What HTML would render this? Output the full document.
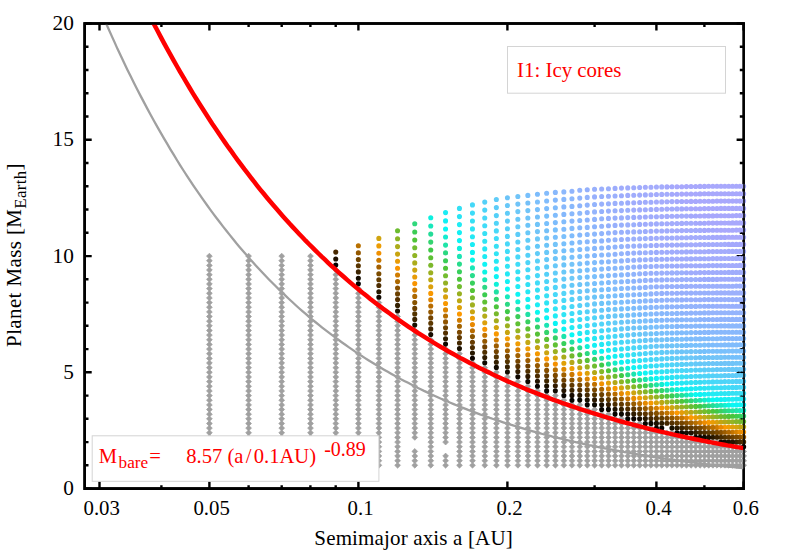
<!DOCTYPE html>
<html><head><meta charset="utf-8"><title>chart</title>
<style>
html,body{margin:0;padding:0;background:#fff;}
body{width:789px;height:552px;position:relative;overflow:hidden;font-family:"Liberation Serif",serif;}
div{font-family:"Liberation Serif",serif;}
</style></head><body>
<svg width="789" height="552" viewBox="0 0 789 552" style="position:absolute;left:0;top:0">
<defs><clipPath id="c"><rect x="84.7" y="23.5" width="662.9" height="465.1"/></clipPath></defs>
<path d="M99.5 488.6v-7.0M99.5 23.5v7.0M161.4 488.6v-3.4M161.4 23.5v3.4M209.4 488.6v-7.0M209.4 23.5v7.0M248.6 488.6v-3.4M248.6 23.5v3.4M281.7 488.6v-3.4M281.7 23.5v3.4M310.4 488.6v-3.4M310.4 23.5v3.4M335.7 488.6v-3.4M335.7 23.5v3.4M358.4 488.6v-7.0M358.4 23.5v7.0M507.4 488.6v-7.0M507.4 23.5v7.0M594.6 488.6v-3.4M594.6 23.5v3.4M656.4 488.6v-7.0M656.4 23.5v7.0M704.4 488.6v-3.4M704.4 23.5v3.4M743.6 488.6v-7.0M743.6 23.5v7.0M84.7 488.6h7.0M743.6 488.6h-7.0M84.7 465.3h3.8M743.6 465.3h-3.8M84.7 442.1h3.8M743.6 442.1h-3.8M84.7 418.8h3.8M743.6 418.8h-3.8M84.7 395.6h3.8M743.6 395.6h-3.8M84.7 372.3h7.0M743.6 372.3h-7.0M84.7 349.1h3.8M743.6 349.1h-3.8M84.7 325.8h3.8M743.6 325.8h-3.8M84.7 302.6h3.8M743.6 302.6h-3.8M84.7 279.3h3.8M743.6 279.3h-3.8M84.7 256.1h7.0M743.6 256.1h-7.0M84.7 232.8h3.8M743.6 232.8h-3.8M84.7 209.5h3.8M743.6 209.5h-3.8M84.7 186.3h3.8M743.6 186.3h-3.8M84.7 163.0h3.8M743.6 163.0h-3.8M84.7 139.8h7.0M743.6 139.8h-7.0M84.7 116.5h3.8M743.6 116.5h-3.8M84.7 93.3h3.8M743.6 93.3h-3.8M84.7 70.0h3.8M743.6 70.0h-3.8M84.7 46.8h3.8M743.6 46.8h-3.8M84.7 23.5h7.0M743.6 23.5h-7.0" fill="none" stroke="#000" stroke-width="2.4"/>
<rect x="84.7" y="23.5" width="658.9" height="465.1" fill="none" stroke="#000" stroke-width="2.6"/>
<g clip-path="url(#c)">
<path d="M206.5 465.3l2.9 -2.9 2.9 2.9 -2.9 2.9zM206.5 460.7l2.9 -2.9 2.9 2.9 -2.9 2.9zM206.5 456.0l2.9 -2.9 2.9 2.9 -2.9 2.9zM206.5 451.4l2.9 -2.9 2.9 2.9 -2.9 2.9zM206.5 446.7l2.9 -2.9 2.9 2.9 -2.9 2.9zM206.5 442.1l2.9 -2.9 2.9 2.9 -2.9 2.9zM206.5 437.4l2.9 -2.9 2.9 2.9 -2.9 2.9zM206.5 432.8l2.9 -2.9 2.9 2.9 -2.9 2.9zM206.5 428.1l2.9 -2.9 2.9 2.9 -2.9 2.9zM206.5 423.5l2.9 -2.9 2.9 2.9 -2.9 2.9zM206.5 418.8l2.9 -2.9 2.9 2.9 -2.9 2.9zM206.5 414.2l2.9 -2.9 2.9 2.9 -2.9 2.9zM206.5 409.5l2.9 -2.9 2.9 2.9 -2.9 2.9zM206.5 404.9l2.9 -2.9 2.9 2.9 -2.9 2.9zM206.5 400.2l2.9 -2.9 2.9 2.9 -2.9 2.9zM206.5 395.6l2.9 -2.9 2.9 2.9 -2.9 2.9zM206.5 390.9l2.9 -2.9 2.9 2.9 -2.9 2.9zM206.5 386.3l2.9 -2.9 2.9 2.9 -2.9 2.9zM206.5 381.6l2.9 -2.9 2.9 2.9 -2.9 2.9zM206.5 377.0l2.9 -2.9 2.9 2.9 -2.9 2.9zM206.5 372.3l2.9 -2.9 2.9 2.9 -2.9 2.9zM206.5 367.7l2.9 -2.9 2.9 2.9 -2.9 2.9zM206.5 363.0l2.9 -2.9 2.9 2.9 -2.9 2.9zM206.5 358.4l2.9 -2.9 2.9 2.9 -2.9 2.9zM206.5 353.7l2.9 -2.9 2.9 2.9 -2.9 2.9zM206.5 349.1l2.9 -2.9 2.9 2.9 -2.9 2.9zM206.5 344.4l2.9 -2.9 2.9 2.9 -2.9 2.9zM206.5 339.8l2.9 -2.9 2.9 2.9 -2.9 2.9zM206.5 335.1l2.9 -2.9 2.9 2.9 -2.9 2.9zM206.5 330.5l2.9 -2.9 2.9 2.9 -2.9 2.9zM206.5 325.8l2.9 -2.9 2.9 2.9 -2.9 2.9zM206.5 321.2l2.9 -2.9 2.9 2.9 -2.9 2.9zM206.5 316.5l2.9 -2.9 2.9 2.9 -2.9 2.9zM206.5 311.9l2.9 -2.9 2.9 2.9 -2.9 2.9zM206.5 307.2l2.9 -2.9 2.9 2.9 -2.9 2.9zM206.5 302.6l2.9 -2.9 2.9 2.9 -2.9 2.9zM206.5 297.9l2.9 -2.9 2.9 2.9 -2.9 2.9zM206.5 293.3l2.9 -2.9 2.9 2.9 -2.9 2.9zM206.5 288.6l2.9 -2.9 2.9 2.9 -2.9 2.9zM206.5 284.0l2.9 -2.9 2.9 2.9 -2.9 2.9zM206.5 279.3l2.9 -2.9 2.9 2.9 -2.9 2.9zM206.5 274.7l2.9 -2.9 2.9 2.9 -2.9 2.9zM206.5 270.0l2.9 -2.9 2.9 2.9 -2.9 2.9zM206.5 265.4l2.9 -2.9 2.9 2.9 -2.9 2.9zM206.5 260.7l2.9 -2.9 2.9 2.9 -2.9 2.9zM206.5 256.1l2.9 -2.9 2.9 2.9 -2.9 2.9zM245.7 465.3l2.9 -2.9 2.9 2.9 -2.9 2.9zM245.7 460.7l2.9 -2.9 2.9 2.9 -2.9 2.9zM245.7 456.0l2.9 -2.9 2.9 2.9 -2.9 2.9zM245.7 451.4l2.9 -2.9 2.9 2.9 -2.9 2.9zM245.7 446.7l2.9 -2.9 2.9 2.9 -2.9 2.9zM245.7 442.1l2.9 -2.9 2.9 2.9 -2.9 2.9zM245.7 437.4l2.9 -2.9 2.9 2.9 -2.9 2.9zM245.7 432.8l2.9 -2.9 2.9 2.9 -2.9 2.9zM245.7 428.1l2.9 -2.9 2.9 2.9 -2.9 2.9zM245.7 423.5l2.9 -2.9 2.9 2.9 -2.9 2.9zM245.7 418.8l2.9 -2.9 2.9 2.9 -2.9 2.9zM245.7 414.2l2.9 -2.9 2.9 2.9 -2.9 2.9zM245.7 409.5l2.9 -2.9 2.9 2.9 -2.9 2.9zM245.7 404.9l2.9 -2.9 2.9 2.9 -2.9 2.9zM245.7 400.2l2.9 -2.9 2.9 2.9 -2.9 2.9zM245.7 395.6l2.9 -2.9 2.9 2.9 -2.9 2.9zM245.7 390.9l2.9 -2.9 2.9 2.9 -2.9 2.9zM245.7 386.3l2.9 -2.9 2.9 2.9 -2.9 2.9zM245.7 381.6l2.9 -2.9 2.9 2.9 -2.9 2.9zM245.7 377.0l2.9 -2.9 2.9 2.9 -2.9 2.9zM245.7 372.3l2.9 -2.9 2.9 2.9 -2.9 2.9zM245.7 367.7l2.9 -2.9 2.9 2.9 -2.9 2.9zM245.7 363.0l2.9 -2.9 2.9 2.9 -2.9 2.9zM245.7 358.4l2.9 -2.9 2.9 2.9 -2.9 2.9zM245.7 353.7l2.9 -2.9 2.9 2.9 -2.9 2.9zM245.7 349.1l2.9 -2.9 2.9 2.9 -2.9 2.9zM245.7 344.4l2.9 -2.9 2.9 2.9 -2.9 2.9zM245.7 339.8l2.9 -2.9 2.9 2.9 -2.9 2.9zM245.7 335.1l2.9 -2.9 2.9 2.9 -2.9 2.9zM245.7 330.5l2.9 -2.9 2.9 2.9 -2.9 2.9zM245.7 325.8l2.9 -2.9 2.9 2.9 -2.9 2.9zM245.7 321.2l2.9 -2.9 2.9 2.9 -2.9 2.9zM245.7 316.5l2.9 -2.9 2.9 2.9 -2.9 2.9zM245.7 311.9l2.9 -2.9 2.9 2.9 -2.9 2.9zM245.7 307.2l2.9 -2.9 2.9 2.9 -2.9 2.9zM245.7 302.6l2.9 -2.9 2.9 2.9 -2.9 2.9zM245.7 297.9l2.9 -2.9 2.9 2.9 -2.9 2.9zM245.7 293.3l2.9 -2.9 2.9 2.9 -2.9 2.9zM245.7 288.6l2.9 -2.9 2.9 2.9 -2.9 2.9zM245.7 284.0l2.9 -2.9 2.9 2.9 -2.9 2.9zM245.7 279.3l2.9 -2.9 2.9 2.9 -2.9 2.9zM245.7 274.7l2.9 -2.9 2.9 2.9 -2.9 2.9zM245.7 270.0l2.9 -2.9 2.9 2.9 -2.9 2.9zM245.7 265.4l2.9 -2.9 2.9 2.9 -2.9 2.9zM245.7 260.7l2.9 -2.9 2.9 2.9 -2.9 2.9zM245.7 256.1l2.9 -2.9 2.9 2.9 -2.9 2.9zM278.8 465.3l2.9 -2.9 2.9 2.9 -2.9 2.9zM278.8 460.7l2.9 -2.9 2.9 2.9 -2.9 2.9zM278.8 456.0l2.9 -2.9 2.9 2.9 -2.9 2.9zM278.8 451.4l2.9 -2.9 2.9 2.9 -2.9 2.9zM278.8 446.7l2.9 -2.9 2.9 2.9 -2.9 2.9zM278.8 442.1l2.9 -2.9 2.9 2.9 -2.9 2.9zM278.8 437.4l2.9 -2.9 2.9 2.9 -2.9 2.9zM278.8 432.8l2.9 -2.9 2.9 2.9 -2.9 2.9zM278.8 428.1l2.9 -2.9 2.9 2.9 -2.9 2.9zM278.8 423.5l2.9 -2.9 2.9 2.9 -2.9 2.9zM278.8 418.8l2.9 -2.9 2.9 2.9 -2.9 2.9zM278.8 414.2l2.9 -2.9 2.9 2.9 -2.9 2.9zM278.8 409.5l2.9 -2.9 2.9 2.9 -2.9 2.9zM278.8 404.9l2.9 -2.9 2.9 2.9 -2.9 2.9zM278.8 400.2l2.9 -2.9 2.9 2.9 -2.9 2.9zM278.8 395.6l2.9 -2.9 2.9 2.9 -2.9 2.9zM278.8 390.9l2.9 -2.9 2.9 2.9 -2.9 2.9zM278.8 386.3l2.9 -2.9 2.9 2.9 -2.9 2.9zM278.8 381.6l2.9 -2.9 2.9 2.9 -2.9 2.9zM278.8 377.0l2.9 -2.9 2.9 2.9 -2.9 2.9zM278.8 372.3l2.9 -2.9 2.9 2.9 -2.9 2.9zM278.8 367.7l2.9 -2.9 2.9 2.9 -2.9 2.9zM278.8 363.0l2.9 -2.9 2.9 2.9 -2.9 2.9zM278.8 358.4l2.9 -2.9 2.9 2.9 -2.9 2.9zM278.8 353.7l2.9 -2.9 2.9 2.9 -2.9 2.9zM278.8 349.1l2.9 -2.9 2.9 2.9 -2.9 2.9zM278.8 344.4l2.9 -2.9 2.9 2.9 -2.9 2.9zM278.8 339.8l2.9 -2.9 2.9 2.9 -2.9 2.9zM278.8 335.1l2.9 -2.9 2.9 2.9 -2.9 2.9zM278.8 330.5l2.9 -2.9 2.9 2.9 -2.9 2.9zM278.8 325.8l2.9 -2.9 2.9 2.9 -2.9 2.9zM278.8 321.2l2.9 -2.9 2.9 2.9 -2.9 2.9zM278.8 316.5l2.9 -2.9 2.9 2.9 -2.9 2.9zM278.8 311.9l2.9 -2.9 2.9 2.9 -2.9 2.9zM278.8 307.2l2.9 -2.9 2.9 2.9 -2.9 2.9zM278.8 302.6l2.9 -2.9 2.9 2.9 -2.9 2.9zM278.8 297.9l2.9 -2.9 2.9 2.9 -2.9 2.9zM278.8 293.3l2.9 -2.9 2.9 2.9 -2.9 2.9zM278.8 288.6l2.9 -2.9 2.9 2.9 -2.9 2.9zM278.8 284.0l2.9 -2.9 2.9 2.9 -2.9 2.9zM278.8 279.3l2.9 -2.9 2.9 2.9 -2.9 2.9zM278.8 274.7l2.9 -2.9 2.9 2.9 -2.9 2.9zM278.8 270.0l2.9 -2.9 2.9 2.9 -2.9 2.9zM278.8 265.4l2.9 -2.9 2.9 2.9 -2.9 2.9zM278.8 260.7l2.9 -2.9 2.9 2.9 -2.9 2.9zM278.8 256.1l2.9 -2.9 2.9 2.9 -2.9 2.9zM307.6 465.3l2.9 -2.9 2.9 2.9 -2.9 2.9zM307.6 460.7l2.9 -2.9 2.9 2.9 -2.9 2.9zM307.6 456.0l2.9 -2.9 2.9 2.9 -2.9 2.9zM307.6 451.4l2.9 -2.9 2.9 2.9 -2.9 2.9zM307.6 446.7l2.9 -2.9 2.9 2.9 -2.9 2.9zM307.6 442.1l2.9 -2.9 2.9 2.9 -2.9 2.9zM307.6 437.4l2.9 -2.9 2.9 2.9 -2.9 2.9zM307.6 432.8l2.9 -2.9 2.9 2.9 -2.9 2.9zM307.6 428.1l2.9 -2.9 2.9 2.9 -2.9 2.9zM307.6 423.5l2.9 -2.9 2.9 2.9 -2.9 2.9zM307.6 418.8l2.9 -2.9 2.9 2.9 -2.9 2.9zM307.6 414.2l2.9 -2.9 2.9 2.9 -2.9 2.9zM307.6 409.5l2.9 -2.9 2.9 2.9 -2.9 2.9zM307.6 404.9l2.9 -2.9 2.9 2.9 -2.9 2.9zM307.6 400.2l2.9 -2.9 2.9 2.9 -2.9 2.9zM307.6 395.6l2.9 -2.9 2.9 2.9 -2.9 2.9zM307.6 390.9l2.9 -2.9 2.9 2.9 -2.9 2.9zM307.6 386.3l2.9 -2.9 2.9 2.9 -2.9 2.9zM307.6 381.6l2.9 -2.9 2.9 2.9 -2.9 2.9zM307.6 377.0l2.9 -2.9 2.9 2.9 -2.9 2.9zM307.6 372.3l2.9 -2.9 2.9 2.9 -2.9 2.9zM307.6 367.7l2.9 -2.9 2.9 2.9 -2.9 2.9zM307.6 363.0l2.9 -2.9 2.9 2.9 -2.9 2.9zM307.6 358.4l2.9 -2.9 2.9 2.9 -2.9 2.9zM307.6 353.7l2.9 -2.9 2.9 2.9 -2.9 2.9zM307.6 349.1l2.9 -2.9 2.9 2.9 -2.9 2.9zM307.6 344.4l2.9 -2.9 2.9 2.9 -2.9 2.9zM307.6 339.8l2.9 -2.9 2.9 2.9 -2.9 2.9zM307.6 335.1l2.9 -2.9 2.9 2.9 -2.9 2.9zM307.6 330.5l2.9 -2.9 2.9 2.9 -2.9 2.9zM307.6 325.8l2.9 -2.9 2.9 2.9 -2.9 2.9zM307.6 321.2l2.9 -2.9 2.9 2.9 -2.9 2.9zM307.6 316.5l2.9 -2.9 2.9 2.9 -2.9 2.9zM307.6 311.9l2.9 -2.9 2.9 2.9 -2.9 2.9zM307.6 307.2l2.9 -2.9 2.9 2.9 -2.9 2.9zM307.6 302.6l2.9 -2.9 2.9 2.9 -2.9 2.9zM307.6 297.9l2.9 -2.9 2.9 2.9 -2.9 2.9zM307.6 293.3l2.9 -2.9 2.9 2.9 -2.9 2.9zM307.6 288.6l2.9 -2.9 2.9 2.9 -2.9 2.9zM307.6 284.0l2.9 -2.9 2.9 2.9 -2.9 2.9zM307.6 279.3l2.9 -2.9 2.9 2.9 -2.9 2.9zM307.6 274.7l2.9 -2.9 2.9 2.9 -2.9 2.9zM307.6 270.0l2.9 -2.9 2.9 2.9 -2.9 2.9zM307.6 265.4l2.9 -2.9 2.9 2.9 -2.9 2.9zM307.6 260.7l2.9 -2.9 2.9 2.9 -2.9 2.9zM307.6 256.1l2.9 -2.9 2.9 2.9 -2.9 2.9zM332.9 465.3l2.9 -2.9 2.9 2.9 -2.9 2.9zM332.9 460.7l2.9 -2.9 2.9 2.9 -2.9 2.9zM332.9 456.0l2.9 -2.9 2.9 2.9 -2.9 2.9zM332.9 451.4l2.9 -2.9 2.9 2.9 -2.9 2.9zM332.9 446.7l2.9 -2.9 2.9 2.9 -2.9 2.9zM332.9 442.1l2.9 -2.9 2.9 2.9 -2.9 2.9zM332.9 437.4l2.9 -2.9 2.9 2.9 -2.9 2.9zM332.9 432.8l2.9 -2.9 2.9 2.9 -2.9 2.9zM332.9 428.1l2.9 -2.9 2.9 2.9 -2.9 2.9zM332.9 423.5l2.9 -2.9 2.9 2.9 -2.9 2.9zM332.9 418.8l2.9 -2.9 2.9 2.9 -2.9 2.9zM332.9 414.2l2.9 -2.9 2.9 2.9 -2.9 2.9zM332.9 409.5l2.9 -2.9 2.9 2.9 -2.9 2.9zM332.9 404.9l2.9 -2.9 2.9 2.9 -2.9 2.9zM332.9 400.2l2.9 -2.9 2.9 2.9 -2.9 2.9zM332.9 395.6l2.9 -2.9 2.9 2.9 -2.9 2.9zM332.9 390.9l2.9 -2.9 2.9 2.9 -2.9 2.9zM332.9 386.3l2.9 -2.9 2.9 2.9 -2.9 2.9zM332.9 381.6l2.9 -2.9 2.9 2.9 -2.9 2.9zM332.9 377.0l2.9 -2.9 2.9 2.9 -2.9 2.9zM332.9 372.3l2.9 -2.9 2.9 2.9 -2.9 2.9zM332.9 367.7l2.9 -2.9 2.9 2.9 -2.9 2.9zM332.9 363.0l2.9 -2.9 2.9 2.9 -2.9 2.9zM332.9 358.4l2.9 -2.9 2.9 2.9 -2.9 2.9zM332.9 353.7l2.9 -2.9 2.9 2.9 -2.9 2.9zM332.9 349.1l2.9 -2.9 2.9 2.9 -2.9 2.9zM332.9 344.4l2.9 -2.9 2.9 2.9 -2.9 2.9zM332.9 339.8l2.9 -2.9 2.9 2.9 -2.9 2.9zM332.9 335.1l2.9 -2.9 2.9 2.9 -2.9 2.9zM332.9 330.5l2.9 -2.9 2.9 2.9 -2.9 2.9zM332.9 325.8l2.9 -2.9 2.9 2.9 -2.9 2.9zM332.9 321.2l2.9 -2.9 2.9 2.9 -2.9 2.9zM332.9 316.5l2.9 -2.9 2.9 2.9 -2.9 2.9zM332.9 311.9l2.9 -2.9 2.9 2.9 -2.9 2.9zM332.9 307.2l2.9 -2.9 2.9 2.9 -2.9 2.9zM332.9 302.6l2.9 -2.9 2.9 2.9 -2.9 2.9zM332.9 297.9l2.9 -2.9 2.9 2.9 -2.9 2.9zM332.9 293.3l2.9 -2.9 2.9 2.9 -2.9 2.9zM332.9 288.6l2.9 -2.9 2.9 2.9 -2.9 2.9zM332.9 284.0l2.9 -2.9 2.9 2.9 -2.9 2.9zM332.9 279.3l2.9 -2.9 2.9 2.9 -2.9 2.9zM332.9 274.7l2.9 -2.9 2.9 2.9 -2.9 2.9zM332.9 270.0l2.9 -2.9 2.9 2.9 -2.9 2.9zM355.5 465.3l2.9 -2.9 2.9 2.9 -2.9 2.9zM355.5 460.7l2.9 -2.9 2.9 2.9 -2.9 2.9zM355.5 456.0l2.9 -2.9 2.9 2.9 -2.9 2.9zM355.5 451.4l2.9 -2.9 2.9 2.9 -2.9 2.9zM355.5 446.7l2.9 -2.9 2.9 2.9 -2.9 2.9zM355.5 442.1l2.9 -2.9 2.9 2.9 -2.9 2.9zM355.5 437.4l2.9 -2.9 2.9 2.9 -2.9 2.9zM355.5 432.8l2.9 -2.9 2.9 2.9 -2.9 2.9zM355.5 428.1l2.9 -2.9 2.9 2.9 -2.9 2.9zM355.5 423.5l2.9 -2.9 2.9 2.9 -2.9 2.9zM355.5 418.8l2.9 -2.9 2.9 2.9 -2.9 2.9zM355.5 414.2l2.9 -2.9 2.9 2.9 -2.9 2.9zM355.5 409.5l2.9 -2.9 2.9 2.9 -2.9 2.9zM355.5 404.9l2.9 -2.9 2.9 2.9 -2.9 2.9zM355.5 400.2l2.9 -2.9 2.9 2.9 -2.9 2.9zM355.5 395.6l2.9 -2.9 2.9 2.9 -2.9 2.9zM355.5 390.9l2.9 -2.9 2.9 2.9 -2.9 2.9zM355.5 386.3l2.9 -2.9 2.9 2.9 -2.9 2.9zM355.5 381.6l2.9 -2.9 2.9 2.9 -2.9 2.9zM355.5 377.0l2.9 -2.9 2.9 2.9 -2.9 2.9zM355.5 372.3l2.9 -2.9 2.9 2.9 -2.9 2.9zM355.5 367.7l2.9 -2.9 2.9 2.9 -2.9 2.9zM355.5 363.0l2.9 -2.9 2.9 2.9 -2.9 2.9zM355.5 358.4l2.9 -2.9 2.9 2.9 -2.9 2.9zM355.5 353.7l2.9 -2.9 2.9 2.9 -2.9 2.9zM355.5 349.1l2.9 -2.9 2.9 2.9 -2.9 2.9zM355.5 344.4l2.9 -2.9 2.9 2.9 -2.9 2.9zM355.5 339.8l2.9 -2.9 2.9 2.9 -2.9 2.9zM355.5 335.1l2.9 -2.9 2.9 2.9 -2.9 2.9zM355.5 330.5l2.9 -2.9 2.9 2.9 -2.9 2.9zM355.5 325.8l2.9 -2.9 2.9 2.9 -2.9 2.9zM355.5 321.2l2.9 -2.9 2.9 2.9 -2.9 2.9zM355.5 316.5l2.9 -2.9 2.9 2.9 -2.9 2.9zM355.5 311.9l2.9 -2.9 2.9 2.9 -2.9 2.9zM355.5 307.2l2.9 -2.9 2.9 2.9 -2.9 2.9zM355.5 302.6l2.9 -2.9 2.9 2.9 -2.9 2.9zM355.5 297.9l2.9 -2.9 2.9 2.9 -2.9 2.9zM355.5 293.3l2.9 -2.9 2.9 2.9 -2.9 2.9zM355.5 288.6l2.9 -2.9 2.9 2.9 -2.9 2.9zM376.0 465.3l2.9 -2.9 2.9 2.9 -2.9 2.9zM376.0 460.7l2.9 -2.9 2.9 2.9 -2.9 2.9zM376.0 456.0l2.9 -2.9 2.9 2.9 -2.9 2.9zM376.0 451.4l2.9 -2.9 2.9 2.9 -2.9 2.9zM376.0 446.7l2.9 -2.9 2.9 2.9 -2.9 2.9zM376.0 442.1l2.9 -2.9 2.9 2.9 -2.9 2.9zM376.0 437.4l2.9 -2.9 2.9 2.9 -2.9 2.9zM376.0 432.8l2.9 -2.9 2.9 2.9 -2.9 2.9zM376.0 428.1l2.9 -2.9 2.9 2.9 -2.9 2.9zM376.0 423.5l2.9 -2.9 2.9 2.9 -2.9 2.9zM376.0 418.8l2.9 -2.9 2.9 2.9 -2.9 2.9zM376.0 414.2l2.9 -2.9 2.9 2.9 -2.9 2.9zM376.0 409.5l2.9 -2.9 2.9 2.9 -2.9 2.9zM376.0 404.9l2.9 -2.9 2.9 2.9 -2.9 2.9zM376.0 400.2l2.9 -2.9 2.9 2.9 -2.9 2.9zM376.0 395.6l2.9 -2.9 2.9 2.9 -2.9 2.9zM376.0 390.9l2.9 -2.9 2.9 2.9 -2.9 2.9zM376.0 386.3l2.9 -2.9 2.9 2.9 -2.9 2.9zM376.0 381.6l2.9 -2.9 2.9 2.9 -2.9 2.9zM376.0 377.0l2.9 -2.9 2.9 2.9 -2.9 2.9zM376.0 372.3l2.9 -2.9 2.9 2.9 -2.9 2.9zM376.0 367.7l2.9 -2.9 2.9 2.9 -2.9 2.9zM376.0 363.0l2.9 -2.9 2.9 2.9 -2.9 2.9zM376.0 358.4l2.9 -2.9 2.9 2.9 -2.9 2.9zM376.0 353.7l2.9 -2.9 2.9 2.9 -2.9 2.9zM376.0 349.1l2.9 -2.9 2.9 2.9 -2.9 2.9zM376.0 344.4l2.9 -2.9 2.9 2.9 -2.9 2.9zM376.0 339.8l2.9 -2.9 2.9 2.9 -2.9 2.9zM376.0 335.1l2.9 -2.9 2.9 2.9 -2.9 2.9zM376.0 330.5l2.9 -2.9 2.9 2.9 -2.9 2.9zM376.0 325.8l2.9 -2.9 2.9 2.9 -2.9 2.9zM376.0 321.2l2.9 -2.9 2.9 2.9 -2.9 2.9zM376.0 316.5l2.9 -2.9 2.9 2.9 -2.9 2.9zM376.0 311.9l2.9 -2.9 2.9 2.9 -2.9 2.9zM376.0 307.2l2.9 -2.9 2.9 2.9 -2.9 2.9zM376.0 302.6l2.9 -2.9 2.9 2.9 -2.9 2.9zM394.7 465.3l2.9 -2.9 2.9 2.9 -2.9 2.9zM394.7 460.7l2.9 -2.9 2.9 2.9 -2.9 2.9zM394.7 456.0l2.9 -2.9 2.9 2.9 -2.9 2.9zM394.7 451.4l2.9 -2.9 2.9 2.9 -2.9 2.9zM394.7 446.7l2.9 -2.9 2.9 2.9 -2.9 2.9zM394.7 442.1l2.9 -2.9 2.9 2.9 -2.9 2.9zM394.7 437.4l2.9 -2.9 2.9 2.9 -2.9 2.9zM394.7 432.8l2.9 -2.9 2.9 2.9 -2.9 2.9zM394.7 428.1l2.9 -2.9 2.9 2.9 -2.9 2.9zM394.7 423.5l2.9 -2.9 2.9 2.9 -2.9 2.9zM394.7 418.8l2.9 -2.9 2.9 2.9 -2.9 2.9zM394.7 414.2l2.9 -2.9 2.9 2.9 -2.9 2.9zM394.7 409.5l2.9 -2.9 2.9 2.9 -2.9 2.9zM394.7 404.9l2.9 -2.9 2.9 2.9 -2.9 2.9zM394.7 400.2l2.9 -2.9 2.9 2.9 -2.9 2.9zM394.7 395.6l2.9 -2.9 2.9 2.9 -2.9 2.9zM394.7 390.9l2.9 -2.9 2.9 2.9 -2.9 2.9zM394.7 386.3l2.9 -2.9 2.9 2.9 -2.9 2.9zM394.7 381.6l2.9 -2.9 2.9 2.9 -2.9 2.9zM394.7 377.0l2.9 -2.9 2.9 2.9 -2.9 2.9zM394.7 372.3l2.9 -2.9 2.9 2.9 -2.9 2.9zM394.7 367.7l2.9 -2.9 2.9 2.9 -2.9 2.9zM394.7 363.0l2.9 -2.9 2.9 2.9 -2.9 2.9zM394.7 358.4l2.9 -2.9 2.9 2.9 -2.9 2.9zM394.7 353.7l2.9 -2.9 2.9 2.9 -2.9 2.9zM394.7 349.1l2.9 -2.9 2.9 2.9 -2.9 2.9zM394.7 344.4l2.9 -2.9 2.9 2.9 -2.9 2.9zM394.7 339.8l2.9 -2.9 2.9 2.9 -2.9 2.9zM394.7 335.1l2.9 -2.9 2.9 2.9 -2.9 2.9zM394.7 330.5l2.9 -2.9 2.9 2.9 -2.9 2.9zM394.7 325.8l2.9 -2.9 2.9 2.9 -2.9 2.9zM394.7 321.2l2.9 -2.9 2.9 2.9 -2.9 2.9zM394.7 316.5l2.9 -2.9 2.9 2.9 -2.9 2.9zM411.9 465.3l2.9 -2.9 2.9 2.9 -2.9 2.9zM411.9 460.7l2.9 -2.9 2.9 2.9 -2.9 2.9zM411.9 456.0l2.9 -2.9 2.9 2.9 -2.9 2.9zM411.9 451.4l2.9 -2.9 2.9 2.9 -2.9 2.9zM411.9 437.4l2.9 -2.9 2.9 2.9 -2.9 2.9zM411.9 432.8l2.9 -2.9 2.9 2.9 -2.9 2.9zM411.9 428.1l2.9 -2.9 2.9 2.9 -2.9 2.9zM411.9 423.5l2.9 -2.9 2.9 2.9 -2.9 2.9zM411.9 418.8l2.9 -2.9 2.9 2.9 -2.9 2.9zM411.9 414.2l2.9 -2.9 2.9 2.9 -2.9 2.9zM411.9 409.5l2.9 -2.9 2.9 2.9 -2.9 2.9zM411.9 404.9l2.9 -2.9 2.9 2.9 -2.9 2.9zM411.9 400.2l2.9 -2.9 2.9 2.9 -2.9 2.9zM411.9 395.6l2.9 -2.9 2.9 2.9 -2.9 2.9zM411.9 390.9l2.9 -2.9 2.9 2.9 -2.9 2.9zM411.9 386.3l2.9 -2.9 2.9 2.9 -2.9 2.9zM411.9 381.6l2.9 -2.9 2.9 2.9 -2.9 2.9zM411.9 377.0l2.9 -2.9 2.9 2.9 -2.9 2.9zM411.9 372.3l2.9 -2.9 2.9 2.9 -2.9 2.9zM411.9 367.7l2.9 -2.9 2.9 2.9 -2.9 2.9zM411.9 363.0l2.9 -2.9 2.9 2.9 -2.9 2.9zM411.9 358.4l2.9 -2.9 2.9 2.9 -2.9 2.9zM411.9 353.7l2.9 -2.9 2.9 2.9 -2.9 2.9zM411.9 349.1l2.9 -2.9 2.9 2.9 -2.9 2.9zM411.9 344.4l2.9 -2.9 2.9 2.9 -2.9 2.9zM411.9 339.8l2.9 -2.9 2.9 2.9 -2.9 2.9zM411.9 335.1l2.9 -2.9 2.9 2.9 -2.9 2.9zM411.9 330.5l2.9 -2.9 2.9 2.9 -2.9 2.9zM427.9 465.3l2.9 -2.9 2.9 2.9 -2.9 2.9zM427.9 460.7l2.9 -2.9 2.9 2.9 -2.9 2.9zM427.9 456.0l2.9 -2.9 2.9 2.9 -2.9 2.9zM427.9 451.4l2.9 -2.9 2.9 2.9 -2.9 2.9zM427.9 446.7l2.9 -2.9 2.9 2.9 -2.9 2.9zM427.9 442.1l2.9 -2.9 2.9 2.9 -2.9 2.9zM427.9 437.4l2.9 -2.9 2.9 2.9 -2.9 2.9zM427.9 432.8l2.9 -2.9 2.9 2.9 -2.9 2.9zM427.9 428.1l2.9 -2.9 2.9 2.9 -2.9 2.9zM427.9 423.5l2.9 -2.9 2.9 2.9 -2.9 2.9zM427.9 418.8l2.9 -2.9 2.9 2.9 -2.9 2.9zM427.9 414.2l2.9 -2.9 2.9 2.9 -2.9 2.9zM427.9 409.5l2.9 -2.9 2.9 2.9 -2.9 2.9zM427.9 404.9l2.9 -2.9 2.9 2.9 -2.9 2.9zM427.9 400.2l2.9 -2.9 2.9 2.9 -2.9 2.9zM427.9 395.6l2.9 -2.9 2.9 2.9 -2.9 2.9zM427.9 390.9l2.9 -2.9 2.9 2.9 -2.9 2.9zM427.9 386.3l2.9 -2.9 2.9 2.9 -2.9 2.9zM427.9 381.6l2.9 -2.9 2.9 2.9 -2.9 2.9zM427.9 377.0l2.9 -2.9 2.9 2.9 -2.9 2.9zM427.9 372.3l2.9 -2.9 2.9 2.9 -2.9 2.9zM427.9 367.7l2.9 -2.9 2.9 2.9 -2.9 2.9zM427.9 363.0l2.9 -2.9 2.9 2.9 -2.9 2.9zM427.9 358.4l2.9 -2.9 2.9 2.9 -2.9 2.9zM427.9 353.7l2.9 -2.9 2.9 2.9 -2.9 2.9zM427.9 349.1l2.9 -2.9 2.9 2.9 -2.9 2.9zM427.9 344.4l2.9 -2.9 2.9 2.9 -2.9 2.9zM427.9 339.8l2.9 -2.9 2.9 2.9 -2.9 2.9zM442.7 465.3l2.9 -2.9 2.9 2.9 -2.9 2.9zM442.7 460.7l2.9 -2.9 2.9 2.9 -2.9 2.9zM442.7 456.0l2.9 -2.9 2.9 2.9 -2.9 2.9zM442.7 442.1l2.9 -2.9 2.9 2.9 -2.9 2.9zM442.7 437.4l2.9 -2.9 2.9 2.9 -2.9 2.9zM442.7 432.8l2.9 -2.9 2.9 2.9 -2.9 2.9zM442.7 428.1l2.9 -2.9 2.9 2.9 -2.9 2.9zM442.7 423.5l2.9 -2.9 2.9 2.9 -2.9 2.9zM442.7 418.8l2.9 -2.9 2.9 2.9 -2.9 2.9zM442.7 414.2l2.9 -2.9 2.9 2.9 -2.9 2.9zM442.7 409.5l2.9 -2.9 2.9 2.9 -2.9 2.9zM442.7 404.9l2.9 -2.9 2.9 2.9 -2.9 2.9zM442.7 400.2l2.9 -2.9 2.9 2.9 -2.9 2.9zM442.7 395.6l2.9 -2.9 2.9 2.9 -2.9 2.9zM442.7 390.9l2.9 -2.9 2.9 2.9 -2.9 2.9zM442.7 386.3l2.9 -2.9 2.9 2.9 -2.9 2.9zM442.7 381.6l2.9 -2.9 2.9 2.9 -2.9 2.9zM442.7 377.0l2.9 -2.9 2.9 2.9 -2.9 2.9zM442.7 372.3l2.9 -2.9 2.9 2.9 -2.9 2.9zM442.7 367.7l2.9 -2.9 2.9 2.9 -2.9 2.9zM442.7 363.0l2.9 -2.9 2.9 2.9 -2.9 2.9zM442.7 358.4l2.9 -2.9 2.9 2.9 -2.9 2.9zM442.7 353.7l2.9 -2.9 2.9 2.9 -2.9 2.9zM442.7 349.1l2.9 -2.9 2.9 2.9 -2.9 2.9zM456.6 465.3l2.9 -2.9 2.9 2.9 -2.9 2.9zM456.6 460.7l2.9 -2.9 2.9 2.9 -2.9 2.9zM456.6 456.0l2.9 -2.9 2.9 2.9 -2.9 2.9zM456.6 451.4l2.9 -2.9 2.9 2.9 -2.9 2.9zM456.6 446.7l2.9 -2.9 2.9 2.9 -2.9 2.9zM456.6 442.1l2.9 -2.9 2.9 2.9 -2.9 2.9zM456.6 437.4l2.9 -2.9 2.9 2.9 -2.9 2.9zM456.6 432.8l2.9 -2.9 2.9 2.9 -2.9 2.9zM456.6 428.1l2.9 -2.9 2.9 2.9 -2.9 2.9zM456.6 423.5l2.9 -2.9 2.9 2.9 -2.9 2.9zM456.6 418.8l2.9 -2.9 2.9 2.9 -2.9 2.9zM456.6 414.2l2.9 -2.9 2.9 2.9 -2.9 2.9zM456.6 409.5l2.9 -2.9 2.9 2.9 -2.9 2.9zM456.6 404.9l2.9 -2.9 2.9 2.9 -2.9 2.9zM456.6 400.2l2.9 -2.9 2.9 2.9 -2.9 2.9zM456.6 395.6l2.9 -2.9 2.9 2.9 -2.9 2.9zM456.6 390.9l2.9 -2.9 2.9 2.9 -2.9 2.9zM456.6 386.3l2.9 -2.9 2.9 2.9 -2.9 2.9zM456.6 381.6l2.9 -2.9 2.9 2.9 -2.9 2.9zM456.6 377.0l2.9 -2.9 2.9 2.9 -2.9 2.9zM456.6 372.3l2.9 -2.9 2.9 2.9 -2.9 2.9zM456.6 367.7l2.9 -2.9 2.9 2.9 -2.9 2.9zM456.6 363.0l2.9 -2.9 2.9 2.9 -2.9 2.9zM456.6 358.4l2.9 -2.9 2.9 2.9 -2.9 2.9zM456.6 353.7l2.9 -2.9 2.9 2.9 -2.9 2.9zM469.6 465.3l2.9 -2.9 2.9 2.9 -2.9 2.9zM469.6 460.7l2.9 -2.9 2.9 2.9 -2.9 2.9zM469.6 456.0l2.9 -2.9 2.9 2.9 -2.9 2.9zM469.6 451.4l2.9 -2.9 2.9 2.9 -2.9 2.9zM469.6 446.7l2.9 -2.9 2.9 2.9 -2.9 2.9zM469.6 442.1l2.9 -2.9 2.9 2.9 -2.9 2.9zM469.6 437.4l2.9 -2.9 2.9 2.9 -2.9 2.9zM469.6 432.8l2.9 -2.9 2.9 2.9 -2.9 2.9zM469.6 428.1l2.9 -2.9 2.9 2.9 -2.9 2.9zM469.6 423.5l2.9 -2.9 2.9 2.9 -2.9 2.9zM469.6 418.8l2.9 -2.9 2.9 2.9 -2.9 2.9zM469.6 414.2l2.9 -2.9 2.9 2.9 -2.9 2.9zM469.6 409.5l2.9 -2.9 2.9 2.9 -2.9 2.9zM469.6 404.9l2.9 -2.9 2.9 2.9 -2.9 2.9zM469.6 400.2l2.9 -2.9 2.9 2.9 -2.9 2.9zM469.6 395.6l2.9 -2.9 2.9 2.9 -2.9 2.9zM469.6 390.9l2.9 -2.9 2.9 2.9 -2.9 2.9zM469.6 386.3l2.9 -2.9 2.9 2.9 -2.9 2.9zM469.6 381.6l2.9 -2.9 2.9 2.9 -2.9 2.9zM469.6 377.0l2.9 -2.9 2.9 2.9 -2.9 2.9zM469.6 372.3l2.9 -2.9 2.9 2.9 -2.9 2.9zM469.6 367.7l2.9 -2.9 2.9 2.9 -2.9 2.9zM469.6 363.0l2.9 -2.9 2.9 2.9 -2.9 2.9zM481.9 465.3l2.9 -2.9 2.9 2.9 -2.9 2.9zM481.9 460.7l2.9 -2.9 2.9 2.9 -2.9 2.9zM481.9 456.0l2.9 -2.9 2.9 2.9 -2.9 2.9zM481.9 451.4l2.9 -2.9 2.9 2.9 -2.9 2.9zM481.9 446.7l2.9 -2.9 2.9 2.9 -2.9 2.9zM481.9 442.1l2.9 -2.9 2.9 2.9 -2.9 2.9zM481.9 437.4l2.9 -2.9 2.9 2.9 -2.9 2.9zM481.9 432.8l2.9 -2.9 2.9 2.9 -2.9 2.9zM481.9 428.1l2.9 -2.9 2.9 2.9 -2.9 2.9zM481.9 423.5l2.9 -2.9 2.9 2.9 -2.9 2.9zM481.9 418.8l2.9 -2.9 2.9 2.9 -2.9 2.9zM481.9 414.2l2.9 -2.9 2.9 2.9 -2.9 2.9zM481.9 409.5l2.9 -2.9 2.9 2.9 -2.9 2.9zM481.9 404.9l2.9 -2.9 2.9 2.9 -2.9 2.9zM481.9 400.2l2.9 -2.9 2.9 2.9 -2.9 2.9zM481.9 395.6l2.9 -2.9 2.9 2.9 -2.9 2.9zM481.9 390.9l2.9 -2.9 2.9 2.9 -2.9 2.9zM481.9 386.3l2.9 -2.9 2.9 2.9 -2.9 2.9zM481.9 381.6l2.9 -2.9 2.9 2.9 -2.9 2.9zM481.9 377.0l2.9 -2.9 2.9 2.9 -2.9 2.9zM481.9 372.3l2.9 -2.9 2.9 2.9 -2.9 2.9zM481.9 367.7l2.9 -2.9 2.9 2.9 -2.9 2.9zM493.5 465.3l2.9 -2.9 2.9 2.9 -2.9 2.9zM493.5 460.7l2.9 -2.9 2.9 2.9 -2.9 2.9zM493.5 456.0l2.9 -2.9 2.9 2.9 -2.9 2.9zM493.5 451.4l2.9 -2.9 2.9 2.9 -2.9 2.9zM493.5 446.7l2.9 -2.9 2.9 2.9 -2.9 2.9zM493.5 442.1l2.9 -2.9 2.9 2.9 -2.9 2.9zM493.5 437.4l2.9 -2.9 2.9 2.9 -2.9 2.9zM493.5 432.8l2.9 -2.9 2.9 2.9 -2.9 2.9zM493.5 428.1l2.9 -2.9 2.9 2.9 -2.9 2.9zM493.5 423.5l2.9 -2.9 2.9 2.9 -2.9 2.9zM493.5 418.8l2.9 -2.9 2.9 2.9 -2.9 2.9zM493.5 414.2l2.9 -2.9 2.9 2.9 -2.9 2.9zM493.5 409.5l2.9 -2.9 2.9 2.9 -2.9 2.9zM493.5 404.9l2.9 -2.9 2.9 2.9 -2.9 2.9zM493.5 400.2l2.9 -2.9 2.9 2.9 -2.9 2.9zM493.5 395.6l2.9 -2.9 2.9 2.9 -2.9 2.9zM493.5 390.9l2.9 -2.9 2.9 2.9 -2.9 2.9zM493.5 386.3l2.9 -2.9 2.9 2.9 -2.9 2.9zM493.5 381.6l2.9 -2.9 2.9 2.9 -2.9 2.9zM493.5 377.0l2.9 -2.9 2.9 2.9 -2.9 2.9zM493.5 372.3l2.9 -2.9 2.9 2.9 -2.9 2.9zM504.6 465.3l2.9 -2.9 2.9 2.9 -2.9 2.9zM504.6 460.7l2.9 -2.9 2.9 2.9 -2.9 2.9zM504.6 456.0l2.9 -2.9 2.9 2.9 -2.9 2.9zM504.6 451.4l2.9 -2.9 2.9 2.9 -2.9 2.9zM504.6 446.7l2.9 -2.9 2.9 2.9 -2.9 2.9zM504.6 442.1l2.9 -2.9 2.9 2.9 -2.9 2.9zM504.6 437.4l2.9 -2.9 2.9 2.9 -2.9 2.9zM504.6 432.8l2.9 -2.9 2.9 2.9 -2.9 2.9zM504.6 428.1l2.9 -2.9 2.9 2.9 -2.9 2.9zM504.6 423.5l2.9 -2.9 2.9 2.9 -2.9 2.9zM504.6 418.8l2.9 -2.9 2.9 2.9 -2.9 2.9zM504.6 414.2l2.9 -2.9 2.9 2.9 -2.9 2.9zM504.6 409.5l2.9 -2.9 2.9 2.9 -2.9 2.9zM504.6 404.9l2.9 -2.9 2.9 2.9 -2.9 2.9zM504.6 400.2l2.9 -2.9 2.9 2.9 -2.9 2.9zM504.6 395.6l2.9 -2.9 2.9 2.9 -2.9 2.9zM504.6 390.9l2.9 -2.9 2.9 2.9 -2.9 2.9zM504.6 386.3l2.9 -2.9 2.9 2.9 -2.9 2.9zM504.6 381.6l2.9 -2.9 2.9 2.9 -2.9 2.9zM504.6 377.0l2.9 -2.9 2.9 2.9 -2.9 2.9zM515.0 465.3l2.9 -2.9 2.9 2.9 -2.9 2.9zM515.0 460.7l2.9 -2.9 2.9 2.9 -2.9 2.9zM515.0 456.0l2.9 -2.9 2.9 2.9 -2.9 2.9zM515.0 451.4l2.9 -2.9 2.9 2.9 -2.9 2.9zM515.0 446.7l2.9 -2.9 2.9 2.9 -2.9 2.9zM515.0 442.1l2.9 -2.9 2.9 2.9 -2.9 2.9zM515.0 437.4l2.9 -2.9 2.9 2.9 -2.9 2.9zM515.0 432.8l2.9 -2.9 2.9 2.9 -2.9 2.9zM515.0 428.1l2.9 -2.9 2.9 2.9 -2.9 2.9zM515.0 423.5l2.9 -2.9 2.9 2.9 -2.9 2.9zM515.0 418.8l2.9 -2.9 2.9 2.9 -2.9 2.9zM515.0 414.2l2.9 -2.9 2.9 2.9 -2.9 2.9zM515.0 409.5l2.9 -2.9 2.9 2.9 -2.9 2.9zM515.0 404.9l2.9 -2.9 2.9 2.9 -2.9 2.9zM515.0 400.2l2.9 -2.9 2.9 2.9 -2.9 2.9zM515.0 395.6l2.9 -2.9 2.9 2.9 -2.9 2.9zM515.0 390.9l2.9 -2.9 2.9 2.9 -2.9 2.9zM515.0 386.3l2.9 -2.9 2.9 2.9 -2.9 2.9zM515.0 381.6l2.9 -2.9 2.9 2.9 -2.9 2.9zM525.0 465.3l2.9 -2.9 2.9 2.9 -2.9 2.9zM525.0 460.7l2.9 -2.9 2.9 2.9 -2.9 2.9zM525.0 456.0l2.9 -2.9 2.9 2.9 -2.9 2.9zM525.0 451.4l2.9 -2.9 2.9 2.9 -2.9 2.9zM525.0 446.7l2.9 -2.9 2.9 2.9 -2.9 2.9zM525.0 442.1l2.9 -2.9 2.9 2.9 -2.9 2.9zM525.0 437.4l2.9 -2.9 2.9 2.9 -2.9 2.9zM525.0 432.8l2.9 -2.9 2.9 2.9 -2.9 2.9zM525.0 428.1l2.9 -2.9 2.9 2.9 -2.9 2.9zM525.0 423.5l2.9 -2.9 2.9 2.9 -2.9 2.9zM525.0 418.8l2.9 -2.9 2.9 2.9 -2.9 2.9zM525.0 414.2l2.9 -2.9 2.9 2.9 -2.9 2.9zM525.0 409.5l2.9 -2.9 2.9 2.9 -2.9 2.9zM525.0 404.9l2.9 -2.9 2.9 2.9 -2.9 2.9zM525.0 400.2l2.9 -2.9 2.9 2.9 -2.9 2.9zM525.0 395.6l2.9 -2.9 2.9 2.9 -2.9 2.9zM525.0 390.9l2.9 -2.9 2.9 2.9 -2.9 2.9zM525.0 386.3l2.9 -2.9 2.9 2.9 -2.9 2.9zM534.6 465.3l2.9 -2.9 2.9 2.9 -2.9 2.9zM534.6 460.7l2.9 -2.9 2.9 2.9 -2.9 2.9zM534.6 456.0l2.9 -2.9 2.9 2.9 -2.9 2.9zM534.6 451.4l2.9 -2.9 2.9 2.9 -2.9 2.9zM534.6 446.7l2.9 -2.9 2.9 2.9 -2.9 2.9zM534.6 442.1l2.9 -2.9 2.9 2.9 -2.9 2.9zM534.6 437.4l2.9 -2.9 2.9 2.9 -2.9 2.9zM534.6 432.8l2.9 -2.9 2.9 2.9 -2.9 2.9zM534.6 428.1l2.9 -2.9 2.9 2.9 -2.9 2.9zM534.6 423.5l2.9 -2.9 2.9 2.9 -2.9 2.9zM534.6 418.8l2.9 -2.9 2.9 2.9 -2.9 2.9zM534.6 414.2l2.9 -2.9 2.9 2.9 -2.9 2.9zM534.6 409.5l2.9 -2.9 2.9 2.9 -2.9 2.9zM534.6 404.9l2.9 -2.9 2.9 2.9 -2.9 2.9zM534.6 400.2l2.9 -2.9 2.9 2.9 -2.9 2.9zM534.6 395.6l2.9 -2.9 2.9 2.9 -2.9 2.9zM534.6 390.9l2.9 -2.9 2.9 2.9 -2.9 2.9zM543.8 465.3l2.9 -2.9 2.9 2.9 -2.9 2.9zM543.8 460.7l2.9 -2.9 2.9 2.9 -2.9 2.9zM543.8 456.0l2.9 -2.9 2.9 2.9 -2.9 2.9zM543.8 451.4l2.9 -2.9 2.9 2.9 -2.9 2.9zM543.8 446.7l2.9 -2.9 2.9 2.9 -2.9 2.9zM543.8 442.1l2.9 -2.9 2.9 2.9 -2.9 2.9zM543.8 437.4l2.9 -2.9 2.9 2.9 -2.9 2.9zM543.8 432.8l2.9 -2.9 2.9 2.9 -2.9 2.9zM543.8 428.1l2.9 -2.9 2.9 2.9 -2.9 2.9zM543.8 423.5l2.9 -2.9 2.9 2.9 -2.9 2.9zM543.8 418.8l2.9 -2.9 2.9 2.9 -2.9 2.9zM543.8 414.2l2.9 -2.9 2.9 2.9 -2.9 2.9zM543.8 409.5l2.9 -2.9 2.9 2.9 -2.9 2.9zM543.8 404.9l2.9 -2.9 2.9 2.9 -2.9 2.9zM543.8 400.2l2.9 -2.9 2.9 2.9 -2.9 2.9zM543.8 395.6l2.9 -2.9 2.9 2.9 -2.9 2.9zM552.5 465.3l2.9 -2.9 2.9 2.9 -2.9 2.9zM552.5 460.7l2.9 -2.9 2.9 2.9 -2.9 2.9zM552.5 456.0l2.9 -2.9 2.9 2.9 -2.9 2.9zM552.5 451.4l2.9 -2.9 2.9 2.9 -2.9 2.9zM552.5 446.7l2.9 -2.9 2.9 2.9 -2.9 2.9zM552.5 442.1l2.9 -2.9 2.9 2.9 -2.9 2.9zM552.5 437.4l2.9 -2.9 2.9 2.9 -2.9 2.9zM552.5 432.8l2.9 -2.9 2.9 2.9 -2.9 2.9zM552.5 428.1l2.9 -2.9 2.9 2.9 -2.9 2.9zM552.5 423.5l2.9 -2.9 2.9 2.9 -2.9 2.9zM552.5 418.8l2.9 -2.9 2.9 2.9 -2.9 2.9zM552.5 414.2l2.9 -2.9 2.9 2.9 -2.9 2.9zM552.5 409.5l2.9 -2.9 2.9 2.9 -2.9 2.9zM552.5 404.9l2.9 -2.9 2.9 2.9 -2.9 2.9zM552.5 400.2l2.9 -2.9 2.9 2.9 -2.9 2.9zM552.5 395.6l2.9 -2.9 2.9 2.9 -2.9 2.9zM561.0 465.3l2.9 -2.9 2.9 2.9 -2.9 2.9zM561.0 460.7l2.9 -2.9 2.9 2.9 -2.9 2.9zM561.0 456.0l2.9 -2.9 2.9 2.9 -2.9 2.9zM561.0 451.4l2.9 -2.9 2.9 2.9 -2.9 2.9zM561.0 446.7l2.9 -2.9 2.9 2.9 -2.9 2.9zM561.0 442.1l2.9 -2.9 2.9 2.9 -2.9 2.9zM561.0 437.4l2.9 -2.9 2.9 2.9 -2.9 2.9zM561.0 432.8l2.9 -2.9 2.9 2.9 -2.9 2.9zM561.0 428.1l2.9 -2.9 2.9 2.9 -2.9 2.9zM561.0 423.5l2.9 -2.9 2.9 2.9 -2.9 2.9zM561.0 418.8l2.9 -2.9 2.9 2.9 -2.9 2.9zM561.0 414.2l2.9 -2.9 2.9 2.9 -2.9 2.9zM561.0 409.5l2.9 -2.9 2.9 2.9 -2.9 2.9zM561.0 404.9l2.9 -2.9 2.9 2.9 -2.9 2.9zM561.0 400.2l2.9 -2.9 2.9 2.9 -2.9 2.9zM569.1 465.3l2.9 -2.9 2.9 2.9 -2.9 2.9zM569.1 460.7l2.9 -2.9 2.9 2.9 -2.9 2.9zM569.1 456.0l2.9 -2.9 2.9 2.9 -2.9 2.9zM569.1 451.4l2.9 -2.9 2.9 2.9 -2.9 2.9zM569.1 446.7l2.9 -2.9 2.9 2.9 -2.9 2.9zM569.1 442.1l2.9 -2.9 2.9 2.9 -2.9 2.9zM569.1 437.4l2.9 -2.9 2.9 2.9 -2.9 2.9zM569.1 432.8l2.9 -2.9 2.9 2.9 -2.9 2.9zM569.1 428.1l2.9 -2.9 2.9 2.9 -2.9 2.9zM569.1 423.5l2.9 -2.9 2.9 2.9 -2.9 2.9zM569.1 418.8l2.9 -2.9 2.9 2.9 -2.9 2.9zM569.1 414.2l2.9 -2.9 2.9 2.9 -2.9 2.9zM569.1 409.5l2.9 -2.9 2.9 2.9 -2.9 2.9zM569.1 404.9l2.9 -2.9 2.9 2.9 -2.9 2.9zM576.9 465.3l2.9 -2.9 2.9 2.9 -2.9 2.9zM576.9 460.7l2.9 -2.9 2.9 2.9 -2.9 2.9zM576.9 456.0l2.9 -2.9 2.9 2.9 -2.9 2.9zM576.9 451.4l2.9 -2.9 2.9 2.9 -2.9 2.9zM576.9 446.7l2.9 -2.9 2.9 2.9 -2.9 2.9zM576.9 442.1l2.9 -2.9 2.9 2.9 -2.9 2.9zM576.9 437.4l2.9 -2.9 2.9 2.9 -2.9 2.9zM576.9 432.8l2.9 -2.9 2.9 2.9 -2.9 2.9zM576.9 428.1l2.9 -2.9 2.9 2.9 -2.9 2.9zM576.9 423.5l2.9 -2.9 2.9 2.9 -2.9 2.9zM576.9 418.8l2.9 -2.9 2.9 2.9 -2.9 2.9zM576.9 414.2l2.9 -2.9 2.9 2.9 -2.9 2.9zM576.9 409.5l2.9 -2.9 2.9 2.9 -2.9 2.9zM576.9 404.9l2.9 -2.9 2.9 2.9 -2.9 2.9zM584.4 465.3l2.9 -2.9 2.9 2.9 -2.9 2.9zM584.4 460.7l2.9 -2.9 2.9 2.9 -2.9 2.9zM584.4 456.0l2.9 -2.9 2.9 2.9 -2.9 2.9zM584.4 451.4l2.9 -2.9 2.9 2.9 -2.9 2.9zM584.4 446.7l2.9 -2.9 2.9 2.9 -2.9 2.9zM584.4 442.1l2.9 -2.9 2.9 2.9 -2.9 2.9zM584.4 437.4l2.9 -2.9 2.9 2.9 -2.9 2.9zM584.4 432.8l2.9 -2.9 2.9 2.9 -2.9 2.9zM584.4 428.1l2.9 -2.9 2.9 2.9 -2.9 2.9zM584.4 423.5l2.9 -2.9 2.9 2.9 -2.9 2.9zM584.4 418.8l2.9 -2.9 2.9 2.9 -2.9 2.9zM584.4 414.2l2.9 -2.9 2.9 2.9 -2.9 2.9zM584.4 409.5l2.9 -2.9 2.9 2.9 -2.9 2.9zM591.7 465.3l2.9 -2.9 2.9 2.9 -2.9 2.9zM591.7 460.7l2.9 -2.9 2.9 2.9 -2.9 2.9zM591.7 456.0l2.9 -2.9 2.9 2.9 -2.9 2.9zM591.7 451.4l2.9 -2.9 2.9 2.9 -2.9 2.9zM591.7 446.7l2.9 -2.9 2.9 2.9 -2.9 2.9zM591.7 442.1l2.9 -2.9 2.9 2.9 -2.9 2.9zM591.7 437.4l2.9 -2.9 2.9 2.9 -2.9 2.9zM591.7 432.8l2.9 -2.9 2.9 2.9 -2.9 2.9zM591.7 428.1l2.9 -2.9 2.9 2.9 -2.9 2.9zM591.7 423.5l2.9 -2.9 2.9 2.9 -2.9 2.9zM591.7 418.8l2.9 -2.9 2.9 2.9 -2.9 2.9zM591.7 414.2l2.9 -2.9 2.9 2.9 -2.9 2.9zM591.7 409.5l2.9 -2.9 2.9 2.9 -2.9 2.9zM598.8 465.3l2.9 -2.9 2.9 2.9 -2.9 2.9zM598.8 460.7l2.9 -2.9 2.9 2.9 -2.9 2.9zM598.8 456.0l2.9 -2.9 2.9 2.9 -2.9 2.9zM598.8 451.4l2.9 -2.9 2.9 2.9 -2.9 2.9zM598.8 446.7l2.9 -2.9 2.9 2.9 -2.9 2.9zM598.8 442.1l2.9 -2.9 2.9 2.9 -2.9 2.9zM598.8 437.4l2.9 -2.9 2.9 2.9 -2.9 2.9zM598.8 432.8l2.9 -2.9 2.9 2.9 -2.9 2.9zM598.8 428.1l2.9 -2.9 2.9 2.9 -2.9 2.9zM598.8 423.5l2.9 -2.9 2.9 2.9 -2.9 2.9zM598.8 418.8l2.9 -2.9 2.9 2.9 -2.9 2.9zM598.8 414.2l2.9 -2.9 2.9 2.9 -2.9 2.9zM605.6 465.3l2.9 -2.9 2.9 2.9 -2.9 2.9zM605.6 460.7l2.9 -2.9 2.9 2.9 -2.9 2.9zM605.6 456.0l2.9 -2.9 2.9 2.9 -2.9 2.9zM605.6 451.4l2.9 -2.9 2.9 2.9 -2.9 2.9zM605.6 446.7l2.9 -2.9 2.9 2.9 -2.9 2.9zM605.6 442.1l2.9 -2.9 2.9 2.9 -2.9 2.9zM605.6 437.4l2.9 -2.9 2.9 2.9 -2.9 2.9zM605.6 432.8l2.9 -2.9 2.9 2.9 -2.9 2.9zM605.6 428.1l2.9 -2.9 2.9 2.9 -2.9 2.9zM605.6 423.5l2.9 -2.9 2.9 2.9 -2.9 2.9zM605.6 418.8l2.9 -2.9 2.9 2.9 -2.9 2.9zM605.6 414.2l2.9 -2.9 2.9 2.9 -2.9 2.9zM612.2 465.3l2.9 -2.9 2.9 2.9 -2.9 2.9zM612.2 460.7l2.9 -2.9 2.9 2.9 -2.9 2.9zM612.2 456.0l2.9 -2.9 2.9 2.9 -2.9 2.9zM612.2 451.4l2.9 -2.9 2.9 2.9 -2.9 2.9zM612.2 446.7l2.9 -2.9 2.9 2.9 -2.9 2.9zM612.2 442.1l2.9 -2.9 2.9 2.9 -2.9 2.9zM612.2 437.4l2.9 -2.9 2.9 2.9 -2.9 2.9zM612.2 432.8l2.9 -2.9 2.9 2.9 -2.9 2.9zM612.2 428.1l2.9 -2.9 2.9 2.9 -2.9 2.9zM612.2 423.5l2.9 -2.9 2.9 2.9 -2.9 2.9zM612.2 418.8l2.9 -2.9 2.9 2.9 -2.9 2.9zM618.6 465.3l2.9 -2.9 2.9 2.9 -2.9 2.9zM618.6 460.7l2.9 -2.9 2.9 2.9 -2.9 2.9zM618.6 456.0l2.9 -2.9 2.9 2.9 -2.9 2.9zM618.6 451.4l2.9 -2.9 2.9 2.9 -2.9 2.9zM618.6 446.7l2.9 -2.9 2.9 2.9 -2.9 2.9zM618.6 442.1l2.9 -2.9 2.9 2.9 -2.9 2.9zM618.6 437.4l2.9 -2.9 2.9 2.9 -2.9 2.9zM618.6 432.8l2.9 -2.9 2.9 2.9 -2.9 2.9zM618.6 428.1l2.9 -2.9 2.9 2.9 -2.9 2.9zM618.6 423.5l2.9 -2.9 2.9 2.9 -2.9 2.9zM618.6 418.8l2.9 -2.9 2.9 2.9 -2.9 2.9zM624.9 465.3l2.9 -2.9 2.9 2.9 -2.9 2.9zM624.9 460.7l2.9 -2.9 2.9 2.9 -2.9 2.9zM624.9 456.0l2.9 -2.9 2.9 2.9 -2.9 2.9zM624.9 451.4l2.9 -2.9 2.9 2.9 -2.9 2.9zM624.9 446.7l2.9 -2.9 2.9 2.9 -2.9 2.9zM624.9 442.1l2.9 -2.9 2.9 2.9 -2.9 2.9zM624.9 437.4l2.9 -2.9 2.9 2.9 -2.9 2.9zM624.9 432.8l2.9 -2.9 2.9 2.9 -2.9 2.9zM624.9 428.1l2.9 -2.9 2.9 2.9 -2.9 2.9zM624.9 423.5l2.9 -2.9 2.9 2.9 -2.9 2.9zM630.9 465.3l2.9 -2.9 2.9 2.9 -2.9 2.9zM630.9 460.7l2.9 -2.9 2.9 2.9 -2.9 2.9zM630.9 456.0l2.9 -2.9 2.9 2.9 -2.9 2.9zM630.9 451.4l2.9 -2.9 2.9 2.9 -2.9 2.9zM630.9 446.7l2.9 -2.9 2.9 2.9 -2.9 2.9zM630.9 442.1l2.9 -2.9 2.9 2.9 -2.9 2.9zM630.9 437.4l2.9 -2.9 2.9 2.9 -2.9 2.9zM630.9 432.8l2.9 -2.9 2.9 2.9 -2.9 2.9zM630.9 428.1l2.9 -2.9 2.9 2.9 -2.9 2.9zM630.9 423.5l2.9 -2.9 2.9 2.9 -2.9 2.9zM636.8 465.3l2.9 -2.9 2.9 2.9 -2.9 2.9zM636.8 460.7l2.9 -2.9 2.9 2.9 -2.9 2.9zM636.8 456.0l2.9 -2.9 2.9 2.9 -2.9 2.9zM636.8 451.4l2.9 -2.9 2.9 2.9 -2.9 2.9zM636.8 446.7l2.9 -2.9 2.9 2.9 -2.9 2.9zM636.8 442.1l2.9 -2.9 2.9 2.9 -2.9 2.9zM636.8 437.4l2.9 -2.9 2.9 2.9 -2.9 2.9zM636.8 432.8l2.9 -2.9 2.9 2.9 -2.9 2.9zM636.8 428.1l2.9 -2.9 2.9 2.9 -2.9 2.9zM636.8 423.5l2.9 -2.9 2.9 2.9 -2.9 2.9zM642.5 465.3l2.9 -2.9 2.9 2.9 -2.9 2.9zM642.5 460.7l2.9 -2.9 2.9 2.9 -2.9 2.9zM642.5 456.0l2.9 -2.9 2.9 2.9 -2.9 2.9zM642.5 451.4l2.9 -2.9 2.9 2.9 -2.9 2.9zM642.5 446.7l2.9 -2.9 2.9 2.9 -2.9 2.9zM642.5 442.1l2.9 -2.9 2.9 2.9 -2.9 2.9zM642.5 437.4l2.9 -2.9 2.9 2.9 -2.9 2.9zM642.5 432.8l2.9 -2.9 2.9 2.9 -2.9 2.9zM642.5 428.1l2.9 -2.9 2.9 2.9 -2.9 2.9zM648.1 465.3l2.9 -2.9 2.9 2.9 -2.9 2.9zM648.1 460.7l2.9 -2.9 2.9 2.9 -2.9 2.9zM648.1 456.0l2.9 -2.9 2.9 2.9 -2.9 2.9zM648.1 451.4l2.9 -2.9 2.9 2.9 -2.9 2.9zM648.1 446.7l2.9 -2.9 2.9 2.9 -2.9 2.9zM648.1 442.1l2.9 -2.9 2.9 2.9 -2.9 2.9zM648.1 437.4l2.9 -2.9 2.9 2.9 -2.9 2.9zM648.1 432.8l2.9 -2.9 2.9 2.9 -2.9 2.9zM648.1 428.1l2.9 -2.9 2.9 2.9 -2.9 2.9zM653.6 465.3l2.9 -2.9 2.9 2.9 -2.9 2.9zM653.6 460.7l2.9 -2.9 2.9 2.9 -2.9 2.9zM653.6 456.0l2.9 -2.9 2.9 2.9 -2.9 2.9zM653.6 451.4l2.9 -2.9 2.9 2.9 -2.9 2.9zM653.6 446.7l2.9 -2.9 2.9 2.9 -2.9 2.9zM653.6 442.1l2.9 -2.9 2.9 2.9 -2.9 2.9zM653.6 437.4l2.9 -2.9 2.9 2.9 -2.9 2.9zM653.6 432.8l2.9 -2.9 2.9 2.9 -2.9 2.9zM658.9 465.3l2.9 -2.9 2.9 2.9 -2.9 2.9zM658.9 460.7l2.9 -2.9 2.9 2.9 -2.9 2.9zM658.9 456.0l2.9 -2.9 2.9 2.9 -2.9 2.9zM658.9 451.4l2.9 -2.9 2.9 2.9 -2.9 2.9zM658.9 446.7l2.9 -2.9 2.9 2.9 -2.9 2.9zM658.9 442.1l2.9 -2.9 2.9 2.9 -2.9 2.9zM658.9 437.4l2.9 -2.9 2.9 2.9 -2.9 2.9zM658.9 432.8l2.9 -2.9 2.9 2.9 -2.9 2.9zM664.1 465.3l2.9 -2.9 2.9 2.9 -2.9 2.9zM664.1 460.7l2.9 -2.9 2.9 2.9 -2.9 2.9zM664.1 456.0l2.9 -2.9 2.9 2.9 -2.9 2.9zM664.1 451.4l2.9 -2.9 2.9 2.9 -2.9 2.9zM664.1 446.7l2.9 -2.9 2.9 2.9 -2.9 2.9zM664.1 442.1l2.9 -2.9 2.9 2.9 -2.9 2.9zM664.1 437.4l2.9 -2.9 2.9 2.9 -2.9 2.9zM664.1 432.8l2.9 -2.9 2.9 2.9 -2.9 2.9zM669.1 465.3l2.9 -2.9 2.9 2.9 -2.9 2.9zM669.1 460.7l2.9 -2.9 2.9 2.9 -2.9 2.9zM669.1 456.0l2.9 -2.9 2.9 2.9 -2.9 2.9zM669.1 451.4l2.9 -2.9 2.9 2.9 -2.9 2.9zM669.1 446.7l2.9 -2.9 2.9 2.9 -2.9 2.9zM669.1 442.1l2.9 -2.9 2.9 2.9 -2.9 2.9zM669.1 437.4l2.9 -2.9 2.9 2.9 -2.9 2.9zM669.1 432.8l2.9 -2.9 2.9 2.9 -2.9 2.9zM674.1 465.3l2.9 -2.9 2.9 2.9 -2.9 2.9zM674.1 460.7l2.9 -2.9 2.9 2.9 -2.9 2.9zM674.1 456.0l2.9 -2.9 2.9 2.9 -2.9 2.9zM674.1 451.4l2.9 -2.9 2.9 2.9 -2.9 2.9zM674.1 446.7l2.9 -2.9 2.9 2.9 -2.9 2.9zM674.1 442.1l2.9 -2.9 2.9 2.9 -2.9 2.9zM674.1 437.4l2.9 -2.9 2.9 2.9 -2.9 2.9zM678.9 465.3l2.9 -2.9 2.9 2.9 -2.9 2.9zM678.9 460.7l2.9 -2.9 2.9 2.9 -2.9 2.9zM678.9 456.0l2.9 -2.9 2.9 2.9 -2.9 2.9zM678.9 451.4l2.9 -2.9 2.9 2.9 -2.9 2.9zM678.9 446.7l2.9 -2.9 2.9 2.9 -2.9 2.9zM678.9 442.1l2.9 -2.9 2.9 2.9 -2.9 2.9zM678.9 437.4l2.9 -2.9 2.9 2.9 -2.9 2.9zM683.6 465.3l2.9 -2.9 2.9 2.9 -2.9 2.9zM683.6 460.7l2.9 -2.9 2.9 2.9 -2.9 2.9zM683.6 456.0l2.9 -2.9 2.9 2.9 -2.9 2.9zM683.6 451.4l2.9 -2.9 2.9 2.9 -2.9 2.9zM683.6 446.7l2.9 -2.9 2.9 2.9 -2.9 2.9zM683.6 442.1l2.9 -2.9 2.9 2.9 -2.9 2.9zM683.6 437.4l2.9 -2.9 2.9 2.9 -2.9 2.9zM688.2 465.3l2.9 -2.9 2.9 2.9 -2.9 2.9zM688.2 460.7l2.9 -2.9 2.9 2.9 -2.9 2.9zM688.2 456.0l2.9 -2.9 2.9 2.9 -2.9 2.9zM688.2 451.4l2.9 -2.9 2.9 2.9 -2.9 2.9zM688.2 446.7l2.9 -2.9 2.9 2.9 -2.9 2.9zM688.2 442.1l2.9 -2.9 2.9 2.9 -2.9 2.9zM688.2 437.4l2.9 -2.9 2.9 2.9 -2.9 2.9zM692.8 465.3l2.9 -2.9 2.9 2.9 -2.9 2.9zM692.8 460.7l2.9 -2.9 2.9 2.9 -2.9 2.9zM692.8 456.0l2.9 -2.9 2.9 2.9 -2.9 2.9zM692.8 451.4l2.9 -2.9 2.9 2.9 -2.9 2.9zM692.8 446.7l2.9 -2.9 2.9 2.9 -2.9 2.9zM692.8 442.1l2.9 -2.9 2.9 2.9 -2.9 2.9zM697.2 465.3l2.9 -2.9 2.9 2.9 -2.9 2.9zM697.2 460.7l2.9 -2.9 2.9 2.9 -2.9 2.9zM697.2 456.0l2.9 -2.9 2.9 2.9 -2.9 2.9zM697.2 451.4l2.9 -2.9 2.9 2.9 -2.9 2.9zM697.2 446.7l2.9 -2.9 2.9 2.9 -2.9 2.9zM697.2 442.1l2.9 -2.9 2.9 2.9 -2.9 2.9zM701.6 465.3l2.9 -2.9 2.9 2.9 -2.9 2.9zM701.6 460.7l2.9 -2.9 2.9 2.9 -2.9 2.9zM701.6 456.0l2.9 -2.9 2.9 2.9 -2.9 2.9zM701.6 451.4l2.9 -2.9 2.9 2.9 -2.9 2.9zM701.6 446.7l2.9 -2.9 2.9 2.9 -2.9 2.9zM701.6 442.1l2.9 -2.9 2.9 2.9 -2.9 2.9zM705.8 465.3l2.9 -2.9 2.9 2.9 -2.9 2.9zM705.8 460.7l2.9 -2.9 2.9 2.9 -2.9 2.9zM705.8 456.0l2.9 -2.9 2.9 2.9 -2.9 2.9zM705.8 451.4l2.9 -2.9 2.9 2.9 -2.9 2.9zM705.8 446.7l2.9 -2.9 2.9 2.9 -2.9 2.9zM705.8 442.1l2.9 -2.9 2.9 2.9 -2.9 2.9zM710.0 465.3l2.9 -2.9 2.9 2.9 -2.9 2.9zM710.0 460.7l2.9 -2.9 2.9 2.9 -2.9 2.9zM710.0 456.0l2.9 -2.9 2.9 2.9 -2.9 2.9zM710.0 451.4l2.9 -2.9 2.9 2.9 -2.9 2.9zM710.0 446.7l2.9 -2.9 2.9 2.9 -2.9 2.9zM710.0 442.1l2.9 -2.9 2.9 2.9 -2.9 2.9zM714.1 465.3l2.9 -2.9 2.9 2.9 -2.9 2.9zM714.1 460.7l2.9 -2.9 2.9 2.9 -2.9 2.9zM714.1 456.0l2.9 -2.9 2.9 2.9 -2.9 2.9zM714.1 451.4l2.9 -2.9 2.9 2.9 -2.9 2.9zM714.1 446.7l2.9 -2.9 2.9 2.9 -2.9 2.9zM714.1 442.1l2.9 -2.9 2.9 2.9 -2.9 2.9zM718.1 465.3l2.9 -2.9 2.9 2.9 -2.9 2.9zM718.1 460.7l2.9 -2.9 2.9 2.9 -2.9 2.9zM718.1 456.0l2.9 -2.9 2.9 2.9 -2.9 2.9zM718.1 451.4l2.9 -2.9 2.9 2.9 -2.9 2.9zM718.1 446.7l2.9 -2.9 2.9 2.9 -2.9 2.9zM722.0 465.3l2.9 -2.9 2.9 2.9 -2.9 2.9zM722.0 460.7l2.9 -2.9 2.9 2.9 -2.9 2.9zM722.0 456.0l2.9 -2.9 2.9 2.9 -2.9 2.9zM722.0 451.4l2.9 -2.9 2.9 2.9 -2.9 2.9zM722.0 446.7l2.9 -2.9 2.9 2.9 -2.9 2.9zM725.9 465.3l2.9 -2.9 2.9 2.9 -2.9 2.9zM725.9 460.7l2.9 -2.9 2.9 2.9 -2.9 2.9zM725.9 456.0l2.9 -2.9 2.9 2.9 -2.9 2.9zM725.9 451.4l2.9 -2.9 2.9 2.9 -2.9 2.9zM725.9 446.7l2.9 -2.9 2.9 2.9 -2.9 2.9zM729.7 465.3l2.9 -2.9 2.9 2.9 -2.9 2.9zM729.7 460.7l2.9 -2.9 2.9 2.9 -2.9 2.9zM729.7 456.0l2.9 -2.9 2.9 2.9 -2.9 2.9zM729.7 451.4l2.9 -2.9 2.9 2.9 -2.9 2.9zM729.7 446.7l2.9 -2.9 2.9 2.9 -2.9 2.9zM733.5 465.3l2.9 -2.9 2.9 2.9 -2.9 2.9zM733.5 460.7l2.9 -2.9 2.9 2.9 -2.9 2.9zM733.5 456.0l2.9 -2.9 2.9 2.9 -2.9 2.9zM733.5 451.4l2.9 -2.9 2.9 2.9 -2.9 2.9zM733.5 446.7l2.9 -2.9 2.9 2.9 -2.9 2.9zM737.1 465.3l2.9 -2.9 2.9 2.9 -2.9 2.9zM737.1 460.7l2.9 -2.9 2.9 2.9 -2.9 2.9zM737.1 456.0l2.9 -2.9 2.9 2.9 -2.9 2.9zM737.1 451.4l2.9 -2.9 2.9 2.9 -2.9 2.9zM737.1 446.7l2.9 -2.9 2.9 2.9 -2.9 2.9zM740.8 465.3l2.9 -2.9 2.9 2.9 -2.9 2.9zM740.8 460.7l2.9 -2.9 2.9 2.9 -2.9 2.9zM740.8 456.0l2.9 -2.9 2.9 2.9 -2.9 2.9zM740.8 451.4l2.9 -2.9 2.9 2.9 -2.9 2.9z" fill="#a0a0a0" stroke="#a0a0a0" stroke-width="0.7" stroke-linejoin="round"/>
<path d="M333.2 265.1a2.5 2.5 0 1 0 5.1 0a2.5 2.5 0 1 0 -5.1 0zM355.8 283.7a2.5 2.5 0 1 0 5.1 0a2.5 2.5 0 1 0 -5.1 0zM653.9 428.1a2.5 2.5 0 1 0 5.1 0a2.5 2.5 0 1 0 -5.1 0zM674.4 432.8a2.5 2.5 0 1 0 5.1 0a2.5 2.5 0 1 0 -5.1 0zM693.1 437.4a2.5 2.5 0 1 0 5.1 0a2.5 2.5 0 1 0 -5.1 0z" fill="#040000"/>
<path d="M333.2 259.0a2.5 2.5 0 1 0 5.1 0a2.5 2.5 0 1 0 -5.1 0zM688.5 432.7a2.5 2.5 0 1 0 5.1 0a2.5 2.5 0 1 0 -5.1 0z" fill="#201000"/>
<path d="M333.2 252.1a2.5 2.5 0 1 0 5.1 0a2.5 2.5 0 1 0 -5.1 0z" fill="#482800"/>
<path d="M355.8 278.3a2.5 2.5 0 1 0 5.1 0a2.5 2.5 0 1 0 -5.1 0zM493.8 367.4a2.5 2.5 0 1 0 5.1 0a2.5 2.5 0 1 0 -5.1 0zM504.9 372.0a2.5 2.5 0 1 0 5.1 0a2.5 2.5 0 1 0 -5.1 0zM683.9 432.7a2.5 2.5 0 1 0 5.1 0a2.5 2.5 0 1 0 -5.1 0z" fill="#140c00"/>
<path d="M355.8 271.9a2.5 2.5 0 1 0 5.1 0a2.5 2.5 0 1 0 -5.1 0zM412.2 319.4a2.5 2.5 0 1 0 5.1 0a2.5 2.5 0 1 0 -5.1 0zM569.4 390.3a2.5 2.5 0 1 0 5.1 0a2.5 2.5 0 1 0 -5.1 0zM679.2 427.9a2.5 2.5 0 1 0 5.1 0a2.5 2.5 0 1 0 -5.1 0z" fill="#3c2400"/>
<path d="M355.8 265.7a2.5 2.5 0 1 0 5.1 0a2.5 2.5 0 1 0 -5.1 0zM552.8 380.6a2.5 2.5 0 1 0 5.1 0a2.5 2.5 0 1 0 -5.1 0z" fill="#583400"/>
<path d="M355.8 259.6a2.5 2.5 0 1 0 5.1 0a2.5 2.5 0 1 0 -5.1 0z" fill="#704400"/>
<path d="M355.8 252.9a2.5 2.5 0 1 0 5.1 0a2.5 2.5 0 1 0 -5.1 0zM428.2 312.1a2.5 2.5 0 1 0 5.1 0a2.5 2.5 0 1 0 -5.1 0zM482.2 341.2a2.5 2.5 0 1 0 5.1 0a2.5 2.5 0 1 0 -5.1 0zM534.9 365.5a2.5 2.5 0 1 0 5.1 0a2.5 2.5 0 1 0 -5.1 0zM642.8 408.6a2.5 2.5 0 1 0 5.1 0a2.5 2.5 0 1 0 -5.1 0z" fill="#945800"/>
<path d="M355.8 245.8a2.5 2.5 0 1 0 5.1 0a2.5 2.5 0 1 0 -5.1 0zM693.1 422.7a2.5 2.5 0 1 0 5.1 0a2.5 2.5 0 1 0 -5.1 0z" fill="#b87000"/>
<path d="M376.3 297.3a2.5 2.5 0 1 0 5.1 0a2.5 2.5 0 1 0 -5.1 0zM443.0 344.1a2.5 2.5 0 1 0 5.1 0a2.5 2.5 0 1 0 -5.1 0zM482.2 362.7a2.5 2.5 0 1 0 5.1 0a2.5 2.5 0 1 0 -5.1 0zM515.3 376.7a2.5 2.5 0 1 0 5.1 0a2.5 2.5 0 1 0 -5.1 0zM552.8 390.7a2.5 2.5 0 1 0 5.1 0a2.5 2.5 0 1 0 -5.1 0zM701.9 437.4a2.5 2.5 0 1 0 5.1 0a2.5 2.5 0 1 0 -5.1 0zM722.3 442.1a2.5 2.5 0 1 0 5.1 0a2.5 2.5 0 1 0 -5.1 0z" fill="#100800"/>
<path d="M376.3 291.7a2.5 2.5 0 1 0 5.1 0a2.5 2.5 0 1 0 -5.1 0zM469.9 353.0a2.5 2.5 0 1 0 5.1 0a2.5 2.5 0 1 0 -5.1 0zM577.2 395.2a2.5 2.5 0 1 0 5.1 0a2.5 2.5 0 1 0 -5.1 0zM642.8 418.6a2.5 2.5 0 1 0 5.1 0a2.5 2.5 0 1 0 -5.1 0zM674.4 428.0a2.5 2.5 0 1 0 5.1 0a2.5 2.5 0 1 0 -5.1 0zM710.3 437.3a2.5 2.5 0 1 0 5.1 0a2.5 2.5 0 1 0 -5.1 0z" fill="#281800"/>
<path d="M376.3 285.5a2.5 2.5 0 1 0 5.1 0a2.5 2.5 0 1 0 -5.1 0zM469.9 347.5a2.5 2.5 0 1 0 5.1 0a2.5 2.5 0 1 0 -5.1 0zM534.9 376.0a2.5 2.5 0 1 0 5.1 0a2.5 2.5 0 1 0 -5.1 0zM561.3 385.4a2.5 2.5 0 1 0 5.1 0a2.5 2.5 0 1 0 -5.1 0zM612.5 404.3a2.5 2.5 0 1 0 5.1 0a2.5 2.5 0 1 0 -5.1 0zM625.2 409.0a2.5 2.5 0 1 0 5.1 0a2.5 2.5 0 1 0 -5.1 0z" fill="#4c2c00"/>
<path d="M376.3 279.7a2.5 2.5 0 1 0 5.1 0a2.5 2.5 0 1 0 -5.1 0zM584.7 389.9a2.5 2.5 0 1 0 5.1 0a2.5 2.5 0 1 0 -5.1 0zM674.4 423.1a2.5 2.5 0 1 0 5.1 0a2.5 2.5 0 1 0 -5.1 0z" fill="#643c00"/>
<path d="M376.3 273.7a2.5 2.5 0 1 0 5.1 0a2.5 2.5 0 1 0 -5.1 0z" fill="#7c4c00"/>
<path d="M376.3 267.0a2.5 2.5 0 1 0 5.1 0a2.5 2.5 0 1 0 -5.1 0zM659.2 413.3a2.5 2.5 0 1 0 5.1 0a2.5 2.5 0 1 0 -5.1 0z" fill="#a46000"/>
<path d="M376.3 260.2a2.5 2.5 0 1 0 5.1 0a2.5 2.5 0 1 0 -5.1 0z" fill="#c87800"/>
<path d="M376.3 253.2a2.5 2.5 0 1 0 5.1 0a2.5 2.5 0 1 0 -5.1 0zM599.1 383.7a2.5 2.5 0 1 0 5.1 0a2.5 2.5 0 1 0 -5.1 0z" fill="#f09000"/>
<path d="M376.3 245.9a2.5 2.5 0 1 0 5.1 0a2.5 2.5 0 1 0 -5.1 0zM469.9 318.3a2.5 2.5 0 1 0 5.1 0a2.5 2.5 0 1 0 -5.1 0zM693.1 417.5a2.5 2.5 0 1 0 5.1 0a2.5 2.5 0 1 0 -5.1 0z" fill="#ec9c04"/>
<path d="M376.3 238.4a2.5 2.5 0 1 0 5.1 0a2.5 2.5 0 1 0 -5.1 0zM642.8 397.7a2.5 2.5 0 1 0 5.1 0a2.5 2.5 0 1 0 -5.1 0zM669.4 407.5a2.5 2.5 0 1 0 5.1 0a2.5 2.5 0 1 0 -5.1 0zM683.9 412.4a2.5 2.5 0 1 0 5.1 0a2.5 2.5 0 1 0 -5.1 0z" fill="#d0a410"/>
<path d="M395.0 311.0a2.5 2.5 0 1 0 5.1 0a2.5 2.5 0 1 0 -5.1 0zM456.9 348.5a2.5 2.5 0 1 0 5.1 0a2.5 2.5 0 1 0 -5.1 0zM544.1 386.0a2.5 2.5 0 1 0 5.1 0a2.5 2.5 0 1 0 -5.1 0zM599.1 404.7a2.5 2.5 0 1 0 5.1 0a2.5 2.5 0 1 0 -5.1 0zM612.5 409.3a2.5 2.5 0 1 0 5.1 0a2.5 2.5 0 1 0 -5.1 0zM625.2 414.0a2.5 2.5 0 1 0 5.1 0a2.5 2.5 0 1 0 -5.1 0zM653.9 423.4a2.5 2.5 0 1 0 5.1 0a2.5 2.5 0 1 0 -5.1 0zM706.1 437.4a2.5 2.5 0 1 0 5.1 0a2.5 2.5 0 1 0 -5.1 0z" fill="#1c1000"/>
<path d="M395.0 305.4a2.5 2.5 0 1 0 5.1 0a2.5 2.5 0 1 0 -5.1 0zM493.8 362.2a2.5 2.5 0 1 0 5.1 0a2.5 2.5 0 1 0 -5.1 0zM504.9 366.9a2.5 2.5 0 1 0 5.1 0a2.5 2.5 0 1 0 -5.1 0zM618.9 409.2a2.5 2.5 0 1 0 5.1 0a2.5 2.5 0 1 0 -5.1 0zM733.8 442.0a2.5 2.5 0 1 0 5.1 0a2.5 2.5 0 1 0 -5.1 0z" fill="#342000"/>
<path d="M395.0 299.6a2.5 2.5 0 1 0 5.1 0a2.5 2.5 0 1 0 -5.1 0zM443.0 333.1a2.5 2.5 0 1 0 5.1 0a2.5 2.5 0 1 0 -5.1 0zM515.3 366.4a2.5 2.5 0 1 0 5.1 0a2.5 2.5 0 1 0 -5.1 0zM577.2 390.1a2.5 2.5 0 1 0 5.1 0a2.5 2.5 0 1 0 -5.1 0zM669.4 423.1a2.5 2.5 0 1 0 5.1 0a2.5 2.5 0 1 0 -5.1 0z" fill="#543000"/>
<path d="M395.0 293.9a2.5 2.5 0 1 0 5.1 0a2.5 2.5 0 1 0 -5.1 0zM412.2 308.4a2.5 2.5 0 1 0 5.1 0a2.5 2.5 0 1 0 -5.1 0zM443.0 327.7a2.5 2.5 0 1 0 5.1 0a2.5 2.5 0 1 0 -5.1 0zM599.1 394.6a2.5 2.5 0 1 0 5.1 0a2.5 2.5 0 1 0 -5.1 0zM648.4 413.6a2.5 2.5 0 1 0 5.1 0a2.5 2.5 0 1 0 -5.1 0zM693.1 427.7a2.5 2.5 0 1 0 5.1 0a2.5 2.5 0 1 0 -5.1 0zM730.0 437.2a2.5 2.5 0 1 0 5.1 0a2.5 2.5 0 1 0 -5.1 0z" fill="#6c4000"/>
<path d="M395.0 288.0a2.5 2.5 0 1 0 5.1 0a2.5 2.5 0 1 0 -5.1 0zM544.1 370.4a2.5 2.5 0 1 0 5.1 0a2.5 2.5 0 1 0 -5.1 0zM683.9 422.9a2.5 2.5 0 1 0 5.1 0a2.5 2.5 0 1 0 -5.1 0zM718.4 432.4a2.5 2.5 0 1 0 5.1 0a2.5 2.5 0 1 0 -5.1 0zM737.4 437.1a2.5 2.5 0 1 0 5.1 0a2.5 2.5 0 1 0 -5.1 0z" fill="#885000"/>
<path d="M395.0 281.6a2.5 2.5 0 1 0 5.1 0a2.5 2.5 0 1 0 -5.1 0zM412.2 296.4a2.5 2.5 0 1 0 5.1 0a2.5 2.5 0 1 0 -5.1 0z" fill="#ac6800"/>
<path d="M395.0 275.0a2.5 2.5 0 1 0 5.1 0a2.5 2.5 0 1 0 -5.1 0zM412.2 290.1a2.5 2.5 0 1 0 5.1 0a2.5 2.5 0 1 0 -5.1 0zM456.9 320.2a2.5 2.5 0 1 0 5.1 0a2.5 2.5 0 1 0 -5.1 0zM493.8 340.0a2.5 2.5 0 1 0 5.1 0a2.5 2.5 0 1 0 -5.1 0zM697.5 422.6a2.5 2.5 0 1 0 5.1 0a2.5 2.5 0 1 0 -5.1 0zM714.4 427.4a2.5 2.5 0 1 0 5.1 0a2.5 2.5 0 1 0 -5.1 0z" fill="#d07c00"/>
<path d="M395.0 268.3a2.5 2.5 0 1 0 5.1 0a2.5 2.5 0 1 0 -5.1 0zM412.2 283.6a2.5 2.5 0 1 0 5.1 0a2.5 2.5 0 1 0 -5.1 0zM482.2 329.2a2.5 2.5 0 1 0 5.1 0a2.5 2.5 0 1 0 -5.1 0zM577.2 373.8a2.5 2.5 0 1 0 5.1 0a2.5 2.5 0 1 0 -5.1 0zM659.2 407.9a2.5 2.5 0 1 0 5.1 0a2.5 2.5 0 1 0 -5.1 0zM741.1 432.0a2.5 2.5 0 1 0 5.1 0a2.5 2.5 0 1 0 -5.1 0z" fill="#f89400"/>
<path d="M395.0 261.3a2.5 2.5 0 1 0 5.1 0a2.5 2.5 0 1 0 -5.1 0zM412.2 277.0a2.5 2.5 0 1 0 5.1 0a2.5 2.5 0 1 0 -5.1 0z" fill="#e89c08"/>
<path d="M395.0 254.1a2.5 2.5 0 1 0 5.1 0a2.5 2.5 0 1 0 -5.1 0zM469.9 311.7a2.5 2.5 0 1 0 5.1 0a2.5 2.5 0 1 0 -5.1 0zM504.9 332.4a2.5 2.5 0 1 0 5.1 0a2.5 2.5 0 1 0 -5.1 0zM577.2 367.8a2.5 2.5 0 1 0 5.1 0a2.5 2.5 0 1 0 -5.1 0zM599.1 377.8a2.5 2.5 0 1 0 5.1 0a2.5 2.5 0 1 0 -5.1 0z" fill="#c8a410"/>
<path d="M395.0 246.6a2.5 2.5 0 1 0 5.1 0a2.5 2.5 0 1 0 -5.1 0zM412.2 262.9a2.5 2.5 0 1 0 5.1 0a2.5 2.5 0 1 0 -5.1 0zM625.2 387.3a2.5 2.5 0 1 0 5.1 0a2.5 2.5 0 1 0 -5.1 0z" fill="#acac1c"/>
<path d="M395.0 238.7a2.5 2.5 0 1 0 5.1 0a2.5 2.5 0 1 0 -5.1 0zM618.9 381.8a2.5 2.5 0 1 0 5.1 0a2.5 2.5 0 1 0 -5.1 0z" fill="#8cb424"/>
<path d="M395.0 230.7a2.5 2.5 0 1 0 5.1 0a2.5 2.5 0 1 0 -5.1 0zM504.9 318.7a2.5 2.5 0 1 0 5.1 0a2.5 2.5 0 1 0 -5.1 0zM612.5 376.3a2.5 2.5 0 1 0 5.1 0a2.5 2.5 0 1 0 -5.1 0zM659.2 396.6a2.5 2.5 0 1 0 5.1 0a2.5 2.5 0 1 0 -5.1 0z" fill="#6cbc30"/>
<path d="M412.2 325.1a2.5 2.5 0 1 0 5.1 0a2.5 2.5 0 1 0 -5.1 0zM584.7 400.0a2.5 2.5 0 1 0 5.1 0a2.5 2.5 0 1 0 -5.1 0zM669.4 428.0a2.5 2.5 0 1 0 5.1 0a2.5 2.5 0 1 0 -5.1 0zM726.2 442.0a2.5 2.5 0 1 0 5.1 0a2.5 2.5 0 1 0 -5.1 0z" fill="#181000"/>
<path d="M412.2 313.9a2.5 2.5 0 1 0 5.1 0a2.5 2.5 0 1 0 -5.1 0zM493.8 356.9a2.5 2.5 0 1 0 5.1 0a2.5 2.5 0 1 0 -5.1 0zM504.9 361.6a2.5 2.5 0 1 0 5.1 0a2.5 2.5 0 1 0 -5.1 0zM592.0 394.8a2.5 2.5 0 1 0 5.1 0a2.5 2.5 0 1 0 -5.1 0zM722.3 437.2a2.5 2.5 0 1 0 5.1 0a2.5 2.5 0 1 0 -5.1 0z" fill="#543400"/>
<path d="M412.2 302.6a2.5 2.5 0 1 0 5.1 0a2.5 2.5 0 1 0 -5.1 0zM469.9 336.6a2.5 2.5 0 1 0 5.1 0a2.5 2.5 0 1 0 -5.1 0z" fill="#885400"/>
<path d="M412.2 270.1a2.5 2.5 0 1 0 5.1 0a2.5 2.5 0 1 0 -5.1 0zM544.1 352.7a2.5 2.5 0 1 0 5.1 0a2.5 2.5 0 1 0 -5.1 0zM631.2 392.7a2.5 2.5 0 1 0 5.1 0a2.5 2.5 0 1 0 -5.1 0z" fill="#cca410"/>
<path d="M412.2 255.5a2.5 2.5 0 1 0 5.1 0a2.5 2.5 0 1 0 -5.1 0zM525.3 335.8a2.5 2.5 0 1 0 5.1 0a2.5 2.5 0 1 0 -5.1 0zM534.9 341.0a2.5 2.5 0 1 0 5.1 0a2.5 2.5 0 1 0 -5.1 0zM653.9 397.0a2.5 2.5 0 1 0 5.1 0a2.5 2.5 0 1 0 -5.1 0z" fill="#90b424"/>
<path d="M412.2 247.8a2.5 2.5 0 1 0 5.1 0a2.5 2.5 0 1 0 -5.1 0zM456.9 286.6a2.5 2.5 0 1 0 5.1 0a2.5 2.5 0 1 0 -5.1 0zM592.0 366.0a2.5 2.5 0 1 0 5.1 0a2.5 2.5 0 1 0 -5.1 0z" fill="#70bc30"/>
<path d="M412.2 240.0a2.5 2.5 0 1 0 5.1 0a2.5 2.5 0 1 0 -5.1 0zM443.0 268.3a2.5 2.5 0 1 0 5.1 0a2.5 2.5 0 1 0 -5.1 0zM605.9 370.7a2.5 2.5 0 1 0 5.1 0a2.5 2.5 0 1 0 -5.1 0zM693.1 406.4a2.5 2.5 0 1 0 5.1 0a2.5 2.5 0 1 0 -5.1 0z" fill="#50c438"/>
<path d="M412.2 232.0a2.5 2.5 0 1 0 5.1 0a2.5 2.5 0 1 0 -5.1 0zM669.4 395.9a2.5 2.5 0 1 0 5.1 0a2.5 2.5 0 1 0 -5.1 0zM683.9 401.0a2.5 2.5 0 1 0 5.1 0a2.5 2.5 0 1 0 -5.1 0z" fill="#3ccc54"/>
<path d="M412.2 223.8a2.5 2.5 0 1 0 5.1 0a2.5 2.5 0 1 0 -5.1 0z" fill="#30d87c"/>
<path d="M428.2 334.5a2.5 2.5 0 1 0 5.1 0a2.5 2.5 0 1 0 -5.1 0zM569.4 395.4a2.5 2.5 0 1 0 5.1 0a2.5 2.5 0 1 0 -5.1 0zM637.1 418.7a2.5 2.5 0 1 0 5.1 0a2.5 2.5 0 1 0 -5.1 0z" fill="#180c00"/>
<path d="M428.2 328.9a2.5 2.5 0 1 0 5.1 0a2.5 2.5 0 1 0 -5.1 0zM648.4 418.5a2.5 2.5 0 1 0 5.1 0a2.5 2.5 0 1 0 -5.1 0z" fill="#402400"/>
<path d="M428.2 323.3a2.5 2.5 0 1 0 5.1 0a2.5 2.5 0 1 0 -5.1 0zM605.9 399.5a2.5 2.5 0 1 0 5.1 0a2.5 2.5 0 1 0 -5.1 0zM688.5 427.8a2.5 2.5 0 1 0 5.1 0a2.5 2.5 0 1 0 -5.1 0zM706.1 432.5a2.5 2.5 0 1 0 5.1 0a2.5 2.5 0 1 0 -5.1 0z" fill="#5c3800"/>
<path d="M428.2 317.9a2.5 2.5 0 1 0 5.1 0a2.5 2.5 0 1 0 -5.1 0zM493.8 351.6a2.5 2.5 0 1 0 5.1 0a2.5 2.5 0 1 0 -5.1 0zM504.9 356.4a2.5 2.5 0 1 0 5.1 0a2.5 2.5 0 1 0 -5.1 0zM515.3 361.2a2.5 2.5 0 1 0 5.1 0a2.5 2.5 0 1 0 -5.1 0zM612.5 399.3a2.5 2.5 0 1 0 5.1 0a2.5 2.5 0 1 0 -5.1 0zM637.1 408.8a2.5 2.5 0 1 0 5.1 0a2.5 2.5 0 1 0 -5.1 0zM664.4 418.3a2.5 2.5 0 1 0 5.1 0a2.5 2.5 0 1 0 -5.1 0zM679.2 423.0a2.5 2.5 0 1 0 5.1 0a2.5 2.5 0 1 0 -5.1 0z" fill="#744400"/>
<path d="M428.2 306.0a2.5 2.5 0 1 0 5.1 0a2.5 2.5 0 1 0 -5.1 0zM469.9 330.7a2.5 2.5 0 1 0 5.1 0a2.5 2.5 0 1 0 -5.1 0zM612.5 394.0a2.5 2.5 0 1 0 5.1 0a2.5 2.5 0 1 0 -5.1 0z" fill="#b86c00"/>
<path d="M428.2 299.8a2.5 2.5 0 1 0 5.1 0a2.5 2.5 0 1 0 -5.1 0zM443.0 309.9a2.5 2.5 0 1 0 5.1 0a2.5 2.5 0 1 0 -5.1 0zM584.7 379.0a2.5 2.5 0 1 0 5.1 0a2.5 2.5 0 1 0 -5.1 0z" fill="#dc8400"/>
<path d="M428.2 293.4a2.5 2.5 0 1 0 5.1 0a2.5 2.5 0 1 0 -5.1 0zM443.0 303.5a2.5 2.5 0 1 0 5.1 0a2.5 2.5 0 1 0 -5.1 0zM493.8 333.9a2.5 2.5 0 1 0 5.1 0a2.5 2.5 0 1 0 -5.1 0zM612.5 388.4a2.5 2.5 0 1 0 5.1 0a2.5 2.5 0 1 0 -5.1 0zM706.1 422.4a2.5 2.5 0 1 0 5.1 0a2.5 2.5 0 1 0 -5.1 0z" fill="#f89800"/>
<path d="M428.2 286.7a2.5 2.5 0 1 0 5.1 0a2.5 2.5 0 1 0 -5.1 0zM482.2 322.8a2.5 2.5 0 1 0 5.1 0a2.5 2.5 0 1 0 -5.1 0z" fill="#dca00c"/>
<path d="M428.2 279.8a2.5 2.5 0 1 0 5.1 0a2.5 2.5 0 1 0 -5.1 0zM456.9 300.8a2.5 2.5 0 1 0 5.1 0a2.5 2.5 0 1 0 -5.1 0zM659.2 402.4a2.5 2.5 0 1 0 5.1 0a2.5 2.5 0 1 0 -5.1 0z" fill="#bca814"/>
<path d="M428.2 272.7a2.5 2.5 0 1 0 5.1 0a2.5 2.5 0 1 0 -5.1 0zM504.9 325.7a2.5 2.5 0 1 0 5.1 0a2.5 2.5 0 1 0 -5.1 0zM552.8 351.6a2.5 2.5 0 1 0 5.1 0a2.5 2.5 0 1 0 -5.1 0zM584.7 366.9a2.5 2.5 0 1 0 5.1 0a2.5 2.5 0 1 0 -5.1 0zM605.9 377.0a2.5 2.5 0 1 0 5.1 0a2.5 2.5 0 1 0 -5.1 0zM710.3 416.9a2.5 2.5 0 1 0 5.1 0a2.5 2.5 0 1 0 -5.1 0z" fill="#9cb020"/>
<path d="M428.2 265.3a2.5 2.5 0 1 0 5.1 0a2.5 2.5 0 1 0 -5.1 0z" fill="#7cb82c"/>
<path d="M428.2 257.7a2.5 2.5 0 1 0 5.1 0a2.5 2.5 0 1 0 -5.1 0zM525.3 328.9a2.5 2.5 0 1 0 5.1 0a2.5 2.5 0 1 0 -5.1 0zM637.1 386.2a2.5 2.5 0 1 0 5.1 0a2.5 2.5 0 1 0 -5.1 0z" fill="#5cc034"/>
<path d="M428.2 250.0a2.5 2.5 0 1 0 5.1 0a2.5 2.5 0 1 0 -5.1 0zM504.9 311.6a2.5 2.5 0 1 0 5.1 0a2.5 2.5 0 1 0 -5.1 0zM599.1 365.0a2.5 2.5 0 1 0 5.1 0a2.5 2.5 0 1 0 -5.1 0zM697.5 406.2a2.5 2.5 0 1 0 5.1 0a2.5 2.5 0 1 0 -5.1 0zM714.4 411.2a2.5 2.5 0 1 0 5.1 0a2.5 2.5 0 1 0 -5.1 0z" fill="#40c848"/>
<path d="M428.2 242.1a2.5 2.5 0 1 0 5.1 0a2.5 2.5 0 1 0 -5.1 0zM741.1 416.0a2.5 2.5 0 1 0 5.1 0a2.5 2.5 0 1 0 -5.1 0z" fill="#34d470"/>
<path d="M428.2 234.1a2.5 2.5 0 1 0 5.1 0a2.5 2.5 0 1 0 -5.1 0zM515.3 309.2a2.5 2.5 0 1 0 5.1 0a2.5 2.5 0 1 0 -5.1 0zM710.3 405.6a2.5 2.5 0 1 0 5.1 0a2.5 2.5 0 1 0 -5.1 0z" fill="#24dc98"/>
<path d="M428.2 226.0a2.5 2.5 0 1 0 5.1 0a2.5 2.5 0 1 0 -5.1 0zM504.9 296.7a2.5 2.5 0 1 0 5.1 0a2.5 2.5 0 1 0 -5.1 0zM737.4 410.5a2.5 2.5 0 1 0 5.1 0a2.5 2.5 0 1 0 -5.1 0z" fill="#18e8bc"/>
<path d="M428.2 217.7a2.5 2.5 0 1 0 5.1 0a2.5 2.5 0 1 0 -5.1 0zM706.1 399.9a2.5 2.5 0 1 0 5.1 0a2.5 2.5 0 1 0 -5.1 0z" fill="#0cf0e0"/>
<path d="M443.0 338.7a2.5 2.5 0 1 0 5.1 0a2.5 2.5 0 1 0 -5.1 0zM482.2 357.5a2.5 2.5 0 1 0 5.1 0a2.5 2.5 0 1 0 -5.1 0zM515.3 371.6a2.5 2.5 0 1 0 5.1 0a2.5 2.5 0 1 0 -5.1 0zM631.2 413.9a2.5 2.5 0 1 0 5.1 0a2.5 2.5 0 1 0 -5.1 0zM693.1 432.6a2.5 2.5 0 1 0 5.1 0a2.5 2.5 0 1 0 -5.1 0z" fill="#301c00"/>
<path d="M443.0 321.9a2.5 2.5 0 1 0 5.1 0a2.5 2.5 0 1 0 -5.1 0zM701.9 427.6a2.5 2.5 0 1 0 5.1 0a2.5 2.5 0 1 0 -5.1 0z" fill="#905400"/>
<path d="M443.0 316.0a2.5 2.5 0 1 0 5.1 0a2.5 2.5 0 1 0 -5.1 0zM552.8 369.9a2.5 2.5 0 1 0 5.1 0a2.5 2.5 0 1 0 -5.1 0zM577.2 379.5a2.5 2.5 0 1 0 5.1 0a2.5 2.5 0 1 0 -5.1 0zM648.4 408.4a2.5 2.5 0 1 0 5.1 0a2.5 2.5 0 1 0 -5.1 0z" fill="#b46c00"/>
<path d="M443.0 296.9a2.5 2.5 0 1 0 5.1 0a2.5 2.5 0 1 0 -5.1 0zM653.9 402.7a2.5 2.5 0 1 0 5.1 0a2.5 2.5 0 1 0 -5.1 0zM697.5 417.3a2.5 2.5 0 1 0 5.1 0a2.5 2.5 0 1 0 -5.1 0zM714.4 422.2a2.5 2.5 0 1 0 5.1 0a2.5 2.5 0 1 0 -5.1 0z" fill="#d8a00c"/>
<path d="M443.0 290.1a2.5 2.5 0 1 0 5.1 0a2.5 2.5 0 1 0 -5.1 0zM688.5 412.2a2.5 2.5 0 1 0 5.1 0a2.5 2.5 0 1 0 -5.1 0zM741.1 426.8a2.5 2.5 0 1 0 5.1 0a2.5 2.5 0 1 0 -5.1 0z" fill="#b8a818"/>
<path d="M443.0 283.0a2.5 2.5 0 1 0 5.1 0a2.5 2.5 0 1 0 -5.1 0z" fill="#94b024"/>
<path d="M443.0 275.7a2.5 2.5 0 1 0 5.1 0a2.5 2.5 0 1 0 -5.1 0z" fill="#74bc30"/>
<path d="M443.0 260.7a2.5 2.5 0 1 0 5.1 0a2.5 2.5 0 1 0 -5.1 0zM515.3 316.6a2.5 2.5 0 1 0 5.1 0a2.5 2.5 0 1 0 -5.1 0z" fill="#3ccc58"/>
<path d="M443.0 252.9a2.5 2.5 0 1 0 5.1 0a2.5 2.5 0 1 0 -5.1 0zM584.7 353.5a2.5 2.5 0 1 0 5.1 0a2.5 2.5 0 1 0 -5.1 0zM637.1 380.0a2.5 2.5 0 1 0 5.1 0a2.5 2.5 0 1 0 -5.1 0zM706.1 405.8a2.5 2.5 0 1 0 5.1 0a2.5 2.5 0 1 0 -5.1 0z" fill="#2cd880"/>
<path d="M443.0 245.1a2.5 2.5 0 1 0 5.1 0a2.5 2.5 0 1 0 -5.1 0zM599.1 358.2a2.5 2.5 0 1 0 5.1 0a2.5 2.5 0 1 0 -5.1 0z" fill="#20e4a8"/>
<path d="M443.0 237.0a2.5 2.5 0 1 0 5.1 0a2.5 2.5 0 1 0 -5.1 0zM659.2 384.4a2.5 2.5 0 1 0 5.1 0a2.5 2.5 0 1 0 -5.1 0z" fill="#14ecd0"/>
<path d="M443.0 229.0a2.5 2.5 0 1 0 5.1 0a2.5 2.5 0 1 0 -5.1 0zM504.9 289.1a2.5 2.5 0 1 0 5.1 0a2.5 2.5 0 1 0 -5.1 0zM569.4 334.8a2.5 2.5 0 1 0 5.1 0a2.5 2.5 0 1 0 -5.1 0zM664.4 384.0a2.5 2.5 0 1 0 5.1 0a2.5 2.5 0 1 0 -5.1 0zM730.0 405.0a2.5 2.5 0 1 0 5.1 0a2.5 2.5 0 1 0 -5.1 0z" fill="#08f8f4"/>
<path d="M443.0 220.9a2.5 2.5 0 1 0 5.1 0a2.5 2.5 0 1 0 -5.1 0zM669.4 383.6a2.5 2.5 0 1 0 5.1 0a2.5 2.5 0 1 0 -5.1 0zM683.9 389.0a2.5 2.5 0 1 0 5.1 0a2.5 2.5 0 1 0 -5.1 0zM718.4 399.5a2.5 2.5 0 1 0 5.1 0a2.5 2.5 0 1 0 -5.1 0zM741.1 404.7a2.5 2.5 0 1 0 5.1 0a2.5 2.5 0 1 0 -5.1 0z" fill="#10f0f4"/>
<path d="M443.0 212.6a2.5 2.5 0 1 0 5.1 0a2.5 2.5 0 1 0 -5.1 0zM482.2 256.5a2.5 2.5 0 1 0 5.1 0a2.5 2.5 0 1 0 -5.1 0zM493.8 268.9a2.5 2.5 0 1 0 5.1 0a2.5 2.5 0 1 0 -5.1 0zM534.9 304.7a2.5 2.5 0 1 0 5.1 0a2.5 2.5 0 1 0 -5.1 0zM544.1 310.3a2.5 2.5 0 1 0 5.1 0a2.5 2.5 0 1 0 -5.1 0zM577.2 333.4a2.5 2.5 0 1 0 5.1 0a2.5 2.5 0 1 0 -5.1 0zM605.9 350.3a2.5 2.5 0 1 0 5.1 0a2.5 2.5 0 1 0 -5.1 0zM637.1 367.0a2.5 2.5 0 1 0 5.1 0a2.5 2.5 0 1 0 -5.1 0zM648.4 372.5a2.5 2.5 0 1 0 5.1 0a2.5 2.5 0 1 0 -5.1 0zM674.4 383.3a2.5 2.5 0 1 0 5.1 0a2.5 2.5 0 1 0 -5.1 0zM706.1 394.0a2.5 2.5 0 1 0 5.1 0a2.5 2.5 0 1 0 -5.1 0zM726.2 399.3a2.5 2.5 0 1 0 5.1 0a2.5 2.5 0 1 0 -5.1 0z" fill="#1cecf4"/>
<path d="M456.9 343.0a2.5 2.5 0 1 0 5.1 0a2.5 2.5 0 1 0 -5.1 0zM584.7 395.0a2.5 2.5 0 1 0 5.1 0a2.5 2.5 0 1 0 -5.1 0zM664.4 423.2a2.5 2.5 0 1 0 5.1 0a2.5 2.5 0 1 0 -5.1 0zM697.5 432.6a2.5 2.5 0 1 0 5.1 0a2.5 2.5 0 1 0 -5.1 0zM737.4 441.9a2.5 2.5 0 1 0 5.1 0a2.5 2.5 0 1 0 -5.1 0z" fill="#442800"/>
<path d="M456.9 337.6a2.5 2.5 0 1 0 5.1 0a2.5 2.5 0 1 0 -5.1 0zM544.1 375.7a2.5 2.5 0 1 0 5.1 0a2.5 2.5 0 1 0 -5.1 0zM569.4 385.2a2.5 2.5 0 1 0 5.1 0a2.5 2.5 0 1 0 -5.1 0zM618.9 404.2a2.5 2.5 0 1 0 5.1 0a2.5 2.5 0 1 0 -5.1 0zM631.2 408.9a2.5 2.5 0 1 0 5.1 0a2.5 2.5 0 1 0 -5.1 0zM726.2 437.2a2.5 2.5 0 1 0 5.1 0a2.5 2.5 0 1 0 -5.1 0z" fill="#603800"/>
<path d="M456.9 332.2a2.5 2.5 0 1 0 5.1 0a2.5 2.5 0 1 0 -5.1 0zM552.8 375.4a2.5 2.5 0 1 0 5.1 0a2.5 2.5 0 1 0 -5.1 0zM592.0 389.7a2.5 2.5 0 1 0 5.1 0a2.5 2.5 0 1 0 -5.1 0z" fill="#7c4800"/>
<path d="M456.9 326.3a2.5 2.5 0 1 0 5.1 0a2.5 2.5 0 1 0 -5.1 0zM706.1 427.5a2.5 2.5 0 1 0 5.1 0a2.5 2.5 0 1 0 -5.1 0z" fill="#a46400"/>
<path d="M456.9 314.0a2.5 2.5 0 1 0 5.1 0a2.5 2.5 0 1 0 -5.1 0zM544.1 358.9a2.5 2.5 0 1 0 5.1 0a2.5 2.5 0 1 0 -5.1 0zM674.4 412.7a2.5 2.5 0 1 0 5.1 0a2.5 2.5 0 1 0 -5.1 0zM688.5 417.6a2.5 2.5 0 1 0 5.1 0a2.5 2.5 0 1 0 -5.1 0zM722.3 427.2a2.5 2.5 0 1 0 5.1 0a2.5 2.5 0 1 0 -5.1 0z" fill="#fc9800"/>
<path d="M456.9 307.5a2.5 2.5 0 1 0 5.1 0a2.5 2.5 0 1 0 -5.1 0zM584.7 373.2a2.5 2.5 0 1 0 5.1 0a2.5 2.5 0 1 0 -5.1 0z" fill="#dca008"/>
<path d="M456.9 293.8a2.5 2.5 0 1 0 5.1 0a2.5 2.5 0 1 0 -5.1 0zM679.2 407.0a2.5 2.5 0 1 0 5.1 0a2.5 2.5 0 1 0 -5.1 0z" fill="#98b020"/>
<path d="M456.9 279.3a2.5 2.5 0 1 0 5.1 0a2.5 2.5 0 1 0 -5.1 0zM493.8 306.7a2.5 2.5 0 1 0 5.1 0a2.5 2.5 0 1 0 -5.1 0zM679.2 401.3a2.5 2.5 0 1 0 5.1 0a2.5 2.5 0 1 0 -5.1 0zM710.3 411.3a2.5 2.5 0 1 0 5.1 0a2.5 2.5 0 1 0 -5.1 0z" fill="#4cc43c"/>
<path d="M456.9 271.8a2.5 2.5 0 1 0 5.1 0a2.5 2.5 0 1 0 -5.1 0zM469.9 283.1a2.5 2.5 0 1 0 5.1 0a2.5 2.5 0 1 0 -5.1 0zM561.3 343.5a2.5 2.5 0 1 0 5.1 0a2.5 2.5 0 1 0 -5.1 0z" fill="#38d05c"/>
<path d="M456.9 264.1a2.5 2.5 0 1 0 5.1 0a2.5 2.5 0 1 0 -5.1 0zM469.9 275.6a2.5 2.5 0 1 0 5.1 0a2.5 2.5 0 1 0 -5.1 0zM605.9 364.0a2.5 2.5 0 1 0 5.1 0a2.5 2.5 0 1 0 -5.1 0z" fill="#28dc8c"/>
<path d="M456.9 256.4a2.5 2.5 0 1 0 5.1 0a2.5 2.5 0 1 0 -5.1 0zM544.1 325.2a2.5 2.5 0 1 0 5.1 0a2.5 2.5 0 1 0 -5.1 0zM552.8 330.7a2.5 2.5 0 1 0 5.1 0a2.5 2.5 0 1 0 -5.1 0z" fill="#1ce4b4"/>
<path d="M456.9 248.4a2.5 2.5 0 1 0 5.1 0a2.5 2.5 0 1 0 -5.1 0zM625.2 368.2a2.5 2.5 0 1 0 5.1 0a2.5 2.5 0 1 0 -5.1 0zM648.4 378.9a2.5 2.5 0 1 0 5.1 0a2.5 2.5 0 1 0 -5.1 0z" fill="#0cf0dc"/>
<path d="M456.9 240.6a2.5 2.5 0 1 0 5.1 0a2.5 2.5 0 1 0 -5.1 0zM469.9 252.4a2.5 2.5 0 1 0 5.1 0a2.5 2.5 0 1 0 -5.1 0zM493.8 276.6a2.5 2.5 0 1 0 5.1 0a2.5 2.5 0 1 0 -5.1 0zM515.3 294.2a2.5 2.5 0 1 0 5.1 0a2.5 2.5 0 1 0 -5.1 0zM599.1 351.2a2.5 2.5 0 1 0 5.1 0a2.5 2.5 0 1 0 -5.1 0zM618.9 362.3a2.5 2.5 0 1 0 5.1 0a2.5 2.5 0 1 0 -5.1 0zM653.9 378.4a2.5 2.5 0 1 0 5.1 0a2.5 2.5 0 1 0 -5.1 0zM697.5 394.4a2.5 2.5 0 1 0 5.1 0a2.5 2.5 0 1 0 -5.1 0zM714.4 399.6a2.5 2.5 0 1 0 5.1 0a2.5 2.5 0 1 0 -5.1 0zM733.8 404.9a2.5 2.5 0 1 0 5.1 0a2.5 2.5 0 1 0 -5.1 0z" fill="#0cf4f4"/>
<path d="M456.9 232.6a2.5 2.5 0 1 0 5.1 0a2.5 2.5 0 1 0 -5.1 0zM504.9 281.5a2.5 2.5 0 1 0 5.1 0a2.5 2.5 0 1 0 -5.1 0zM525.3 299.4a2.5 2.5 0 1 0 5.1 0a2.5 2.5 0 1 0 -5.1 0zM592.0 345.3a2.5 2.5 0 1 0 5.1 0a2.5 2.5 0 1 0 -5.1 0zM612.5 356.3a2.5 2.5 0 1 0 5.1 0a2.5 2.5 0 1 0 -5.1 0zM701.9 394.2a2.5 2.5 0 1 0 5.1 0a2.5 2.5 0 1 0 -5.1 0z" fill="#14f0f4"/>
<path d="M456.9 224.6a2.5 2.5 0 1 0 5.1 0a2.5 2.5 0 1 0 -5.1 0zM515.3 286.5a2.5 2.5 0 1 0 5.1 0a2.5 2.5 0 1 0 -5.1 0zM552.8 315.9a2.5 2.5 0 1 0 5.1 0a2.5 2.5 0 1 0 -5.1 0zM561.3 321.7a2.5 2.5 0 1 0 5.1 0a2.5 2.5 0 1 0 -5.1 0zM569.4 327.5a2.5 2.5 0 1 0 5.1 0a2.5 2.5 0 1 0 -5.1 0zM693.1 388.5a2.5 2.5 0 1 0 5.1 0a2.5 2.5 0 1 0 -5.1 0zM710.3 393.9a2.5 2.5 0 1 0 5.1 0a2.5 2.5 0 1 0 -5.1 0zM730.0 399.2a2.5 2.5 0 1 0 5.1 0a2.5 2.5 0 1 0 -5.1 0z" fill="#20ecf4"/>
<path d="M456.9 216.6a2.5 2.5 0 1 0 5.1 0a2.5 2.5 0 1 0 -5.1 0zM534.9 297.3a2.5 2.5 0 1 0 5.1 0a2.5 2.5 0 1 0 -5.1 0zM612.5 349.6a2.5 2.5 0 1 0 5.1 0a2.5 2.5 0 1 0 -5.1 0zM669.4 377.4a2.5 2.5 0 1 0 5.1 0a2.5 2.5 0 1 0 -5.1 0zM683.9 382.8a2.5 2.5 0 1 0 5.1 0a2.5 2.5 0 1 0 -5.1 0z" fill="#28e4f4"/>
<path d="M456.9 208.4a2.5 2.5 0 1 0 5.1 0a2.5 2.5 0 1 0 -5.1 0zM469.9 221.0a2.5 2.5 0 1 0 5.1 0a2.5 2.5 0 1 0 -5.1 0zM515.3 271.7a2.5 2.5 0 1 0 5.1 0a2.5 2.5 0 1 0 -5.1 0zM534.9 290.1a2.5 2.5 0 1 0 5.1 0a2.5 2.5 0 1 0 -5.1 0zM599.1 337.6a2.5 2.5 0 1 0 5.1 0a2.5 2.5 0 1 0 -5.1 0zM618.9 349.0a2.5 2.5 0 1 0 5.1 0a2.5 2.5 0 1 0 -5.1 0zM693.1 382.4a2.5 2.5 0 1 0 5.1 0a2.5 2.5 0 1 0 -5.1 0zM710.3 387.9a2.5 2.5 0 1 0 5.1 0a2.5 2.5 0 1 0 -5.1 0zM730.0 393.3a2.5 2.5 0 1 0 5.1 0a2.5 2.5 0 1 0 -5.1 0zM733.8 393.3a2.5 2.5 0 1 0 5.1 0a2.5 2.5 0 1 0 -5.1 0z" fill="#34e0f4"/>
<path d="M469.9 358.2a2.5 2.5 0 1 0 5.1 0a2.5 2.5 0 1 0 -5.1 0zM631.2 418.8a2.5 2.5 0 1 0 5.1 0a2.5 2.5 0 1 0 -5.1 0z" fill="#0c0400"/>
<path d="M469.9 342.2a2.5 2.5 0 1 0 5.1 0a2.5 2.5 0 1 0 -5.1 0z" fill="#683c00"/>
<path d="M469.9 324.6a2.5 2.5 0 1 0 5.1 0a2.5 2.5 0 1 0 -5.1 0zM718.4 427.3a2.5 2.5 0 1 0 5.1 0a2.5 2.5 0 1 0 -5.1 0z" fill="#e88800"/>
<path d="M469.9 304.9a2.5 2.5 0 1 0 5.1 0a2.5 2.5 0 1 0 -5.1 0zM664.4 402.1a2.5 2.5 0 1 0 5.1 0a2.5 2.5 0 1 0 -5.1 0zM693.1 412.0a2.5 2.5 0 1 0 5.1 0a2.5 2.5 0 1 0 -5.1 0z" fill="#a0b020"/>
<path d="M469.9 297.8a2.5 2.5 0 1 0 5.1 0a2.5 2.5 0 1 0 -5.1 0zM493.8 313.8a2.5 2.5 0 1 0 5.1 0a2.5 2.5 0 1 0 -5.1 0z" fill="#78b82c"/>
<path d="M469.9 290.5a2.5 2.5 0 1 0 5.1 0a2.5 2.5 0 1 0 -5.1 0z" fill="#54c438"/>
<path d="M469.9 267.9a2.5 2.5 0 1 0 5.1 0a2.5 2.5 0 1 0 -5.1 0zM683.9 395.0a2.5 2.5 0 1 0 5.1 0a2.5 2.5 0 1 0 -5.1 0z" fill="#18e8b8"/>
<path d="M469.9 260.1a2.5 2.5 0 1 0 5.1 0a2.5 2.5 0 1 0 -5.1 0zM482.2 272.0a2.5 2.5 0 1 0 5.1 0a2.5 2.5 0 1 0 -5.1 0zM525.3 306.9a2.5 2.5 0 1 0 5.1 0a2.5 2.5 0 1 0 -5.1 0zM637.1 373.5a2.5 2.5 0 1 0 5.1 0a2.5 2.5 0 1 0 -5.1 0zM726.2 405.1a2.5 2.5 0 1 0 5.1 0a2.5 2.5 0 1 0 -5.1 0z" fill="#0cf4e4"/>
<path d="M469.9 244.5a2.5 2.5 0 1 0 5.1 0a2.5 2.5 0 1 0 -5.1 0zM584.7 339.3a2.5 2.5 0 1 0 5.1 0a2.5 2.5 0 1 0 -5.1 0zM625.2 361.6a2.5 2.5 0 1 0 5.1 0a2.5 2.5 0 1 0 -5.1 0zM688.5 388.7a2.5 2.5 0 1 0 5.1 0a2.5 2.5 0 1 0 -5.1 0z" fill="#18ecf4"/>
<path d="M469.9 236.7a2.5 2.5 0 1 0 5.1 0a2.5 2.5 0 1 0 -5.1 0zM482.2 248.9a2.5 2.5 0 1 0 5.1 0a2.5 2.5 0 1 0 -5.1 0zM493.8 261.3a2.5 2.5 0 1 0 5.1 0a2.5 2.5 0 1 0 -5.1 0zM504.9 273.9a2.5 2.5 0 1 0 5.1 0a2.5 2.5 0 1 0 -5.1 0zM525.3 291.8a2.5 2.5 0 1 0 5.1 0a2.5 2.5 0 1 0 -5.1 0zM599.1 344.4a2.5 2.5 0 1 0 5.1 0a2.5 2.5 0 1 0 -5.1 0zM618.9 355.6a2.5 2.5 0 1 0 5.1 0a2.5 2.5 0 1 0 -5.1 0zM631.2 361.0a2.5 2.5 0 1 0 5.1 0a2.5 2.5 0 1 0 -5.1 0zM653.9 372.1a2.5 2.5 0 1 0 5.1 0a2.5 2.5 0 1 0 -5.1 0zM679.2 383.1a2.5 2.5 0 1 0 5.1 0a2.5 2.5 0 1 0 -5.1 0zM697.5 388.3a2.5 2.5 0 1 0 5.1 0a2.5 2.5 0 1 0 -5.1 0zM714.4 393.7a2.5 2.5 0 1 0 5.1 0a2.5 2.5 0 1 0 -5.1 0zM737.4 399.0a2.5 2.5 0 1 0 5.1 0a2.5 2.5 0 1 0 -5.1 0z" fill="#24e8f4"/>
<path d="M469.9 228.9a2.5 2.5 0 1 0 5.1 0a2.5 2.5 0 1 0 -5.1 0zM515.3 279.1a2.5 2.5 0 1 0 5.1 0a2.5 2.5 0 1 0 -5.1 0zM544.1 302.9a2.5 2.5 0 1 0 5.1 0a2.5 2.5 0 1 0 -5.1 0zM577.2 326.5a2.5 2.5 0 1 0 5.1 0a2.5 2.5 0 1 0 -5.1 0zM584.7 332.4a2.5 2.5 0 1 0 5.1 0a2.5 2.5 0 1 0 -5.1 0zM701.9 388.2a2.5 2.5 0 1 0 5.1 0a2.5 2.5 0 1 0 -5.1 0zM722.3 393.5a2.5 2.5 0 1 0 5.1 0a2.5 2.5 0 1 0 -5.1 0z" fill="#2ce4f4"/>
<path d="M469.9 213.1a2.5 2.5 0 1 0 5.1 0a2.5 2.5 0 1 0 -5.1 0zM525.3 277.2a2.5 2.5 0 1 0 5.1 0a2.5 2.5 0 1 0 -5.1 0zM552.8 301.6a2.5 2.5 0 1 0 5.1 0a2.5 2.5 0 1 0 -5.1 0zM561.3 307.5a2.5 2.5 0 1 0 5.1 0a2.5 2.5 0 1 0 -5.1 0zM569.4 313.5a2.5 2.5 0 1 0 5.1 0a2.5 2.5 0 1 0 -5.1 0zM577.2 319.5a2.5 2.5 0 1 0 5.1 0a2.5 2.5 0 1 0 -5.1 0zM584.7 325.5a2.5 2.5 0 1 0 5.1 0a2.5 2.5 0 1 0 -5.1 0zM612.5 342.9a2.5 2.5 0 1 0 5.1 0a2.5 2.5 0 1 0 -5.1 0zM642.8 360.0a2.5 2.5 0 1 0 5.1 0a2.5 2.5 0 1 0 -5.1 0zM653.9 365.7a2.5 2.5 0 1 0 5.1 0a2.5 2.5 0 1 0 -5.1 0zM669.4 371.1a2.5 2.5 0 1 0 5.1 0a2.5 2.5 0 1 0 -5.1 0zM683.9 376.7a2.5 2.5 0 1 0 5.1 0a2.5 2.5 0 1 0 -5.1 0zM718.4 387.7a2.5 2.5 0 1 0 5.1 0a2.5 2.5 0 1 0 -5.1 0z" fill="#3cdcf8"/>
<path d="M469.9 204.9a2.5 2.5 0 1 0 5.1 0a2.5 2.5 0 1 0 -5.1 0zM525.3 269.8a2.5 2.5 0 1 0 5.1 0a2.5 2.5 0 1 0 -5.1 0zM544.1 288.6a2.5 2.5 0 1 0 5.1 0a2.5 2.5 0 1 0 -5.1 0zM599.1 330.8a2.5 2.5 0 1 0 5.1 0a2.5 2.5 0 1 0 -5.1 0zM618.9 342.3a2.5 2.5 0 1 0 5.1 0a2.5 2.5 0 1 0 -5.1 0zM637.1 354.0a2.5 2.5 0 1 0 5.1 0a2.5 2.5 0 1 0 -5.1 0zM648.4 359.6a2.5 2.5 0 1 0 5.1 0a2.5 2.5 0 1 0 -5.1 0zM659.2 365.3a2.5 2.5 0 1 0 5.1 0a2.5 2.5 0 1 0 -5.1 0zM674.4 370.8a2.5 2.5 0 1 0 5.1 0a2.5 2.5 0 1 0 -5.1 0zM688.5 376.5a2.5 2.5 0 1 0 5.1 0a2.5 2.5 0 1 0 -5.1 0zM706.1 382.0a2.5 2.5 0 1 0 5.1 0a2.5 2.5 0 1 0 -5.1 0zM710.3 381.9a2.5 2.5 0 1 0 5.1 0a2.5 2.5 0 1 0 -5.1 0zM730.0 387.4a2.5 2.5 0 1 0 5.1 0a2.5 2.5 0 1 0 -5.1 0zM733.8 387.4a2.5 2.5 0 1 0 5.1 0a2.5 2.5 0 1 0 -5.1 0z" fill="#44d8f8"/>
<path d="M482.2 352.2a2.5 2.5 0 1 0 5.1 0a2.5 2.5 0 1 0 -5.1 0zM525.3 371.2a2.5 2.5 0 1 0 5.1 0a2.5 2.5 0 1 0 -5.1 0zM653.9 418.4a2.5 2.5 0 1 0 5.1 0a2.5 2.5 0 1 0 -5.1 0zM683.9 427.8a2.5 2.5 0 1 0 5.1 0a2.5 2.5 0 1 0 -5.1 0zM701.9 432.5a2.5 2.5 0 1 0 5.1 0a2.5 2.5 0 1 0 -5.1 0zM741.1 441.9a2.5 2.5 0 1 0 5.1 0a2.5 2.5 0 1 0 -5.1 0z" fill="#503000"/>
<path d="M482.2 346.9a2.5 2.5 0 1 0 5.1 0a2.5 2.5 0 1 0 -5.1 0zM525.3 366.0a2.5 2.5 0 1 0 5.1 0a2.5 2.5 0 1 0 -5.1 0zM561.3 380.3a2.5 2.5 0 1 0 5.1 0a2.5 2.5 0 1 0 -5.1 0z" fill="#704000"/>
<path d="M482.2 335.3a2.5 2.5 0 1 0 5.1 0a2.5 2.5 0 1 0 -5.1 0zM679.2 417.9a2.5 2.5 0 1 0 5.1 0a2.5 2.5 0 1 0 -5.1 0zM730.0 432.2a2.5 2.5 0 1 0 5.1 0a2.5 2.5 0 1 0 -5.1 0z" fill="#c47400"/>
<path d="M482.2 316.1a2.5 2.5 0 1 0 5.1 0a2.5 2.5 0 1 0 -5.1 0z" fill="#b4ac18"/>
<path d="M482.2 309.2a2.5 2.5 0 1 0 5.1 0a2.5 2.5 0 1 0 -5.1 0zM577.2 361.4a2.5 2.5 0 1 0 5.1 0a2.5 2.5 0 1 0 -5.1 0zM697.5 411.8a2.5 2.5 0 1 0 5.1 0a2.5 2.5 0 1 0 -5.1 0zM714.4 416.8a2.5 2.5 0 1 0 5.1 0a2.5 2.5 0 1 0 -5.1 0z" fill="#88b428"/>
<path d="M482.2 302.0a2.5 2.5 0 1 0 5.1 0a2.5 2.5 0 1 0 -5.1 0zM515.3 323.7a2.5 2.5 0 1 0 5.1 0a2.5 2.5 0 1 0 -5.1 0zM552.8 344.9a2.5 2.5 0 1 0 5.1 0a2.5 2.5 0 1 0 -5.1 0zM625.2 381.2a2.5 2.5 0 1 0 5.1 0a2.5 2.5 0 1 0 -5.1 0zM648.4 391.4a2.5 2.5 0 1 0 5.1 0a2.5 2.5 0 1 0 -5.1 0zM706.1 411.5a2.5 2.5 0 1 0 5.1 0a2.5 2.5 0 1 0 -5.1 0z" fill="#60c034"/>
<path d="M482.2 294.7a2.5 2.5 0 1 0 5.1 0a2.5 2.5 0 1 0 -5.1 0zM569.4 349.1a2.5 2.5 0 1 0 5.1 0a2.5 2.5 0 1 0 -5.1 0z" fill="#3ccc50"/>
<path d="M482.2 287.2a2.5 2.5 0 1 0 5.1 0a2.5 2.5 0 1 0 -5.1 0zM504.9 304.2a2.5 2.5 0 1 0 5.1 0a2.5 2.5 0 1 0 -5.1 0z" fill="#2cd884"/>
<path d="M482.2 279.7a2.5 2.5 0 1 0 5.1 0a2.5 2.5 0 1 0 -5.1 0z" fill="#1ce8b4"/>
<path d="M482.2 264.3a2.5 2.5 0 1 0 5.1 0a2.5 2.5 0 1 0 -5.1 0zM631.2 367.5a2.5 2.5 0 1 0 5.1 0a2.5 2.5 0 1 0 -5.1 0zM642.8 373.0a2.5 2.5 0 1 0 5.1 0a2.5 2.5 0 1 0 -5.1 0zM737.4 404.8a2.5 2.5 0 1 0 5.1 0a2.5 2.5 0 1 0 -5.1 0z" fill="#10f4f4"/>
<path d="M482.2 241.2a2.5 2.5 0 1 0 5.1 0a2.5 2.5 0 1 0 -5.1 0zM493.8 253.7a2.5 2.5 0 1 0 5.1 0a2.5 2.5 0 1 0 -5.1 0zM504.9 266.3a2.5 2.5 0 1 0 5.1 0a2.5 2.5 0 1 0 -5.1 0zM552.8 308.8a2.5 2.5 0 1 0 5.1 0a2.5 2.5 0 1 0 -5.1 0zM561.3 314.6a2.5 2.5 0 1 0 5.1 0a2.5 2.5 0 1 0 -5.1 0zM569.4 320.5a2.5 2.5 0 1 0 5.1 0a2.5 2.5 0 1 0 -5.1 0zM605.9 343.6a2.5 2.5 0 1 0 5.1 0a2.5 2.5 0 1 0 -5.1 0zM625.2 355.0a2.5 2.5 0 1 0 5.1 0a2.5 2.5 0 1 0 -5.1 0zM637.1 360.5a2.5 2.5 0 1 0 5.1 0a2.5 2.5 0 1 0 -5.1 0zM659.2 371.7a2.5 2.5 0 1 0 5.1 0a2.5 2.5 0 1 0 -5.1 0zM688.5 382.6a2.5 2.5 0 1 0 5.1 0a2.5 2.5 0 1 0 -5.1 0zM706.1 388.0a2.5 2.5 0 1 0 5.1 0a2.5 2.5 0 1 0 -5.1 0zM726.2 393.4a2.5 2.5 0 1 0 5.1 0a2.5 2.5 0 1 0 -5.1 0z" fill="#30e4f4"/>
<path d="M482.2 233.5a2.5 2.5 0 1 0 5.1 0a2.5 2.5 0 1 0 -5.1 0zM493.8 246.2a2.5 2.5 0 1 0 5.1 0a2.5 2.5 0 1 0 -5.1 0zM504.9 258.9a2.5 2.5 0 1 0 5.1 0a2.5 2.5 0 1 0 -5.1 0zM544.1 295.8a2.5 2.5 0 1 0 5.1 0a2.5 2.5 0 1 0 -5.1 0zM592.0 331.6a2.5 2.5 0 1 0 5.1 0a2.5 2.5 0 1 0 -5.1 0zM631.2 354.5a2.5 2.5 0 1 0 5.1 0a2.5 2.5 0 1 0 -5.1 0zM664.4 371.4a2.5 2.5 0 1 0 5.1 0a2.5 2.5 0 1 0 -5.1 0zM679.2 376.9a2.5 2.5 0 1 0 5.1 0a2.5 2.5 0 1 0 -5.1 0zM714.4 387.8a2.5 2.5 0 1 0 5.1 0a2.5 2.5 0 1 0 -5.1 0zM737.4 393.2a2.5 2.5 0 1 0 5.1 0a2.5 2.5 0 1 0 -5.1 0z" fill="#38e0f4"/>
<path d="M482.2 225.8a2.5 2.5 0 1 0 5.1 0a2.5 2.5 0 1 0 -5.1 0zM493.8 238.5a2.5 2.5 0 1 0 5.1 0a2.5 2.5 0 1 0 -5.1 0zM504.9 251.4a2.5 2.5 0 1 0 5.1 0a2.5 2.5 0 1 0 -5.1 0zM515.3 264.3a2.5 2.5 0 1 0 5.1 0a2.5 2.5 0 1 0 -5.1 0zM534.9 282.9a2.5 2.5 0 1 0 5.1 0a2.5 2.5 0 1 0 -5.1 0zM605.9 336.9a2.5 2.5 0 1 0 5.1 0a2.5 2.5 0 1 0 -5.1 0zM625.2 348.4a2.5 2.5 0 1 0 5.1 0a2.5 2.5 0 1 0 -5.1 0zM701.9 382.1a2.5 2.5 0 1 0 5.1 0a2.5 2.5 0 1 0 -5.1 0zM722.3 387.6a2.5 2.5 0 1 0 5.1 0a2.5 2.5 0 1 0 -5.1 0zM726.2 387.5a2.5 2.5 0 1 0 5.1 0a2.5 2.5 0 1 0 -5.1 0z" fill="#40dcf8"/>
<path d="M482.2 218.0a2.5 2.5 0 1 0 5.1 0a2.5 2.5 0 1 0 -5.1 0zM493.8 230.9a2.5 2.5 0 1 0 5.1 0a2.5 2.5 0 1 0 -5.1 0zM504.9 243.9a2.5 2.5 0 1 0 5.1 0a2.5 2.5 0 1 0 -5.1 0zM515.3 256.9a2.5 2.5 0 1 0 5.1 0a2.5 2.5 0 1 0 -5.1 0zM534.9 275.6a2.5 2.5 0 1 0 5.1 0a2.5 2.5 0 1 0 -5.1 0zM552.8 294.5a2.5 2.5 0 1 0 5.1 0a2.5 2.5 0 1 0 -5.1 0zM561.3 300.4a2.5 2.5 0 1 0 5.1 0a2.5 2.5 0 1 0 -5.1 0zM569.4 306.5a2.5 2.5 0 1 0 5.1 0a2.5 2.5 0 1 0 -5.1 0zM577.2 312.5a2.5 2.5 0 1 0 5.1 0a2.5 2.5 0 1 0 -5.1 0zM584.7 318.6a2.5 2.5 0 1 0 5.1 0a2.5 2.5 0 1 0 -5.1 0zM592.0 324.7a2.5 2.5 0 1 0 5.1 0a2.5 2.5 0 1 0 -5.1 0zM612.5 336.2a2.5 2.5 0 1 0 5.1 0a2.5 2.5 0 1 0 -5.1 0zM631.2 347.9a2.5 2.5 0 1 0 5.1 0a2.5 2.5 0 1 0 -5.1 0zM664.4 365.0a2.5 2.5 0 1 0 5.1 0a2.5 2.5 0 1 0 -5.1 0zM679.2 370.6a2.5 2.5 0 1 0 5.1 0a2.5 2.5 0 1 0 -5.1 0zM693.1 376.3a2.5 2.5 0 1 0 5.1 0a2.5 2.5 0 1 0 -5.1 0zM714.4 381.8a2.5 2.5 0 1 0 5.1 0a2.5 2.5 0 1 0 -5.1 0zM737.4 387.3a2.5 2.5 0 1 0 5.1 0a2.5 2.5 0 1 0 -5.1 0zM741.1 387.3a2.5 2.5 0 1 0 5.1 0a2.5 2.5 0 1 0 -5.1 0z" fill="#48d8f8"/>
<path d="M482.2 210.1a2.5 2.5 0 1 0 5.1 0a2.5 2.5 0 1 0 -5.1 0zM525.3 262.6a2.5 2.5 0 1 0 5.1 0a2.5 2.5 0 1 0 -5.1 0zM544.1 281.5a2.5 2.5 0 1 0 5.1 0a2.5 2.5 0 1 0 -5.1 0zM605.9 330.1a2.5 2.5 0 1 0 5.1 0a2.5 2.5 0 1 0 -5.1 0zM642.8 353.5a2.5 2.5 0 1 0 5.1 0a2.5 2.5 0 1 0 -5.1 0zM653.9 359.2a2.5 2.5 0 1 0 5.1 0a2.5 2.5 0 1 0 -5.1 0zM683.9 370.5a2.5 2.5 0 1 0 5.1 0a2.5 2.5 0 1 0 -5.1 0zM697.5 376.2a2.5 2.5 0 1 0 5.1 0a2.5 2.5 0 1 0 -5.1 0zM718.4 381.7a2.5 2.5 0 1 0 5.1 0a2.5 2.5 0 1 0 -5.1 0zM722.3 381.6a2.5 2.5 0 1 0 5.1 0a2.5 2.5 0 1 0 -5.1 0z" fill="#4cd4f8"/>
<path d="M482.2 202.1a2.5 2.5 0 1 0 5.1 0a2.5 2.5 0 1 0 -5.1 0zM493.8 215.6a2.5 2.5 0 1 0 5.1 0a2.5 2.5 0 1 0 -5.1 0zM504.9 228.7a2.5 2.5 0 1 0 5.1 0a2.5 2.5 0 1 0 -5.1 0zM515.3 242.0a2.5 2.5 0 1 0 5.1 0a2.5 2.5 0 1 0 -5.1 0zM525.3 255.2a2.5 2.5 0 1 0 5.1 0a2.5 2.5 0 1 0 -5.1 0zM544.1 274.2a2.5 2.5 0 1 0 5.1 0a2.5 2.5 0 1 0 -5.1 0zM569.4 299.4a2.5 2.5 0 1 0 5.1 0a2.5 2.5 0 1 0 -5.1 0zM577.2 305.5a2.5 2.5 0 1 0 5.1 0a2.5 2.5 0 1 0 -5.1 0zM584.7 311.7a2.5 2.5 0 1 0 5.1 0a2.5 2.5 0 1 0 -5.1 0zM618.9 335.6a2.5 2.5 0 1 0 5.1 0a2.5 2.5 0 1 0 -5.1 0zM648.4 353.1a2.5 2.5 0 1 0 5.1 0a2.5 2.5 0 1 0 -5.1 0zM659.2 358.9a2.5 2.5 0 1 0 5.1 0a2.5 2.5 0 1 0 -5.1 0zM674.4 364.6a2.5 2.5 0 1 0 5.1 0a2.5 2.5 0 1 0 -5.1 0zM693.1 370.1a2.5 2.5 0 1 0 5.1 0a2.5 2.5 0 1 0 -5.1 0zM710.3 375.8a2.5 2.5 0 1 0 5.1 0a2.5 2.5 0 1 0 -5.1 0zM733.8 381.4a2.5 2.5 0 1 0 5.1 0a2.5 2.5 0 1 0 -5.1 0zM737.4 381.4a2.5 2.5 0 1 0 5.1 0a2.5 2.5 0 1 0 -5.1 0z" fill="#54d0f8"/>
<path d="M493.8 345.9a2.5 2.5 0 1 0 5.1 0a2.5 2.5 0 1 0 -5.1 0zM525.3 360.5a2.5 2.5 0 1 0 5.1 0a2.5 2.5 0 1 0 -5.1 0zM722.3 432.3a2.5 2.5 0 1 0 5.1 0a2.5 2.5 0 1 0 -5.1 0z" fill="#9c5c00"/>
<path d="M493.8 327.5a2.5 2.5 0 1 0 5.1 0a2.5 2.5 0 1 0 -5.1 0z" fill="#d0a40c"/>
<path d="M493.8 320.8a2.5 2.5 0 1 0 5.1 0a2.5 2.5 0 1 0 -5.1 0zM726.2 421.8a2.5 2.5 0 1 0 5.1 0a2.5 2.5 0 1 0 -5.1 0z" fill="#a4ac1c"/>
<path d="M493.8 299.3a2.5 2.5 0 1 0 5.1 0a2.5 2.5 0 1 0 -5.1 0zM544.1 332.4a2.5 2.5 0 1 0 5.1 0a2.5 2.5 0 1 0 -5.1 0zM659.2 390.6a2.5 2.5 0 1 0 5.1 0a2.5 2.5 0 1 0 -5.1 0z" fill="#34d46c"/>
<path d="M493.8 291.9a2.5 2.5 0 1 0 5.1 0a2.5 2.5 0 1 0 -5.1 0zM525.3 314.4a2.5 2.5 0 1 0 5.1 0a2.5 2.5 0 1 0 -5.1 0zM569.4 342.1a2.5 2.5 0 1 0 5.1 0a2.5 2.5 0 1 0 -5.1 0zM618.9 369.0a2.5 2.5 0 1 0 5.1 0a2.5 2.5 0 1 0 -5.1 0z" fill="#20e0a4"/>
<path d="M493.8 284.2a2.5 2.5 0 1 0 5.1 0a2.5 2.5 0 1 0 -5.1 0zM584.7 346.5a2.5 2.5 0 1 0 5.1 0a2.5 2.5 0 1 0 -5.1 0zM688.5 394.8a2.5 2.5 0 1 0 5.1 0a2.5 2.5 0 1 0 -5.1 0z" fill="#10f0d8"/>
<path d="M493.8 223.3a2.5 2.5 0 1 0 5.1 0a2.5 2.5 0 1 0 -5.1 0zM504.9 236.4a2.5 2.5 0 1 0 5.1 0a2.5 2.5 0 1 0 -5.1 0zM515.3 249.5a2.5 2.5 0 1 0 5.1 0a2.5 2.5 0 1 0 -5.1 0zM534.9 268.3a2.5 2.5 0 1 0 5.1 0a2.5 2.5 0 1 0 -5.1 0zM552.8 287.4a2.5 2.5 0 1 0 5.1 0a2.5 2.5 0 1 0 -5.1 0zM592.0 317.8a2.5 2.5 0 1 0 5.1 0a2.5 2.5 0 1 0 -5.1 0zM599.1 324.0a2.5 2.5 0 1 0 5.1 0a2.5 2.5 0 1 0 -5.1 0zM625.2 341.8a2.5 2.5 0 1 0 5.1 0a2.5 2.5 0 1 0 -5.1 0zM637.1 347.4a2.5 2.5 0 1 0 5.1 0a2.5 2.5 0 1 0 -5.1 0zM669.4 364.8a2.5 2.5 0 1 0 5.1 0a2.5 2.5 0 1 0 -5.1 0zM688.5 370.3a2.5 2.5 0 1 0 5.1 0a2.5 2.5 0 1 0 -5.1 0zM701.9 376.0a2.5 2.5 0 1 0 5.1 0a2.5 2.5 0 1 0 -5.1 0zM706.1 375.9a2.5 2.5 0 1 0 5.1 0a2.5 2.5 0 1 0 -5.1 0zM726.2 381.6a2.5 2.5 0 1 0 5.1 0a2.5 2.5 0 1 0 -5.1 0zM730.0 381.5a2.5 2.5 0 1 0 5.1 0a2.5 2.5 0 1 0 -5.1 0z" fill="#50d4f8"/>
<path d="M493.8 207.6a2.5 2.5 0 1 0 5.1 0a2.5 2.5 0 1 0 -5.1 0zM504.9 221.1a2.5 2.5 0 1 0 5.1 0a2.5 2.5 0 1 0 -5.1 0zM515.3 234.4a2.5 2.5 0 1 0 5.1 0a2.5 2.5 0 1 0 -5.1 0zM525.3 247.7a2.5 2.5 0 1 0 5.1 0a2.5 2.5 0 1 0 -5.1 0zM544.1 266.9a2.5 2.5 0 1 0 5.1 0a2.5 2.5 0 1 0 -5.1 0zM561.3 286.3a2.5 2.5 0 1 0 5.1 0a2.5 2.5 0 1 0 -5.1 0zM569.4 292.3a2.5 2.5 0 1 0 5.1 0a2.5 2.5 0 1 0 -5.1 0zM584.7 304.7a2.5 2.5 0 1 0 5.1 0a2.5 2.5 0 1 0 -5.1 0zM592.0 310.9a2.5 2.5 0 1 0 5.1 0a2.5 2.5 0 1 0 -5.1 0zM599.1 317.1a2.5 2.5 0 1 0 5.1 0a2.5 2.5 0 1 0 -5.1 0zM625.2 335.1a2.5 2.5 0 1 0 5.1 0a2.5 2.5 0 1 0 -5.1 0zM669.4 358.4a2.5 2.5 0 1 0 5.1 0a2.5 2.5 0 1 0 -5.1 0zM683.9 364.2a2.5 2.5 0 1 0 5.1 0a2.5 2.5 0 1 0 -5.1 0zM701.9 369.9a2.5 2.5 0 1 0 5.1 0a2.5 2.5 0 1 0 -5.1 0zM722.3 375.6a2.5 2.5 0 1 0 5.1 0a2.5 2.5 0 1 0 -5.1 0zM726.2 375.5a2.5 2.5 0 1 0 5.1 0a2.5 2.5 0 1 0 -5.1 0z" fill="#5cccf8"/>
<path d="M493.8 199.5a2.5 2.5 0 1 0 5.1 0a2.5 2.5 0 1 0 -5.1 0zM504.9 213.3a2.5 2.5 0 1 0 5.1 0a2.5 2.5 0 1 0 -5.1 0zM525.3 240.2a2.5 2.5 0 1 0 5.1 0a2.5 2.5 0 1 0 -5.1 0zM534.9 253.6a2.5 2.5 0 1 0 5.1 0a2.5 2.5 0 1 0 -5.1 0zM552.8 273.0a2.5 2.5 0 1 0 5.1 0a2.5 2.5 0 1 0 -5.1 0zM577.2 298.4a2.5 2.5 0 1 0 5.1 0a2.5 2.5 0 1 0 -5.1 0zM618.9 328.9a2.5 2.5 0 1 0 5.1 0a2.5 2.5 0 1 0 -5.1 0zM637.1 340.8a2.5 2.5 0 1 0 5.1 0a2.5 2.5 0 1 0 -5.1 0zM648.4 346.6a2.5 2.5 0 1 0 5.1 0a2.5 2.5 0 1 0 -5.1 0zM659.2 352.4a2.5 2.5 0 1 0 5.1 0a2.5 2.5 0 1 0 -5.1 0zM674.4 358.2a2.5 2.5 0 1 0 5.1 0a2.5 2.5 0 1 0 -5.1 0zM688.5 364.0a2.5 2.5 0 1 0 5.1 0a2.5 2.5 0 1 0 -5.1 0zM706.1 369.8a2.5 2.5 0 1 0 5.1 0a2.5 2.5 0 1 0 -5.1 0zM710.3 369.7a2.5 2.5 0 1 0 5.1 0a2.5 2.5 0 1 0 -5.1 0zM730.0 375.5a2.5 2.5 0 1 0 5.1 0a2.5 2.5 0 1 0 -5.1 0zM733.8 375.4a2.5 2.5 0 1 0 5.1 0a2.5 2.5 0 1 0 -5.1 0zM737.4 375.3a2.5 2.5 0 1 0 5.1 0a2.5 2.5 0 1 0 -5.1 0z" fill="#60ccf8"/>
<path d="M504.9 350.7a2.5 2.5 0 1 0 5.1 0a2.5 2.5 0 1 0 -5.1 0zM515.3 355.6a2.5 2.5 0 1 0 5.1 0a2.5 2.5 0 1 0 -5.1 0zM561.3 374.9a2.5 2.5 0 1 0 5.1 0a2.5 2.5 0 1 0 -5.1 0zM688.5 422.8a2.5 2.5 0 1 0 5.1 0a2.5 2.5 0 1 0 -5.1 0z" fill="#a06000"/>
<path d="M504.9 344.8a2.5 2.5 0 1 0 5.1 0a2.5 2.5 0 1 0 -5.1 0zM525.3 354.7a2.5 2.5 0 1 0 5.1 0a2.5 2.5 0 1 0 -5.1 0zM605.9 388.9a2.5 2.5 0 1 0 5.1 0a2.5 2.5 0 1 0 -5.1 0zM653.9 408.2a2.5 2.5 0 1 0 5.1 0a2.5 2.5 0 1 0 -5.1 0zM733.8 432.1a2.5 2.5 0 1 0 5.1 0a2.5 2.5 0 1 0 -5.1 0z" fill="#d48000"/>
<path d="M504.9 338.7a2.5 2.5 0 1 0 5.1 0a2.5 2.5 0 1 0 -5.1 0z" fill="#f49c04"/>
<path d="M504.9 205.5a2.5 2.5 0 1 0 5.1 0a2.5 2.5 0 1 0 -5.1 0zM515.3 219.2a2.5 2.5 0 1 0 5.1 0a2.5 2.5 0 1 0 -5.1 0zM525.3 232.8a2.5 2.5 0 1 0 5.1 0a2.5 2.5 0 1 0 -5.1 0zM544.1 252.4a2.5 2.5 0 1 0 5.1 0a2.5 2.5 0 1 0 -5.1 0zM552.8 265.8a2.5 2.5 0 1 0 5.1 0a2.5 2.5 0 1 0 -5.1 0zM561.3 272.0a2.5 2.5 0 1 0 5.1 0a2.5 2.5 0 1 0 -5.1 0zM577.2 291.5a2.5 2.5 0 1 0 5.1 0a2.5 2.5 0 1 0 -5.1 0zM584.7 297.7a2.5 2.5 0 1 0 5.1 0a2.5 2.5 0 1 0 -5.1 0zM592.0 303.9a2.5 2.5 0 1 0 5.1 0a2.5 2.5 0 1 0 -5.1 0zM618.9 322.2a2.5 2.5 0 1 0 5.1 0a2.5 2.5 0 1 0 -5.1 0zM625.2 328.4a2.5 2.5 0 1 0 5.1 0a2.5 2.5 0 1 0 -5.1 0zM637.1 334.2a2.5 2.5 0 1 0 5.1 0a2.5 2.5 0 1 0 -5.1 0zM653.9 346.3a2.5 2.5 0 1 0 5.1 0a2.5 2.5 0 1 0 -5.1 0zM669.4 352.0a2.5 2.5 0 1 0 5.1 0a2.5 2.5 0 1 0 -5.1 0zM683.9 357.9a2.5 2.5 0 1 0 5.1 0a2.5 2.5 0 1 0 -5.1 0zM701.9 363.7a2.5 2.5 0 1 0 5.1 0a2.5 2.5 0 1 0 -5.1 0zM706.1 363.6a2.5 2.5 0 1 0 5.1 0a2.5 2.5 0 1 0 -5.1 0zM722.3 369.5a2.5 2.5 0 1 0 5.1 0a2.5 2.5 0 1 0 -5.1 0zM726.2 369.4a2.5 2.5 0 1 0 5.1 0a2.5 2.5 0 1 0 -5.1 0zM730.0 369.4a2.5 2.5 0 1 0 5.1 0a2.5 2.5 0 1 0 -5.1 0zM733.8 369.4a2.5 2.5 0 1 0 5.1 0a2.5 2.5 0 1 0 -5.1 0z" fill="#68c8f8"/>
<path d="M504.9 197.7a2.5 2.5 0 1 0 5.1 0a2.5 2.5 0 1 0 -5.1 0zM525.3 225.3a2.5 2.5 0 1 0 5.1 0a2.5 2.5 0 1 0 -5.1 0zM544.1 245.2a2.5 2.5 0 1 0 5.1 0a2.5 2.5 0 1 0 -5.1 0zM552.8 258.6a2.5 2.5 0 1 0 5.1 0a2.5 2.5 0 1 0 -5.1 0zM561.3 264.9a2.5 2.5 0 1 0 5.1 0a2.5 2.5 0 1 0 -5.1 0zM577.2 284.5a2.5 2.5 0 1 0 5.1 0a2.5 2.5 0 1 0 -5.1 0zM584.7 290.8a2.5 2.5 0 1 0 5.1 0a2.5 2.5 0 1 0 -5.1 0zM592.0 297.1a2.5 2.5 0 1 0 5.1 0a2.5 2.5 0 1 0 -5.1 0zM599.1 303.4a2.5 2.5 0 1 0 5.1 0a2.5 2.5 0 1 0 -5.1 0zM605.9 309.6a2.5 2.5 0 1 0 5.1 0a2.5 2.5 0 1 0 -5.1 0zM631.2 328.0a2.5 2.5 0 1 0 5.1 0a2.5 2.5 0 1 0 -5.1 0zM648.4 340.1a2.5 2.5 0 1 0 5.1 0a2.5 2.5 0 1 0 -5.1 0zM659.2 346.0a2.5 2.5 0 1 0 5.1 0a2.5 2.5 0 1 0 -5.1 0zM674.4 351.9a2.5 2.5 0 1 0 5.1 0a2.5 2.5 0 1 0 -5.1 0zM679.2 351.8a2.5 2.5 0 1 0 5.1 0a2.5 2.5 0 1 0 -5.1 0zM693.1 357.7a2.5 2.5 0 1 0 5.1 0a2.5 2.5 0 1 0 -5.1 0zM697.5 357.6a2.5 2.5 0 1 0 5.1 0a2.5 2.5 0 1 0 -5.1 0zM710.3 363.5a2.5 2.5 0 1 0 5.1 0a2.5 2.5 0 1 0 -5.1 0zM714.4 363.5a2.5 2.5 0 1 0 5.1 0a2.5 2.5 0 1 0 -5.1 0zM718.4 363.5a2.5 2.5 0 1 0 5.1 0a2.5 2.5 0 1 0 -5.1 0zM741.1 369.3a2.5 2.5 0 1 0 5.1 0a2.5 2.5 0 1 0 -5.1 0z" fill="#6cc4f8"/>
<path d="M515.3 349.8a2.5 2.5 0 1 0 5.1 0a2.5 2.5 0 1 0 -5.1 0z" fill="#d88000"/>
<path d="M515.3 343.7a2.5 2.5 0 1 0 5.1 0a2.5 2.5 0 1 0 -5.1 0zM525.3 348.7a2.5 2.5 0 1 0 5.1 0a2.5 2.5 0 1 0 -5.1 0zM569.4 368.5a2.5 2.5 0 1 0 5.1 0a2.5 2.5 0 1 0 -5.1 0zM625.2 393.2a2.5 2.5 0 1 0 5.1 0a2.5 2.5 0 1 0 -5.1 0zM637.1 398.0a2.5 2.5 0 1 0 5.1 0a2.5 2.5 0 1 0 -5.1 0zM726.2 427.1a2.5 2.5 0 1 0 5.1 0a2.5 2.5 0 1 0 -5.1 0z" fill="#f09c04"/>
<path d="M515.3 337.3a2.5 2.5 0 1 0 5.1 0a2.5 2.5 0 1 0 -5.1 0z" fill="#c4a414"/>
<path d="M515.3 330.7a2.5 2.5 0 1 0 5.1 0a2.5 2.5 0 1 0 -5.1 0zM544.1 346.2a2.5 2.5 0 1 0 5.1 0a2.5 2.5 0 1 0 -5.1 0zM730.0 421.7a2.5 2.5 0 1 0 5.1 0a2.5 2.5 0 1 0 -5.1 0z" fill="#94b424"/>
<path d="M515.3 301.7a2.5 2.5 0 1 0 5.1 0a2.5 2.5 0 1 0 -5.1 0zM722.3 405.2a2.5 2.5 0 1 0 5.1 0a2.5 2.5 0 1 0 -5.1 0z" fill="#10f0d4"/>
<path d="M515.3 226.8a2.5 2.5 0 1 0 5.1 0a2.5 2.5 0 1 0 -5.1 0zM612.5 322.7a2.5 2.5 0 1 0 5.1 0a2.5 2.5 0 1 0 -5.1 0zM741.1 375.3a2.5 2.5 0 1 0 5.1 0a2.5 2.5 0 1 0 -5.1 0z" fill="#64ccf8"/>
<path d="M515.3 211.6a2.5 2.5 0 1 0 5.1 0a2.5 2.5 0 1 0 -5.1 0zM534.9 238.9a2.5 2.5 0 1 0 5.1 0a2.5 2.5 0 1 0 -5.1 0zM569.4 278.2a2.5 2.5 0 1 0 5.1 0a2.5 2.5 0 1 0 -5.1 0zM612.5 315.9a2.5 2.5 0 1 0 5.1 0a2.5 2.5 0 1 0 -5.1 0zM688.5 357.8a2.5 2.5 0 1 0 5.1 0a2.5 2.5 0 1 0 -5.1 0zM737.4 369.3a2.5 2.5 0 1 0 5.1 0a2.5 2.5 0 1 0 -5.1 0z" fill="#6cc8f8"/>
<path d="M515.3 204.1a2.5 2.5 0 1 0 5.1 0a2.5 2.5 0 1 0 -5.1 0zM515.3 196.5a2.5 2.5 0 1 0 5.1 0a2.5 2.5 0 1 0 -5.1 0zM525.3 218.0a2.5 2.5 0 1 0 5.1 0a2.5 2.5 0 1 0 -5.1 0zM525.3 210.6a2.5 2.5 0 1 0 5.1 0a2.5 2.5 0 1 0 -5.1 0zM534.9 231.6a2.5 2.5 0 1 0 5.1 0a2.5 2.5 0 1 0 -5.1 0zM534.9 224.4a2.5 2.5 0 1 0 5.1 0a2.5 2.5 0 1 0 -5.1 0zM544.1 238.0a2.5 2.5 0 1 0 5.1 0a2.5 2.5 0 1 0 -5.1 0zM552.8 251.6a2.5 2.5 0 1 0 5.1 0a2.5 2.5 0 1 0 -5.1 0zM561.3 257.9a2.5 2.5 0 1 0 5.1 0a2.5 2.5 0 1 0 -5.1 0zM569.4 271.3a2.5 2.5 0 1 0 5.1 0a2.5 2.5 0 1 0 -5.1 0zM577.2 277.6a2.5 2.5 0 1 0 5.1 0a2.5 2.5 0 1 0 -5.1 0zM584.7 284.0a2.5 2.5 0 1 0 5.1 0a2.5 2.5 0 1 0 -5.1 0zM592.0 290.3a2.5 2.5 0 1 0 5.1 0a2.5 2.5 0 1 0 -5.1 0zM605.9 303.0a2.5 2.5 0 1 0 5.1 0a2.5 2.5 0 1 0 -5.1 0zM612.5 309.3a2.5 2.5 0 1 0 5.1 0a2.5 2.5 0 1 0 -5.1 0zM618.9 315.6a2.5 2.5 0 1 0 5.1 0a2.5 2.5 0 1 0 -5.1 0zM625.2 321.8a2.5 2.5 0 1 0 5.1 0a2.5 2.5 0 1 0 -5.1 0zM637.1 327.8a2.5 2.5 0 1 0 5.1 0a2.5 2.5 0 1 0 -5.1 0zM642.8 333.9a2.5 2.5 0 1 0 5.1 0a2.5 2.5 0 1 0 -5.1 0zM648.4 333.7a2.5 2.5 0 1 0 5.1 0a2.5 2.5 0 1 0 -5.1 0zM653.9 339.9a2.5 2.5 0 1 0 5.1 0a2.5 2.5 0 1 0 -5.1 0zM664.4 345.9a2.5 2.5 0 1 0 5.1 0a2.5 2.5 0 1 0 -5.1 0zM669.4 345.7a2.5 2.5 0 1 0 5.1 0a2.5 2.5 0 1 0 -5.1 0zM683.9 351.7a2.5 2.5 0 1 0 5.1 0a2.5 2.5 0 1 0 -5.1 0zM688.5 351.6a2.5 2.5 0 1 0 5.1 0a2.5 2.5 0 1 0 -5.1 0zM701.9 357.6a2.5 2.5 0 1 0 5.1 0a2.5 2.5 0 1 0 -5.1 0zM706.1 357.5a2.5 2.5 0 1 0 5.1 0a2.5 2.5 0 1 0 -5.1 0zM710.3 357.5a2.5 2.5 0 1 0 5.1 0a2.5 2.5 0 1 0 -5.1 0zM722.3 363.4a2.5 2.5 0 1 0 5.1 0a2.5 2.5 0 1 0 -5.1 0zM726.2 363.4a2.5 2.5 0 1 0 5.1 0a2.5 2.5 0 1 0 -5.1 0zM730.0 363.4a2.5 2.5 0 1 0 5.1 0a2.5 2.5 0 1 0 -5.1 0zM733.8 363.3a2.5 2.5 0 1 0 5.1 0a2.5 2.5 0 1 0 -5.1 0zM737.4 363.3a2.5 2.5 0 1 0 5.1 0a2.5 2.5 0 1 0 -5.1 0zM741.1 363.3a2.5 2.5 0 1 0 5.1 0a2.5 2.5 0 1 0 -5.1 0z" fill="#70c4f8"/>
<path d="M525.3 381.5a2.5 2.5 0 1 0 5.1 0a2.5 2.5 0 1 0 -5.1 0zM577.2 400.1a2.5 2.5 0 1 0 5.1 0a2.5 2.5 0 1 0 -5.1 0zM592.0 404.8a2.5 2.5 0 1 0 5.1 0a2.5 2.5 0 1 0 -5.1 0zM605.9 409.4a2.5 2.5 0 1 0 5.1 0a2.5 2.5 0 1 0 -5.1 0zM618.9 414.1a2.5 2.5 0 1 0 5.1 0a2.5 2.5 0 1 0 -5.1 0zM648.4 423.4a2.5 2.5 0 1 0 5.1 0a2.5 2.5 0 1 0 -5.1 0z" fill="#0c0800"/>
<path d="M525.3 376.4a2.5 2.5 0 1 0 5.1 0a2.5 2.5 0 1 0 -5.1 0zM592.0 399.9a2.5 2.5 0 1 0 5.1 0a2.5 2.5 0 1 0 -5.1 0z" fill="#2c1800"/>
<path d="M525.3 342.4a2.5 2.5 0 1 0 5.1 0a2.5 2.5 0 1 0 -5.1 0zM701.9 417.2a2.5 2.5 0 1 0 5.1 0a2.5 2.5 0 1 0 -5.1 0z" fill="#c4a814"/>
<path d="M525.3 321.7a2.5 2.5 0 1 0 5.1 0a2.5 2.5 0 1 0 -5.1 0zM718.4 411.0a2.5 2.5 0 1 0 5.1 0a2.5 2.5 0 1 0 -5.1 0zM737.4 416.1a2.5 2.5 0 1 0 5.1 0a2.5 2.5 0 1 0 -5.1 0z" fill="#38d060"/>
<path d="M525.3 284.5a2.5 2.5 0 1 0 5.1 0a2.5 2.5 0 1 0 -5.1 0zM648.4 366.0a2.5 2.5 0 1 0 5.1 0a2.5 2.5 0 1 0 -5.1 0zM674.4 377.1a2.5 2.5 0 1 0 5.1 0a2.5 2.5 0 1 0 -5.1 0z" fill="#30e0f4"/>
<path d="M525.3 203.0a2.5 2.5 0 1 0 5.1 0a2.5 2.5 0 1 0 -5.1 0zM534.9 217.0a2.5 2.5 0 1 0 5.1 0a2.5 2.5 0 1 0 -5.1 0zM544.1 230.8a2.5 2.5 0 1 0 5.1 0a2.5 2.5 0 1 0 -5.1 0zM577.2 270.7a2.5 2.5 0 1 0 5.1 0a2.5 2.5 0 1 0 -5.1 0zM625.2 315.2a2.5 2.5 0 1 0 5.1 0a2.5 2.5 0 1 0 -5.1 0zM642.8 327.5a2.5 2.5 0 1 0 5.1 0a2.5 2.5 0 1 0 -5.1 0zM664.4 339.5a2.5 2.5 0 1 0 5.1 0a2.5 2.5 0 1 0 -5.1 0zM679.2 345.5a2.5 2.5 0 1 0 5.1 0a2.5 2.5 0 1 0 -5.1 0zM697.5 351.5a2.5 2.5 0 1 0 5.1 0a2.5 2.5 0 1 0 -5.1 0zM722.3 357.3a2.5 2.5 0 1 0 5.1 0a2.5 2.5 0 1 0 -5.1 0zM726.2 357.3a2.5 2.5 0 1 0 5.1 0a2.5 2.5 0 1 0 -5.1 0z" fill="#74c0f8"/>
<path d="M525.3 195.4a2.5 2.5 0 1 0 5.1 0a2.5 2.5 0 1 0 -5.1 0zM534.9 209.6a2.5 2.5 0 1 0 5.1 0a2.5 2.5 0 1 0 -5.1 0zM544.1 223.5a2.5 2.5 0 1 0 5.1 0a2.5 2.5 0 1 0 -5.1 0zM544.1 216.1a2.5 2.5 0 1 0 5.1 0a2.5 2.5 0 1 0 -5.1 0zM552.8 237.2a2.5 2.5 0 1 0 5.1 0a2.5 2.5 0 1 0 -5.1 0zM552.8 229.9a2.5 2.5 0 1 0 5.1 0a2.5 2.5 0 1 0 -5.1 0zM561.3 243.7a2.5 2.5 0 1 0 5.1 0a2.5 2.5 0 1 0 -5.1 0zM569.4 257.3a2.5 2.5 0 1 0 5.1 0a2.5 2.5 0 1 0 -5.1 0zM577.2 263.7a2.5 2.5 0 1 0 5.1 0a2.5 2.5 0 1 0 -5.1 0zM584.7 270.1a2.5 2.5 0 1 0 5.1 0a2.5 2.5 0 1 0 -5.1 0zM592.0 283.5a2.5 2.5 0 1 0 5.1 0a2.5 2.5 0 1 0 -5.1 0zM599.1 289.8a2.5 2.5 0 1 0 5.1 0a2.5 2.5 0 1 0 -5.1 0zM605.9 296.2a2.5 2.5 0 1 0 5.1 0a2.5 2.5 0 1 0 -5.1 0zM612.5 302.6a2.5 2.5 0 1 0 5.1 0a2.5 2.5 0 1 0 -5.1 0zM625.2 308.6a2.5 2.5 0 1 0 5.1 0a2.5 2.5 0 1 0 -5.1 0zM631.2 314.9a2.5 2.5 0 1 0 5.1 0a2.5 2.5 0 1 0 -5.1 0zM637.1 321.2a2.5 2.5 0 1 0 5.1 0a2.5 2.5 0 1 0 -5.1 0zM648.4 327.2a2.5 2.5 0 1 0 5.1 0a2.5 2.5 0 1 0 -5.1 0zM659.2 333.3a2.5 2.5 0 1 0 5.1 0a2.5 2.5 0 1 0 -5.1 0zM669.4 339.4a2.5 2.5 0 1 0 5.1 0a2.5 2.5 0 1 0 -5.1 0zM674.4 339.3a2.5 2.5 0 1 0 5.1 0a2.5 2.5 0 1 0 -5.1 0zM683.9 345.4a2.5 2.5 0 1 0 5.1 0a2.5 2.5 0 1 0 -5.1 0zM688.5 345.3a2.5 2.5 0 1 0 5.1 0a2.5 2.5 0 1 0 -5.1 0zM693.1 345.3a2.5 2.5 0 1 0 5.1 0a2.5 2.5 0 1 0 -5.1 0zM706.1 351.3a2.5 2.5 0 1 0 5.1 0a2.5 2.5 0 1 0 -5.1 0zM710.3 351.3a2.5 2.5 0 1 0 5.1 0a2.5 2.5 0 1 0 -5.1 0zM714.4 351.2a2.5 2.5 0 1 0 5.1 0a2.5 2.5 0 1 0 -5.1 0zM718.4 351.2a2.5 2.5 0 1 0 5.1 0a2.5 2.5 0 1 0 -5.1 0zM722.3 351.2a2.5 2.5 0 1 0 5.1 0a2.5 2.5 0 1 0 -5.1 0zM737.4 357.2a2.5 2.5 0 1 0 5.1 0a2.5 2.5 0 1 0 -5.1 0zM741.1 357.2a2.5 2.5 0 1 0 5.1 0a2.5 2.5 0 1 0 -5.1 0z" fill="#78c0fc"/>
<path d="M534.9 386.2a2.5 2.5 0 1 0 5.1 0a2.5 2.5 0 1 0 -5.1 0zM544.1 390.9a2.5 2.5 0 1 0 5.1 0a2.5 2.5 0 1 0 -5.1 0zM561.3 395.5a2.5 2.5 0 1 0 5.1 0a2.5 2.5 0 1 0 -5.1 0zM599.1 409.5a2.5 2.5 0 1 0 5.1 0a2.5 2.5 0 1 0 -5.1 0zM612.5 414.1a2.5 2.5 0 1 0 5.1 0a2.5 2.5 0 1 0 -5.1 0zM642.8 423.5a2.5 2.5 0 1 0 5.1 0a2.5 2.5 0 1 0 -5.1 0zM659.2 428.1a2.5 2.5 0 1 0 5.1 0a2.5 2.5 0 1 0 -5.1 0zM679.2 432.8a2.5 2.5 0 1 0 5.1 0a2.5 2.5 0 1 0 -5.1 0zM697.5 437.4a2.5 2.5 0 1 0 5.1 0a2.5 2.5 0 1 0 -5.1 0zM718.4 442.1a2.5 2.5 0 1 0 5.1 0a2.5 2.5 0 1 0 -5.1 0zM741.1 446.7a2.5 2.5 0 1 0 5.1 0a2.5 2.5 0 1 0 -5.1 0z" fill="#080400"/>
<path d="M534.9 381.2a2.5 2.5 0 1 0 5.1 0a2.5 2.5 0 1 0 -5.1 0zM561.3 390.6a2.5 2.5 0 1 0 5.1 0a2.5 2.5 0 1 0 -5.1 0zM730.0 442.0a2.5 2.5 0 1 0 5.1 0a2.5 2.5 0 1 0 -5.1 0z" fill="#241400"/>
<path d="M534.9 370.9a2.5 2.5 0 1 0 5.1 0a2.5 2.5 0 1 0 -5.1 0zM710.3 432.5a2.5 2.5 0 1 0 5.1 0a2.5 2.5 0 1 0 -5.1 0z" fill="#684000"/>
<path d="M534.9 359.7a2.5 2.5 0 1 0 5.1 0a2.5 2.5 0 1 0 -5.1 0z" fill="#cc7c00"/>
<path d="M534.9 353.8a2.5 2.5 0 1 0 5.1 0a2.5 2.5 0 1 0 -5.1 0zM592.0 378.5a2.5 2.5 0 1 0 5.1 0a2.5 2.5 0 1 0 -5.1 0zM648.4 403.0a2.5 2.5 0 1 0 5.1 0a2.5 2.5 0 1 0 -5.1 0z" fill="#f49800"/>
<path d="M534.9 347.5a2.5 2.5 0 1 0 5.1 0a2.5 2.5 0 1 0 -5.1 0zM718.4 422.0a2.5 2.5 0 1 0 5.1 0a2.5 2.5 0 1 0 -5.1 0zM737.4 426.9a2.5 2.5 0 1 0 5.1 0a2.5 2.5 0 1 0 -5.1 0z" fill="#c4a410"/>
<path d="M534.9 334.1a2.5 2.5 0 1 0 5.1 0a2.5 2.5 0 1 0 -5.1 0zM584.7 360.4a2.5 2.5 0 1 0 5.1 0a2.5 2.5 0 1 0 -5.1 0z" fill="#58c038"/>
<path d="M534.9 327.0a2.5 2.5 0 1 0 5.1 0a2.5 2.5 0 1 0 -5.1 0zM552.8 337.9a2.5 2.5 0 1 0 5.1 0a2.5 2.5 0 1 0 -5.1 0z" fill="#34d068"/>
<path d="M534.9 319.7a2.5 2.5 0 1 0 5.1 0a2.5 2.5 0 1 0 -5.1 0zM561.3 336.4a2.5 2.5 0 1 0 5.1 0a2.5 2.5 0 1 0 -5.1 0zM697.5 400.3a2.5 2.5 0 1 0 5.1 0a2.5 2.5 0 1 0 -5.1 0z" fill="#1ce4ac"/>
<path d="M534.9 312.3a2.5 2.5 0 1 0 5.1 0a2.5 2.5 0 1 0 -5.1 0zM693.1 394.6a2.5 2.5 0 1 0 5.1 0a2.5 2.5 0 1 0 -5.1 0zM710.3 399.8a2.5 2.5 0 1 0 5.1 0a2.5 2.5 0 1 0 -5.1 0z" fill="#08f8f0"/>
<path d="M534.9 261.0a2.5 2.5 0 1 0 5.1 0a2.5 2.5 0 1 0 -5.1 0zM552.8 280.2a2.5 2.5 0 1 0 5.1 0a2.5 2.5 0 1 0 -5.1 0zM605.9 323.3a2.5 2.5 0 1 0 5.1 0a2.5 2.5 0 1 0 -5.1 0zM612.5 329.5a2.5 2.5 0 1 0 5.1 0a2.5 2.5 0 1 0 -5.1 0zM631.2 341.3a2.5 2.5 0 1 0 5.1 0a2.5 2.5 0 1 0 -5.1 0zM642.8 347.0a2.5 2.5 0 1 0 5.1 0a2.5 2.5 0 1 0 -5.1 0zM664.4 358.6a2.5 2.5 0 1 0 5.1 0a2.5 2.5 0 1 0 -5.1 0zM679.2 364.4a2.5 2.5 0 1 0 5.1 0a2.5 2.5 0 1 0 -5.1 0zM697.5 370.0a2.5 2.5 0 1 0 5.1 0a2.5 2.5 0 1 0 -5.1 0zM714.4 375.7a2.5 2.5 0 1 0 5.1 0a2.5 2.5 0 1 0 -5.1 0zM718.4 375.7a2.5 2.5 0 1 0 5.1 0a2.5 2.5 0 1 0 -5.1 0zM741.1 381.3a2.5 2.5 0 1 0 5.1 0a2.5 2.5 0 1 0 -5.1 0z" fill="#58d0f8"/>
<path d="M534.9 246.2a2.5 2.5 0 1 0 5.1 0a2.5 2.5 0 1 0 -5.1 0zM544.1 259.6a2.5 2.5 0 1 0 5.1 0a2.5 2.5 0 1 0 -5.1 0zM561.3 279.1a2.5 2.5 0 1 0 5.1 0a2.5 2.5 0 1 0 -5.1 0zM569.4 285.3a2.5 2.5 0 1 0 5.1 0a2.5 2.5 0 1 0 -5.1 0zM599.1 310.2a2.5 2.5 0 1 0 5.1 0a2.5 2.5 0 1 0 -5.1 0zM605.9 316.4a2.5 2.5 0 1 0 5.1 0a2.5 2.5 0 1 0 -5.1 0zM631.2 334.6a2.5 2.5 0 1 0 5.1 0a2.5 2.5 0 1 0 -5.1 0zM642.8 340.4a2.5 2.5 0 1 0 5.1 0a2.5 2.5 0 1 0 -5.1 0zM664.4 352.2a2.5 2.5 0 1 0 5.1 0a2.5 2.5 0 1 0 -5.1 0zM679.2 358.0a2.5 2.5 0 1 0 5.1 0a2.5 2.5 0 1 0 -5.1 0zM693.1 363.9a2.5 2.5 0 1 0 5.1 0a2.5 2.5 0 1 0 -5.1 0zM697.5 363.8a2.5 2.5 0 1 0 5.1 0a2.5 2.5 0 1 0 -5.1 0zM714.4 369.6a2.5 2.5 0 1 0 5.1 0a2.5 2.5 0 1 0 -5.1 0zM718.4 369.5a2.5 2.5 0 1 0 5.1 0a2.5 2.5 0 1 0 -5.1 0z" fill="#64c8f8"/>
<path d="M534.9 202.0a2.5 2.5 0 1 0 5.1 0a2.5 2.5 0 1 0 -5.1 0zM561.3 236.5a2.5 2.5 0 1 0 5.1 0a2.5 2.5 0 1 0 -5.1 0zM569.4 250.2a2.5 2.5 0 1 0 5.1 0a2.5 2.5 0 1 0 -5.1 0zM577.2 256.6a2.5 2.5 0 1 0 5.1 0a2.5 2.5 0 1 0 -5.1 0zM592.0 276.6a2.5 2.5 0 1 0 5.1 0a2.5 2.5 0 1 0 -5.1 0zM599.1 283.0a2.5 2.5 0 1 0 5.1 0a2.5 2.5 0 1 0 -5.1 0zM605.9 289.4a2.5 2.5 0 1 0 5.1 0a2.5 2.5 0 1 0 -5.1 0zM612.5 295.8a2.5 2.5 0 1 0 5.1 0a2.5 2.5 0 1 0 -5.1 0zM618.9 302.2a2.5 2.5 0 1 0 5.1 0a2.5 2.5 0 1 0 -5.1 0zM642.8 320.9a2.5 2.5 0 1 0 5.1 0a2.5 2.5 0 1 0 -5.1 0zM653.9 327.0a2.5 2.5 0 1 0 5.1 0a2.5 2.5 0 1 0 -5.1 0zM664.4 333.1a2.5 2.5 0 1 0 5.1 0a2.5 2.5 0 1 0 -5.1 0zM679.2 339.2a2.5 2.5 0 1 0 5.1 0a2.5 2.5 0 1 0 -5.1 0zM697.5 345.2a2.5 2.5 0 1 0 5.1 0a2.5 2.5 0 1 0 -5.1 0zM701.9 345.1a2.5 2.5 0 1 0 5.1 0a2.5 2.5 0 1 0 -5.1 0zM726.2 351.1a2.5 2.5 0 1 0 5.1 0a2.5 2.5 0 1 0 -5.1 0zM730.0 351.1a2.5 2.5 0 1 0 5.1 0a2.5 2.5 0 1 0 -5.1 0zM733.8 351.1a2.5 2.5 0 1 0 5.1 0a2.5 2.5 0 1 0 -5.1 0zM737.4 351.1a2.5 2.5 0 1 0 5.1 0a2.5 2.5 0 1 0 -5.1 0z" fill="#7cc0fc"/>
<path d="M534.9 194.3a2.5 2.5 0 1 0 5.1 0a2.5 2.5 0 1 0 -5.1 0zM544.1 208.6a2.5 2.5 0 1 0 5.1 0a2.5 2.5 0 1 0 -5.1 0zM552.8 222.6a2.5 2.5 0 1 0 5.1 0a2.5 2.5 0 1 0 -5.1 0zM569.4 243.0a2.5 2.5 0 1 0 5.1 0a2.5 2.5 0 1 0 -5.1 0zM584.7 263.1a2.5 2.5 0 1 0 5.1 0a2.5 2.5 0 1 0 -5.1 0zM631.2 308.2a2.5 2.5 0 1 0 5.1 0a2.5 2.5 0 1 0 -5.1 0zM637.1 314.6a2.5 2.5 0 1 0 5.1 0a2.5 2.5 0 1 0 -5.1 0zM648.4 320.7a2.5 2.5 0 1 0 5.1 0a2.5 2.5 0 1 0 -5.1 0zM669.4 333.0a2.5 2.5 0 1 0 5.1 0a2.5 2.5 0 1 0 -5.1 0zM683.9 339.1a2.5 2.5 0 1 0 5.1 0a2.5 2.5 0 1 0 -5.1 0zM688.5 339.0a2.5 2.5 0 1 0 5.1 0a2.5 2.5 0 1 0 -5.1 0zM706.1 345.1a2.5 2.5 0 1 0 5.1 0a2.5 2.5 0 1 0 -5.1 0zM710.3 345.0a2.5 2.5 0 1 0 5.1 0a2.5 2.5 0 1 0 -5.1 0zM741.1 351.1a2.5 2.5 0 1 0 5.1 0a2.5 2.5 0 1 0 -5.1 0z" fill="#7cbcfc"/>
<path d="M544.1 380.9a2.5 2.5 0 1 0 5.1 0a2.5 2.5 0 1 0 -5.1 0z" fill="#402800"/>
<path d="M544.1 364.8a2.5 2.5 0 1 0 5.1 0a2.5 2.5 0 1 0 -5.1 0zM664.4 413.1a2.5 2.5 0 1 0 5.1 0a2.5 2.5 0 1 0 -5.1 0z" fill="#c07400"/>
<path d="M544.1 339.4a2.5 2.5 0 1 0 5.1 0a2.5 2.5 0 1 0 -5.1 0z" fill="#5cc038"/>
<path d="M544.1 317.8a2.5 2.5 0 1 0 5.1 0a2.5 2.5 0 1 0 -5.1 0zM552.8 323.4a2.5 2.5 0 1 0 5.1 0a2.5 2.5 0 1 0 -5.1 0zM561.3 329.1a2.5 2.5 0 1 0 5.1 0a2.5 2.5 0 1 0 -5.1 0zM679.2 389.2a2.5 2.5 0 1 0 5.1 0a2.5 2.5 0 1 0 -5.1 0z" fill="#08f4f4"/>
<path d="M544.1 201.0a2.5 2.5 0 1 0 5.1 0a2.5 2.5 0 1 0 -5.1 0zM552.8 215.2a2.5 2.5 0 1 0 5.1 0a2.5 2.5 0 1 0 -5.1 0zM552.8 207.7a2.5 2.5 0 1 0 5.1 0a2.5 2.5 0 1 0 -5.1 0zM561.3 229.2a2.5 2.5 0 1 0 5.1 0a2.5 2.5 0 1 0 -5.1 0zM561.3 221.8a2.5 2.5 0 1 0 5.1 0a2.5 2.5 0 1 0 -5.1 0zM569.4 235.7a2.5 2.5 0 1 0 5.1 0a2.5 2.5 0 1 0 -5.1 0zM577.2 249.5a2.5 2.5 0 1 0 5.1 0a2.5 2.5 0 1 0 -5.1 0zM584.7 256.0a2.5 2.5 0 1 0 5.1 0a2.5 2.5 0 1 0 -5.1 0zM592.0 269.6a2.5 2.5 0 1 0 5.1 0a2.5 2.5 0 1 0 -5.1 0zM592.0 262.6a2.5 2.5 0 1 0 5.1 0a2.5 2.5 0 1 0 -5.1 0zM599.1 276.1a2.5 2.5 0 1 0 5.1 0a2.5 2.5 0 1 0 -5.1 0zM605.9 282.5a2.5 2.5 0 1 0 5.1 0a2.5 2.5 0 1 0 -5.1 0zM612.5 289.0a2.5 2.5 0 1 0 5.1 0a2.5 2.5 0 1 0 -5.1 0zM618.9 295.4a2.5 2.5 0 1 0 5.1 0a2.5 2.5 0 1 0 -5.1 0zM625.2 301.8a2.5 2.5 0 1 0 5.1 0a2.5 2.5 0 1 0 -5.1 0zM637.1 307.9a2.5 2.5 0 1 0 5.1 0a2.5 2.5 0 1 0 -5.1 0zM642.8 314.3a2.5 2.5 0 1 0 5.1 0a2.5 2.5 0 1 0 -5.1 0zM653.9 320.4a2.5 2.5 0 1 0 5.1 0a2.5 2.5 0 1 0 -5.1 0zM659.2 326.8a2.5 2.5 0 1 0 5.1 0a2.5 2.5 0 1 0 -5.1 0zM664.4 326.6a2.5 2.5 0 1 0 5.1 0a2.5 2.5 0 1 0 -5.1 0zM674.4 332.9a2.5 2.5 0 1 0 5.1 0a2.5 2.5 0 1 0 -5.1 0zM679.2 332.8a2.5 2.5 0 1 0 5.1 0a2.5 2.5 0 1 0 -5.1 0zM683.9 332.7a2.5 2.5 0 1 0 5.1 0a2.5 2.5 0 1 0 -5.1 0zM693.1 338.9a2.5 2.5 0 1 0 5.1 0a2.5 2.5 0 1 0 -5.1 0zM697.5 338.9a2.5 2.5 0 1 0 5.1 0a2.5 2.5 0 1 0 -5.1 0zM701.9 338.8a2.5 2.5 0 1 0 5.1 0a2.5 2.5 0 1 0 -5.1 0zM706.1 338.8a2.5 2.5 0 1 0 5.1 0a2.5 2.5 0 1 0 -5.1 0zM714.4 345.0a2.5 2.5 0 1 0 5.1 0a2.5 2.5 0 1 0 -5.1 0zM718.4 345.0a2.5 2.5 0 1 0 5.1 0a2.5 2.5 0 1 0 -5.1 0zM722.3 344.9a2.5 2.5 0 1 0 5.1 0a2.5 2.5 0 1 0 -5.1 0zM726.2 344.9a2.5 2.5 0 1 0 5.1 0a2.5 2.5 0 1 0 -5.1 0zM730.0 344.9a2.5 2.5 0 1 0 5.1 0a2.5 2.5 0 1 0 -5.1 0zM733.8 344.9a2.5 2.5 0 1 0 5.1 0a2.5 2.5 0 1 0 -5.1 0zM737.4 344.8a2.5 2.5 0 1 0 5.1 0a2.5 2.5 0 1 0 -5.1 0zM741.1 344.8a2.5 2.5 0 1 0 5.1 0a2.5 2.5 0 1 0 -5.1 0z" fill="#80bcfc"/>
<path d="M544.1 193.3a2.5 2.5 0 1 0 5.1 0a2.5 2.5 0 1 0 -5.1 0zM569.4 228.4a2.5 2.5 0 1 0 5.1 0a2.5 2.5 0 1 0 -5.1 0zM577.2 242.3a2.5 2.5 0 1 0 5.1 0a2.5 2.5 0 1 0 -5.1 0zM584.7 248.9a2.5 2.5 0 1 0 5.1 0a2.5 2.5 0 1 0 -5.1 0zM599.1 269.1a2.5 2.5 0 1 0 5.1 0a2.5 2.5 0 1 0 -5.1 0zM605.9 275.6a2.5 2.5 0 1 0 5.1 0a2.5 2.5 0 1 0 -5.1 0zM612.5 282.1a2.5 2.5 0 1 0 5.1 0a2.5 2.5 0 1 0 -5.1 0zM618.9 288.5a2.5 2.5 0 1 0 5.1 0a2.5 2.5 0 1 0 -5.1 0zM625.2 295.0a2.5 2.5 0 1 0 5.1 0a2.5 2.5 0 1 0 -5.1 0zM631.2 301.5a2.5 2.5 0 1 0 5.1 0a2.5 2.5 0 1 0 -5.1 0zM648.4 314.0a2.5 2.5 0 1 0 5.1 0a2.5 2.5 0 1 0 -5.1 0zM669.4 326.5a2.5 2.5 0 1 0 5.1 0a2.5 2.5 0 1 0 -5.1 0zM688.5 332.6a2.5 2.5 0 1 0 5.1 0a2.5 2.5 0 1 0 -5.1 0zM710.3 338.7a2.5 2.5 0 1 0 5.1 0a2.5 2.5 0 1 0 -5.1 0zM714.4 338.7a2.5 2.5 0 1 0 5.1 0a2.5 2.5 0 1 0 -5.1 0zM718.4 338.6a2.5 2.5 0 1 0 5.1 0a2.5 2.5 0 1 0 -5.1 0z" fill="#84bcfc"/>
<path d="M552.8 385.7a2.5 2.5 0 1 0 5.1 0a2.5 2.5 0 1 0 -5.1 0zM605.9 404.5a2.5 2.5 0 1 0 5.1 0a2.5 2.5 0 1 0 -5.1 0z" fill="#341c00"/>
<path d="M552.8 364.1a2.5 2.5 0 1 0 5.1 0a2.5 2.5 0 1 0 -5.1 0z" fill="#f49000"/>
<path d="M552.8 358.0a2.5 2.5 0 1 0 5.1 0a2.5 2.5 0 1 0 -5.1 0zM618.9 387.9a2.5 2.5 0 1 0 5.1 0a2.5 2.5 0 1 0 -5.1 0zM733.8 427.0a2.5 2.5 0 1 0 5.1 0a2.5 2.5 0 1 0 -5.1 0z" fill="#d4a40c"/>
<path d="M552.8 244.4a2.5 2.5 0 1 0 5.1 0a2.5 2.5 0 1 0 -5.1 0zM569.4 264.3a2.5 2.5 0 1 0 5.1 0a2.5 2.5 0 1 0 -5.1 0zM599.1 296.6a2.5 2.5 0 1 0 5.1 0a2.5 2.5 0 1 0 -5.1 0zM631.2 321.5a2.5 2.5 0 1 0 5.1 0a2.5 2.5 0 1 0 -5.1 0zM659.2 339.7a2.5 2.5 0 1 0 5.1 0a2.5 2.5 0 1 0 -5.1 0zM674.4 345.6a2.5 2.5 0 1 0 5.1 0a2.5 2.5 0 1 0 -5.1 0zM693.1 351.5a2.5 2.5 0 1 0 5.1 0a2.5 2.5 0 1 0 -5.1 0zM714.4 357.4a2.5 2.5 0 1 0 5.1 0a2.5 2.5 0 1 0 -5.1 0zM718.4 357.4a2.5 2.5 0 1 0 5.1 0a2.5 2.5 0 1 0 -5.1 0z" fill="#74c4f8"/>
<path d="M552.8 200.1a2.5 2.5 0 1 0 5.1 0a2.5 2.5 0 1 0 -5.1 0zM561.3 214.4a2.5 2.5 0 1 0 5.1 0a2.5 2.5 0 1 0 -5.1 0zM577.2 235.0a2.5 2.5 0 1 0 5.1 0a2.5 2.5 0 1 0 -5.1 0zM592.0 255.5a2.5 2.5 0 1 0 5.1 0a2.5 2.5 0 1 0 -5.1 0zM599.1 262.1a2.5 2.5 0 1 0 5.1 0a2.5 2.5 0 1 0 -5.1 0zM642.8 307.6a2.5 2.5 0 1 0 5.1 0a2.5 2.5 0 1 0 -5.1 0zM659.2 320.2a2.5 2.5 0 1 0 5.1 0a2.5 2.5 0 1 0 -5.1 0zM674.4 326.4a2.5 2.5 0 1 0 5.1 0a2.5 2.5 0 1 0 -5.1 0zM679.2 326.3a2.5 2.5 0 1 0 5.1 0a2.5 2.5 0 1 0 -5.1 0zM693.1 332.5a2.5 2.5 0 1 0 5.1 0a2.5 2.5 0 1 0 -5.1 0zM697.5 332.5a2.5 2.5 0 1 0 5.1 0a2.5 2.5 0 1 0 -5.1 0zM722.3 338.6a2.5 2.5 0 1 0 5.1 0a2.5 2.5 0 1 0 -5.1 0zM726.2 338.6a2.5 2.5 0 1 0 5.1 0a2.5 2.5 0 1 0 -5.1 0zM730.0 338.6a2.5 2.5 0 1 0 5.1 0a2.5 2.5 0 1 0 -5.1 0zM733.8 338.6a2.5 2.5 0 1 0 5.1 0a2.5 2.5 0 1 0 -5.1 0zM737.4 338.5a2.5 2.5 0 1 0 5.1 0a2.5 2.5 0 1 0 -5.1 0zM741.1 338.5a2.5 2.5 0 1 0 5.1 0a2.5 2.5 0 1 0 -5.1 0z" fill="#84b8fc"/>
<path d="M552.8 192.4a2.5 2.5 0 1 0 5.1 0a2.5 2.5 0 1 0 -5.1 0zM561.3 206.9a2.5 2.5 0 1 0 5.1 0a2.5 2.5 0 1 0 -5.1 0zM561.3 199.4a2.5 2.5 0 1 0 5.1 0a2.5 2.5 0 1 0 -5.1 0zM569.4 221.1a2.5 2.5 0 1 0 5.1 0a2.5 2.5 0 1 0 -5.1 0zM569.4 213.7a2.5 2.5 0 1 0 5.1 0a2.5 2.5 0 1 0 -5.1 0zM569.4 206.4a2.5 2.5 0 1 0 5.1 0a2.5 2.5 0 1 0 -5.1 0zM577.2 227.8a2.5 2.5 0 1 0 5.1 0a2.5 2.5 0 1 0 -5.1 0zM577.2 220.5a2.5 2.5 0 1 0 5.1 0a2.5 2.5 0 1 0 -5.1 0zM584.7 241.7a2.5 2.5 0 1 0 5.1 0a2.5 2.5 0 1 0 -5.1 0zM584.7 234.5a2.5 2.5 0 1 0 5.1 0a2.5 2.5 0 1 0 -5.1 0zM592.0 248.4a2.5 2.5 0 1 0 5.1 0a2.5 2.5 0 1 0 -5.1 0zM592.0 241.3a2.5 2.5 0 1 0 5.1 0a2.5 2.5 0 1 0 -5.1 0zM599.1 255.0a2.5 2.5 0 1 0 5.1 0a2.5 2.5 0 1 0 -5.1 0zM605.9 268.6a2.5 2.5 0 1 0 5.1 0a2.5 2.5 0 1 0 -5.1 0zM605.9 261.7a2.5 2.5 0 1 0 5.1 0a2.5 2.5 0 1 0 -5.1 0zM612.5 275.2a2.5 2.5 0 1 0 5.1 0a2.5 2.5 0 1 0 -5.1 0zM612.5 268.3a2.5 2.5 0 1 0 5.1 0a2.5 2.5 0 1 0 -5.1 0zM618.9 281.7a2.5 2.5 0 1 0 5.1 0a2.5 2.5 0 1 0 -5.1 0zM618.9 274.9a2.5 2.5 0 1 0 5.1 0a2.5 2.5 0 1 0 -5.1 0zM625.2 288.2a2.5 2.5 0 1 0 5.1 0a2.5 2.5 0 1 0 -5.1 0zM625.2 281.4a2.5 2.5 0 1 0 5.1 0a2.5 2.5 0 1 0 -5.1 0zM631.2 294.7a2.5 2.5 0 1 0 5.1 0a2.5 2.5 0 1 0 -5.1 0zM631.2 288.0a2.5 2.5 0 1 0 5.1 0a2.5 2.5 0 1 0 -5.1 0zM637.1 301.2a2.5 2.5 0 1 0 5.1 0a2.5 2.5 0 1 0 -5.1 0zM637.1 294.5a2.5 2.5 0 1 0 5.1 0a2.5 2.5 0 1 0 -5.1 0zM642.8 300.9a2.5 2.5 0 1 0 5.1 0a2.5 2.5 0 1 0 -5.1 0zM648.4 307.4a2.5 2.5 0 1 0 5.1 0a2.5 2.5 0 1 0 -5.1 0zM653.9 313.8a2.5 2.5 0 1 0 5.1 0a2.5 2.5 0 1 0 -5.1 0zM659.2 313.6a2.5 2.5 0 1 0 5.1 0a2.5 2.5 0 1 0 -5.1 0zM664.4 320.1a2.5 2.5 0 1 0 5.1 0a2.5 2.5 0 1 0 -5.1 0zM664.4 313.5a2.5 2.5 0 1 0 5.1 0a2.5 2.5 0 1 0 -5.1 0zM669.4 320.0a2.5 2.5 0 1 0 5.1 0a2.5 2.5 0 1 0 -5.1 0zM674.4 319.9a2.5 2.5 0 1 0 5.1 0a2.5 2.5 0 1 0 -5.1 0zM679.2 319.8a2.5 2.5 0 1 0 5.1 0a2.5 2.5 0 1 0 -5.1 0zM683.9 326.2a2.5 2.5 0 1 0 5.1 0a2.5 2.5 0 1 0 -5.1 0zM688.5 326.2a2.5 2.5 0 1 0 5.1 0a2.5 2.5 0 1 0 -5.1 0zM693.1 326.1a2.5 2.5 0 1 0 5.1 0a2.5 2.5 0 1 0 -5.1 0zM697.5 326.1a2.5 2.5 0 1 0 5.1 0a2.5 2.5 0 1 0 -5.1 0zM701.9 332.4a2.5 2.5 0 1 0 5.1 0a2.5 2.5 0 1 0 -5.1 0zM701.9 326.0a2.5 2.5 0 1 0 5.1 0a2.5 2.5 0 1 0 -5.1 0zM706.1 332.4a2.5 2.5 0 1 0 5.1 0a2.5 2.5 0 1 0 -5.1 0zM710.3 332.3a2.5 2.5 0 1 0 5.1 0a2.5 2.5 0 1 0 -5.1 0zM714.4 332.3a2.5 2.5 0 1 0 5.1 0a2.5 2.5 0 1 0 -5.1 0zM718.4 332.3a2.5 2.5 0 1 0 5.1 0a2.5 2.5 0 1 0 -5.1 0zM722.3 332.3a2.5 2.5 0 1 0 5.1 0a2.5 2.5 0 1 0 -5.1 0zM726.2 332.3a2.5 2.5 0 1 0 5.1 0a2.5 2.5 0 1 0 -5.1 0zM730.0 332.2a2.5 2.5 0 1 0 5.1 0a2.5 2.5 0 1 0 -5.1 0zM733.8 332.2a2.5 2.5 0 1 0 5.1 0a2.5 2.5 0 1 0 -5.1 0zM737.4 332.2a2.5 2.5 0 1 0 5.1 0a2.5 2.5 0 1 0 -5.1 0zM741.1 332.2a2.5 2.5 0 1 0 5.1 0a2.5 2.5 0 1 0 -5.1 0z" fill="#88b8fc"/>
<path d="M561.3 369.2a2.5 2.5 0 1 0 5.1 0a2.5 2.5 0 1 0 -5.1 0zM669.4 412.9a2.5 2.5 0 1 0 5.1 0a2.5 2.5 0 1 0 -5.1 0z" fill="#e08800"/>
<path d="M561.3 363.3a2.5 2.5 0 1 0 5.1 0a2.5 2.5 0 1 0 -5.1 0zM605.9 383.1a2.5 2.5 0 1 0 5.1 0a2.5 2.5 0 1 0 -5.1 0zM730.0 427.0a2.5 2.5 0 1 0 5.1 0a2.5 2.5 0 1 0 -5.1 0z" fill="#e0a008"/>
<path d="M561.3 357.0a2.5 2.5 0 1 0 5.1 0a2.5 2.5 0 1 0 -5.1 0zM637.1 392.3a2.5 2.5 0 1 0 5.1 0a2.5 2.5 0 1 0 -5.1 0z" fill="#a8ac1c"/>
<path d="M561.3 350.3a2.5 2.5 0 1 0 5.1 0a2.5 2.5 0 1 0 -5.1 0zM741.1 421.5a2.5 2.5 0 1 0 5.1 0a2.5 2.5 0 1 0 -5.1 0z" fill="#68bc30"/>
<path d="M561.3 293.4a2.5 2.5 0 1 0 5.1 0a2.5 2.5 0 1 0 -5.1 0z" fill="#54d4f8"/>
<path d="M561.3 250.8a2.5 2.5 0 1 0 5.1 0a2.5 2.5 0 1 0 -5.1 0zM584.7 277.1a2.5 2.5 0 1 0 5.1 0a2.5 2.5 0 1 0 -5.1 0zM618.9 308.9a2.5 2.5 0 1 0 5.1 0a2.5 2.5 0 1 0 -5.1 0zM653.9 333.5a2.5 2.5 0 1 0 5.1 0a2.5 2.5 0 1 0 -5.1 0zM701.9 351.4a2.5 2.5 0 1 0 5.1 0a2.5 2.5 0 1 0 -5.1 0zM730.0 357.3a2.5 2.5 0 1 0 5.1 0a2.5 2.5 0 1 0 -5.1 0zM733.8 357.3a2.5 2.5 0 1 0 5.1 0a2.5 2.5 0 1 0 -5.1 0z" fill="#74c0fc"/>
<path d="M561.3 191.9a2.5 2.5 0 1 0 5.1 0a2.5 2.5 0 1 0 -5.1 0zM569.4 198.8a2.5 2.5 0 1 0 5.1 0a2.5 2.5 0 1 0 -5.1 0zM577.2 213.2a2.5 2.5 0 1 0 5.1 0a2.5 2.5 0 1 0 -5.1 0zM584.7 227.4a2.5 2.5 0 1 0 5.1 0a2.5 2.5 0 1 0 -5.1 0zM592.0 234.1a2.5 2.5 0 1 0 5.1 0a2.5 2.5 0 1 0 -5.1 0zM599.1 248.0a2.5 2.5 0 1 0 5.1 0a2.5 2.5 0 1 0 -5.1 0zM605.9 254.7a2.5 2.5 0 1 0 5.1 0a2.5 2.5 0 1 0 -5.1 0zM612.5 261.3a2.5 2.5 0 1 0 5.1 0a2.5 2.5 0 1 0 -5.1 0zM618.9 268.0a2.5 2.5 0 1 0 5.1 0a2.5 2.5 0 1 0 -5.1 0zM642.8 294.2a2.5 2.5 0 1 0 5.1 0a2.5 2.5 0 1 0 -5.1 0zM648.4 300.7a2.5 2.5 0 1 0 5.1 0a2.5 2.5 0 1 0 -5.1 0zM653.9 307.2a2.5 2.5 0 1 0 5.1 0a2.5 2.5 0 1 0 -5.1 0zM659.2 307.0a2.5 2.5 0 1 0 5.1 0a2.5 2.5 0 1 0 -5.1 0zM669.4 313.5a2.5 2.5 0 1 0 5.1 0a2.5 2.5 0 1 0 -5.1 0zM674.4 313.4a2.5 2.5 0 1 0 5.1 0a2.5 2.5 0 1 0 -5.1 0zM683.9 319.8a2.5 2.5 0 1 0 5.1 0a2.5 2.5 0 1 0 -5.1 0zM688.5 319.7a2.5 2.5 0 1 0 5.1 0a2.5 2.5 0 1 0 -5.1 0zM693.1 319.7a2.5 2.5 0 1 0 5.1 0a2.5 2.5 0 1 0 -5.1 0zM706.1 326.0a2.5 2.5 0 1 0 5.1 0a2.5 2.5 0 1 0 -5.1 0zM710.3 326.0a2.5 2.5 0 1 0 5.1 0a2.5 2.5 0 1 0 -5.1 0zM714.4 326.0a2.5 2.5 0 1 0 5.1 0a2.5 2.5 0 1 0 -5.1 0zM718.4 325.9a2.5 2.5 0 1 0 5.1 0a2.5 2.5 0 1 0 -5.1 0zM722.3 325.9a2.5 2.5 0 1 0 5.1 0a2.5 2.5 0 1 0 -5.1 0zM726.2 325.9a2.5 2.5 0 1 0 5.1 0a2.5 2.5 0 1 0 -5.1 0zM730.0 325.9a2.5 2.5 0 1 0 5.1 0a2.5 2.5 0 1 0 -5.1 0zM733.8 325.9a2.5 2.5 0 1 0 5.1 0a2.5 2.5 0 1 0 -5.1 0zM737.4 325.9a2.5 2.5 0 1 0 5.1 0a2.5 2.5 0 1 0 -5.1 0zM741.1 325.9a2.5 2.5 0 1 0 5.1 0a2.5 2.5 0 1 0 -5.1 0z" fill="#8cb8fc"/>
<path d="M569.4 400.2a2.5 2.5 0 1 0 5.1 0a2.5 2.5 0 1 0 -5.1 0zM584.7 404.8a2.5 2.5 0 1 0 5.1 0a2.5 2.5 0 1 0 -5.1 0zM625.2 418.8a2.5 2.5 0 1 0 5.1 0a2.5 2.5 0 1 0 -5.1 0z" fill="#040400"/>
<path d="M569.4 380.0a2.5 2.5 0 1 0 5.1 0a2.5 2.5 0 1 0 -5.1 0zM605.9 394.3a2.5 2.5 0 1 0 5.1 0a2.5 2.5 0 1 0 -5.1 0zM669.4 418.1a2.5 2.5 0 1 0 5.1 0a2.5 2.5 0 1 0 -5.1 0z" fill="#8c5400"/>
<path d="M569.4 374.4a2.5 2.5 0 1 0 5.1 0a2.5 2.5 0 1 0 -5.1 0z" fill="#cc7800"/>
<path d="M569.4 362.4a2.5 2.5 0 1 0 5.1 0a2.5 2.5 0 1 0 -5.1 0zM592.0 372.5a2.5 2.5 0 1 0 5.1 0a2.5 2.5 0 1 0 -5.1 0zM612.5 382.5a2.5 2.5 0 1 0 5.1 0a2.5 2.5 0 1 0 -5.1 0zM674.4 407.3a2.5 2.5 0 1 0 5.1 0a2.5 2.5 0 1 0 -5.1 0zM722.3 421.9a2.5 2.5 0 1 0 5.1 0a2.5 2.5 0 1 0 -5.1 0z" fill="#b4a818"/>
<path d="M569.4 355.9a2.5 2.5 0 1 0 5.1 0a2.5 2.5 0 1 0 -5.1 0zM718.4 416.6a2.5 2.5 0 1 0 5.1 0a2.5 2.5 0 1 0 -5.1 0zM737.4 421.6a2.5 2.5 0 1 0 5.1 0a2.5 2.5 0 1 0 -5.1 0z" fill="#74b82c"/>
<path d="M569.4 191.2a2.5 2.5 0 1 0 5.1 0a2.5 2.5 0 1 0 -5.1 0zM577.2 198.1a2.5 2.5 0 1 0 5.1 0a2.5 2.5 0 1 0 -5.1 0zM584.7 212.6a2.5 2.5 0 1 0 5.1 0a2.5 2.5 0 1 0 -5.1 0zM584.7 205.1a2.5 2.5 0 1 0 5.1 0a2.5 2.5 0 1 0 -5.1 0zM592.0 219.4a2.5 2.5 0 1 0 5.1 0a2.5 2.5 0 1 0 -5.1 0zM599.1 233.6a2.5 2.5 0 1 0 5.1 0a2.5 2.5 0 1 0 -5.1 0zM605.9 240.3a2.5 2.5 0 1 0 5.1 0a2.5 2.5 0 1 0 -5.1 0zM612.5 254.3a2.5 2.5 0 1 0 5.1 0a2.5 2.5 0 1 0 -5.1 0zM612.5 247.0a2.5 2.5 0 1 0 5.1 0a2.5 2.5 0 1 0 -5.1 0zM618.9 260.9a2.5 2.5 0 1 0 5.1 0a2.5 2.5 0 1 0 -5.1 0zM625.2 267.6a2.5 2.5 0 1 0 5.1 0a2.5 2.5 0 1 0 -5.1 0zM631.2 274.2a2.5 2.5 0 1 0 5.1 0a2.5 2.5 0 1 0 -5.1 0zM637.1 280.8a2.5 2.5 0 1 0 5.1 0a2.5 2.5 0 1 0 -5.1 0zM642.8 287.4a2.5 2.5 0 1 0 5.1 0a2.5 2.5 0 1 0 -5.1 0zM648.4 293.9a2.5 2.5 0 1 0 5.1 0a2.5 2.5 0 1 0 -5.1 0zM653.9 300.5a2.5 2.5 0 1 0 5.1 0a2.5 2.5 0 1 0 -5.1 0zM659.2 300.2a2.5 2.5 0 1 0 5.1 0a2.5 2.5 0 1 0 -5.1 0zM669.4 306.8a2.5 2.5 0 1 0 5.1 0a2.5 2.5 0 1 0 -5.1 0zM674.4 306.7a2.5 2.5 0 1 0 5.1 0a2.5 2.5 0 1 0 -5.1 0zM679.2 306.6a2.5 2.5 0 1 0 5.1 0a2.5 2.5 0 1 0 -5.1 0zM683.9 313.2a2.5 2.5 0 1 0 5.1 0a2.5 2.5 0 1 0 -5.1 0zM688.5 313.1a2.5 2.5 0 1 0 5.1 0a2.5 2.5 0 1 0 -5.1 0zM693.1 313.1a2.5 2.5 0 1 0 5.1 0a2.5 2.5 0 1 0 -5.1 0zM697.5 313.0a2.5 2.5 0 1 0 5.1 0a2.5 2.5 0 1 0 -5.1 0zM701.9 312.9a2.5 2.5 0 1 0 5.1 0a2.5 2.5 0 1 0 -5.1 0zM710.3 319.5a2.5 2.5 0 1 0 5.1 0a2.5 2.5 0 1 0 -5.1 0zM714.4 319.5a2.5 2.5 0 1 0 5.1 0a2.5 2.5 0 1 0 -5.1 0zM718.4 319.4a2.5 2.5 0 1 0 5.1 0a2.5 2.5 0 1 0 -5.1 0zM722.3 319.4a2.5 2.5 0 1 0 5.1 0a2.5 2.5 0 1 0 -5.1 0zM726.2 319.4a2.5 2.5 0 1 0 5.1 0a2.5 2.5 0 1 0 -5.1 0zM730.0 319.4a2.5 2.5 0 1 0 5.1 0a2.5 2.5 0 1 0 -5.1 0zM733.8 319.4a2.5 2.5 0 1 0 5.1 0a2.5 2.5 0 1 0 -5.1 0zM737.4 319.4a2.5 2.5 0 1 0 5.1 0a2.5 2.5 0 1 0 -5.1 0zM741.1 319.4a2.5 2.5 0 1 0 5.1 0a2.5 2.5 0 1 0 -5.1 0z" fill="#90b4fc"/>
<path d="M577.2 385.0a2.5 2.5 0 1 0 5.1 0a2.5 2.5 0 1 0 -5.1 0zM625.2 404.0a2.5 2.5 0 1 0 5.1 0a2.5 2.5 0 1 0 -5.1 0zM697.5 427.7a2.5 2.5 0 1 0 5.1 0a2.5 2.5 0 1 0 -5.1 0zM714.4 432.4a2.5 2.5 0 1 0 5.1 0a2.5 2.5 0 1 0 -5.1 0zM733.8 437.1a2.5 2.5 0 1 0 5.1 0a2.5 2.5 0 1 0 -5.1 0z" fill="#784800"/>
<path d="M577.2 354.7a2.5 2.5 0 1 0 5.1 0a2.5 2.5 0 1 0 -5.1 0z" fill="#44c43c"/>
<path d="M577.2 347.8a2.5 2.5 0 1 0 5.1 0a2.5 2.5 0 1 0 -5.1 0z" fill="#24dc94"/>
<path d="M577.2 340.6a2.5 2.5 0 1 0 5.1 0a2.5 2.5 0 1 0 -5.1 0z" fill="#08f4e8"/>
<path d="M577.2 205.8a2.5 2.5 0 1 0 5.1 0a2.5 2.5 0 1 0 -5.1 0zM584.7 220.0a2.5 2.5 0 1 0 5.1 0a2.5 2.5 0 1 0 -5.1 0zM592.0 226.8a2.5 2.5 0 1 0 5.1 0a2.5 2.5 0 1 0 -5.1 0zM599.1 240.9a2.5 2.5 0 1 0 5.1 0a2.5 2.5 0 1 0 -5.1 0zM605.9 247.6a2.5 2.5 0 1 0 5.1 0a2.5 2.5 0 1 0 -5.1 0zM625.2 274.6a2.5 2.5 0 1 0 5.1 0a2.5 2.5 0 1 0 -5.1 0zM631.2 281.2a2.5 2.5 0 1 0 5.1 0a2.5 2.5 0 1 0 -5.1 0zM637.1 287.7a2.5 2.5 0 1 0 5.1 0a2.5 2.5 0 1 0 -5.1 0zM664.4 306.9a2.5 2.5 0 1 0 5.1 0a2.5 2.5 0 1 0 -5.1 0zM679.2 313.3a2.5 2.5 0 1 0 5.1 0a2.5 2.5 0 1 0 -5.1 0zM697.5 319.6a2.5 2.5 0 1 0 5.1 0a2.5 2.5 0 1 0 -5.1 0zM701.9 319.6a2.5 2.5 0 1 0 5.1 0a2.5 2.5 0 1 0 -5.1 0zM706.1 319.5a2.5 2.5 0 1 0 5.1 0a2.5 2.5 0 1 0 -5.1 0z" fill="#8cb4fc"/>
<path d="M577.2 190.3a2.5 2.5 0 1 0 5.1 0a2.5 2.5 0 1 0 -5.1 0zM584.7 197.4a2.5 2.5 0 1 0 5.1 0a2.5 2.5 0 1 0 -5.1 0zM592.0 211.9a2.5 2.5 0 1 0 5.1 0a2.5 2.5 0 1 0 -5.1 0zM592.0 204.5a2.5 2.5 0 1 0 5.1 0a2.5 2.5 0 1 0 -5.1 0zM599.1 226.2a2.5 2.5 0 1 0 5.1 0a2.5 2.5 0 1 0 -5.1 0zM599.1 218.8a2.5 2.5 0 1 0 5.1 0a2.5 2.5 0 1 0 -5.1 0zM605.9 233.0a2.5 2.5 0 1 0 5.1 0a2.5 2.5 0 1 0 -5.1 0zM612.5 239.8a2.5 2.5 0 1 0 5.1 0a2.5 2.5 0 1 0 -5.1 0zM618.9 253.7a2.5 2.5 0 1 0 5.1 0a2.5 2.5 0 1 0 -5.1 0zM618.9 246.6a2.5 2.5 0 1 0 5.1 0a2.5 2.5 0 1 0 -5.1 0zM625.2 260.4a2.5 2.5 0 1 0 5.1 0a2.5 2.5 0 1 0 -5.1 0zM631.2 267.1a2.5 2.5 0 1 0 5.1 0a2.5 2.5 0 1 0 -5.1 0zM637.1 273.8a2.5 2.5 0 1 0 5.1 0a2.5 2.5 0 1 0 -5.1 0zM642.8 280.4a2.5 2.5 0 1 0 5.1 0a2.5 2.5 0 1 0 -5.1 0zM648.4 287.0a2.5 2.5 0 1 0 5.1 0a2.5 2.5 0 1 0 -5.1 0zM653.9 293.6a2.5 2.5 0 1 0 5.1 0a2.5 2.5 0 1 0 -5.1 0zM664.4 300.1a2.5 2.5 0 1 0 5.1 0a2.5 2.5 0 1 0 -5.1 0zM669.4 300.0a2.5 2.5 0 1 0 5.1 0a2.5 2.5 0 1 0 -5.1 0zM674.4 299.9a2.5 2.5 0 1 0 5.1 0a2.5 2.5 0 1 0 -5.1 0zM683.9 306.5a2.5 2.5 0 1 0 5.1 0a2.5 2.5 0 1 0 -5.1 0zM688.5 306.4a2.5 2.5 0 1 0 5.1 0a2.5 2.5 0 1 0 -5.1 0zM693.1 306.4a2.5 2.5 0 1 0 5.1 0a2.5 2.5 0 1 0 -5.1 0zM697.5 306.3a2.5 2.5 0 1 0 5.1 0a2.5 2.5 0 1 0 -5.1 0zM706.1 312.9a2.5 2.5 0 1 0 5.1 0a2.5 2.5 0 1 0 -5.1 0zM710.3 312.8a2.5 2.5 0 1 0 5.1 0a2.5 2.5 0 1 0 -5.1 0zM714.4 312.8a2.5 2.5 0 1 0 5.1 0a2.5 2.5 0 1 0 -5.1 0zM718.4 312.8a2.5 2.5 0 1 0 5.1 0a2.5 2.5 0 1 0 -5.1 0zM722.3 312.8a2.5 2.5 0 1 0 5.1 0a2.5 2.5 0 1 0 -5.1 0zM726.2 312.8a2.5 2.5 0 1 0 5.1 0a2.5 2.5 0 1 0 -5.1 0zM730.0 312.8a2.5 2.5 0 1 0 5.1 0a2.5 2.5 0 1 0 -5.1 0zM733.8 312.8a2.5 2.5 0 1 0 5.1 0a2.5 2.5 0 1 0 -5.1 0zM737.4 312.8a2.5 2.5 0 1 0 5.1 0a2.5 2.5 0 1 0 -5.1 0zM741.1 312.8a2.5 2.5 0 1 0 5.1 0a2.5 2.5 0 1 0 -5.1 0z" fill="#94b4fc"/>
<path d="M584.7 384.6a2.5 2.5 0 1 0 5.1 0a2.5 2.5 0 1 0 -5.1 0zM618.9 399.0a2.5 2.5 0 1 0 5.1 0a2.5 2.5 0 1 0 -5.1 0zM631.2 403.8a2.5 2.5 0 1 0 5.1 0a2.5 2.5 0 1 0 -5.1 0zM741.1 437.0a2.5 2.5 0 1 0 5.1 0a2.5 2.5 0 1 0 -5.1 0z" fill="#985c00"/>
<path d="M584.7 189.8a2.5 2.5 0 1 0 5.1 0a2.5 2.5 0 1 0 -5.1 0zM599.1 211.5a2.5 2.5 0 1 0 5.1 0a2.5 2.5 0 1 0 -5.1 0zM605.9 225.7a2.5 2.5 0 1 0 5.1 0a2.5 2.5 0 1 0 -5.1 0zM612.5 232.6a2.5 2.5 0 1 0 5.1 0a2.5 2.5 0 1 0 -5.1 0zM625.2 253.4a2.5 2.5 0 1 0 5.1 0a2.5 2.5 0 1 0 -5.1 0zM631.2 260.2a2.5 2.5 0 1 0 5.1 0a2.5 2.5 0 1 0 -5.1 0zM637.1 266.9a2.5 2.5 0 1 0 5.1 0a2.5 2.5 0 1 0 -5.1 0zM642.8 273.6a2.5 2.5 0 1 0 5.1 0a2.5 2.5 0 1 0 -5.1 0zM648.4 280.2a2.5 2.5 0 1 0 5.1 0a2.5 2.5 0 1 0 -5.1 0zM653.9 286.8a2.5 2.5 0 1 0 5.1 0a2.5 2.5 0 1 0 -5.1 0zM659.2 293.4a2.5 2.5 0 1 0 5.1 0a2.5 2.5 0 1 0 -5.1 0zM664.4 293.3a2.5 2.5 0 1 0 5.1 0a2.5 2.5 0 1 0 -5.1 0zM679.2 299.9a2.5 2.5 0 1 0 5.1 0a2.5 2.5 0 1 0 -5.1 0zM683.9 299.8a2.5 2.5 0 1 0 5.1 0a2.5 2.5 0 1 0 -5.1 0zM701.9 306.3a2.5 2.5 0 1 0 5.1 0a2.5 2.5 0 1 0 -5.1 0zM706.1 306.3a2.5 2.5 0 1 0 5.1 0a2.5 2.5 0 1 0 -5.1 0zM710.3 306.3a2.5 2.5 0 1 0 5.1 0a2.5 2.5 0 1 0 -5.1 0z" fill="#94b0fc"/>
<path d="M592.0 384.2a2.5 2.5 0 1 0 5.1 0a2.5 2.5 0 1 0 -5.1 0zM625.2 398.7a2.5 2.5 0 1 0 5.1 0a2.5 2.5 0 1 0 -5.1 0z" fill="#c07000"/>
<path d="M592.0 359.3a2.5 2.5 0 1 0 5.1 0a2.5 2.5 0 1 0 -5.1 0z" fill="#38d064"/>
<path d="M592.0 352.4a2.5 2.5 0 1 0 5.1 0a2.5 2.5 0 1 0 -5.1 0zM718.4 405.3a2.5 2.5 0 1 0 5.1 0a2.5 2.5 0 1 0 -5.1 0z" fill="#18e8c0"/>
<path d="M592.0 338.4a2.5 2.5 0 1 0 5.1 0a2.5 2.5 0 1 0 -5.1 0zM642.8 366.5a2.5 2.5 0 1 0 5.1 0a2.5 2.5 0 1 0 -5.1 0zM718.4 393.6a2.5 2.5 0 1 0 5.1 0a2.5 2.5 0 1 0 -5.1 0zM741.1 399.0a2.5 2.5 0 1 0 5.1 0a2.5 2.5 0 1 0 -5.1 0z" fill="#28e8f4"/>
<path d="M592.0 196.9a2.5 2.5 0 1 0 5.1 0a2.5 2.5 0 1 0 -5.1 0zM592.0 189.3a2.5 2.5 0 1 0 5.1 0a2.5 2.5 0 1 0 -5.1 0zM599.1 204.1a2.5 2.5 0 1 0 5.1 0a2.5 2.5 0 1 0 -5.1 0zM599.1 196.5a2.5 2.5 0 1 0 5.1 0a2.5 2.5 0 1 0 -5.1 0zM605.9 218.4a2.5 2.5 0 1 0 5.1 0a2.5 2.5 0 1 0 -5.1 0zM605.9 211.1a2.5 2.5 0 1 0 5.1 0a2.5 2.5 0 1 0 -5.1 0zM605.9 203.7a2.5 2.5 0 1 0 5.1 0a2.5 2.5 0 1 0 -5.1 0zM612.5 225.4a2.5 2.5 0 1 0 5.1 0a2.5 2.5 0 1 0 -5.1 0zM612.5 218.1a2.5 2.5 0 1 0 5.1 0a2.5 2.5 0 1 0 -5.1 0zM612.5 210.8a2.5 2.5 0 1 0 5.1 0a2.5 2.5 0 1 0 -5.1 0zM618.9 239.5a2.5 2.5 0 1 0 5.1 0a2.5 2.5 0 1 0 -5.1 0zM618.9 232.3a2.5 2.5 0 1 0 5.1 0a2.5 2.5 0 1 0 -5.1 0zM618.9 225.1a2.5 2.5 0 1 0 5.1 0a2.5 2.5 0 1 0 -5.1 0zM625.2 246.3a2.5 2.5 0 1 0 5.1 0a2.5 2.5 0 1 0 -5.1 0zM625.2 239.2a2.5 2.5 0 1 0 5.1 0a2.5 2.5 0 1 0 -5.1 0zM625.2 232.1a2.5 2.5 0 1 0 5.1 0a2.5 2.5 0 1 0 -5.1 0zM631.2 253.1a2.5 2.5 0 1 0 5.1 0a2.5 2.5 0 1 0 -5.1 0zM631.2 246.1a2.5 2.5 0 1 0 5.1 0a2.5 2.5 0 1 0 -5.1 0zM637.1 259.9a2.5 2.5 0 1 0 5.1 0a2.5 2.5 0 1 0 -5.1 0zM637.1 252.9a2.5 2.5 0 1 0 5.1 0a2.5 2.5 0 1 0 -5.1 0zM642.8 266.6a2.5 2.5 0 1 0 5.1 0a2.5 2.5 0 1 0 -5.1 0zM642.8 259.7a2.5 2.5 0 1 0 5.1 0a2.5 2.5 0 1 0 -5.1 0zM648.4 273.3a2.5 2.5 0 1 0 5.1 0a2.5 2.5 0 1 0 -5.1 0zM648.4 266.5a2.5 2.5 0 1 0 5.1 0a2.5 2.5 0 1 0 -5.1 0zM653.9 280.0a2.5 2.5 0 1 0 5.1 0a2.5 2.5 0 1 0 -5.1 0zM653.9 273.2a2.5 2.5 0 1 0 5.1 0a2.5 2.5 0 1 0 -5.1 0zM659.2 286.7a2.5 2.5 0 1 0 5.1 0a2.5 2.5 0 1 0 -5.1 0zM659.2 279.9a2.5 2.5 0 1 0 5.1 0a2.5 2.5 0 1 0 -5.1 0zM664.4 286.6a2.5 2.5 0 1 0 5.1 0a2.5 2.5 0 1 0 -5.1 0zM664.4 279.8a2.5 2.5 0 1 0 5.1 0a2.5 2.5 0 1 0 -5.1 0zM669.4 293.3a2.5 2.5 0 1 0 5.1 0a2.5 2.5 0 1 0 -5.1 0zM669.4 286.5a2.5 2.5 0 1 0 5.1 0a2.5 2.5 0 1 0 -5.1 0zM674.4 293.2a2.5 2.5 0 1 0 5.1 0a2.5 2.5 0 1 0 -5.1 0zM674.4 286.5a2.5 2.5 0 1 0 5.1 0a2.5 2.5 0 1 0 -5.1 0zM679.2 293.1a2.5 2.5 0 1 0 5.1 0a2.5 2.5 0 1 0 -5.1 0zM679.2 286.4a2.5 2.5 0 1 0 5.1 0a2.5 2.5 0 1 0 -5.1 0zM683.9 293.1a2.5 2.5 0 1 0 5.1 0a2.5 2.5 0 1 0 -5.1 0zM688.5 299.8a2.5 2.5 0 1 0 5.1 0a2.5 2.5 0 1 0 -5.1 0zM688.5 293.1a2.5 2.5 0 1 0 5.1 0a2.5 2.5 0 1 0 -5.1 0zM693.1 299.7a2.5 2.5 0 1 0 5.1 0a2.5 2.5 0 1 0 -5.1 0zM693.1 293.0a2.5 2.5 0 1 0 5.1 0a2.5 2.5 0 1 0 -5.1 0zM697.5 299.7a2.5 2.5 0 1 0 5.1 0a2.5 2.5 0 1 0 -5.1 0zM697.5 293.0a2.5 2.5 0 1 0 5.1 0a2.5 2.5 0 1 0 -5.1 0zM701.9 299.6a2.5 2.5 0 1 0 5.1 0a2.5 2.5 0 1 0 -5.1 0zM701.9 293.0a2.5 2.5 0 1 0 5.1 0a2.5 2.5 0 1 0 -5.1 0zM706.1 299.6a2.5 2.5 0 1 0 5.1 0a2.5 2.5 0 1 0 -5.1 0zM706.1 293.0a2.5 2.5 0 1 0 5.1 0a2.5 2.5 0 1 0 -5.1 0zM710.3 299.6a2.5 2.5 0 1 0 5.1 0a2.5 2.5 0 1 0 -5.1 0zM714.4 306.2a2.5 2.5 0 1 0 5.1 0a2.5 2.5 0 1 0 -5.1 0zM714.4 299.6a2.5 2.5 0 1 0 5.1 0a2.5 2.5 0 1 0 -5.1 0zM718.4 306.2a2.5 2.5 0 1 0 5.1 0a2.5 2.5 0 1 0 -5.1 0zM718.4 299.6a2.5 2.5 0 1 0 5.1 0a2.5 2.5 0 1 0 -5.1 0zM722.3 306.2a2.5 2.5 0 1 0 5.1 0a2.5 2.5 0 1 0 -5.1 0zM722.3 299.6a2.5 2.5 0 1 0 5.1 0a2.5 2.5 0 1 0 -5.1 0zM726.2 306.2a2.5 2.5 0 1 0 5.1 0a2.5 2.5 0 1 0 -5.1 0zM726.2 299.6a2.5 2.5 0 1 0 5.1 0a2.5 2.5 0 1 0 -5.1 0zM730.0 306.2a2.5 2.5 0 1 0 5.1 0a2.5 2.5 0 1 0 -5.1 0zM730.0 299.6a2.5 2.5 0 1 0 5.1 0a2.5 2.5 0 1 0 -5.1 0zM733.8 306.2a2.5 2.5 0 1 0 5.1 0a2.5 2.5 0 1 0 -5.1 0zM733.8 299.6a2.5 2.5 0 1 0 5.1 0a2.5 2.5 0 1 0 -5.1 0zM737.4 306.2a2.5 2.5 0 1 0 5.1 0a2.5 2.5 0 1 0 -5.1 0zM737.4 299.6a2.5 2.5 0 1 0 5.1 0a2.5 2.5 0 1 0 -5.1 0zM741.1 306.2a2.5 2.5 0 1 0 5.1 0a2.5 2.5 0 1 0 -5.1 0zM741.1 299.6a2.5 2.5 0 1 0 5.1 0a2.5 2.5 0 1 0 -5.1 0z" fill="#98b0fc"/>
<path d="M599.1 399.7a2.5 2.5 0 1 0 5.1 0a2.5 2.5 0 1 0 -5.1 0zM637.1 413.8a2.5 2.5 0 1 0 5.1 0a2.5 2.5 0 1 0 -5.1 0zM718.4 437.2a2.5 2.5 0 1 0 5.1 0a2.5 2.5 0 1 0 -5.1 0z" fill="#482c00"/>
<path d="M599.1 389.3a2.5 2.5 0 1 0 5.1 0a2.5 2.5 0 1 0 -5.1 0zM674.4 418.0a2.5 2.5 0 1 0 5.1 0a2.5 2.5 0 1 0 -5.1 0z" fill="#a86400"/>
<path d="M599.1 371.6a2.5 2.5 0 1 0 5.1 0a2.5 2.5 0 1 0 -5.1 0zM631.2 386.8a2.5 2.5 0 1 0 5.1 0a2.5 2.5 0 1 0 -5.1 0z" fill="#84b828"/>
<path d="M599.1 189.0a2.5 2.5 0 1 0 5.1 0a2.5 2.5 0 1 0 -5.1 0zM605.9 196.2a2.5 2.5 0 1 0 5.1 0a2.5 2.5 0 1 0 -5.1 0zM605.9 188.7a2.5 2.5 0 1 0 5.1 0a2.5 2.5 0 1 0 -5.1 0zM612.5 203.4a2.5 2.5 0 1 0 5.1 0a2.5 2.5 0 1 0 -5.1 0zM612.5 196.0a2.5 2.5 0 1 0 5.1 0a2.5 2.5 0 1 0 -5.1 0zM618.9 217.9a2.5 2.5 0 1 0 5.1 0a2.5 2.5 0 1 0 -5.1 0zM618.9 210.6a2.5 2.5 0 1 0 5.1 0a2.5 2.5 0 1 0 -5.1 0zM618.9 203.2a2.5 2.5 0 1 0 5.1 0a2.5 2.5 0 1 0 -5.1 0zM625.2 224.9a2.5 2.5 0 1 0 5.1 0a2.5 2.5 0 1 0 -5.1 0zM625.2 217.6a2.5 2.5 0 1 0 5.1 0a2.5 2.5 0 1 0 -5.1 0zM625.2 210.3a2.5 2.5 0 1 0 5.1 0a2.5 2.5 0 1 0 -5.1 0zM631.2 239.0a2.5 2.5 0 1 0 5.1 0a2.5 2.5 0 1 0 -5.1 0zM631.2 231.9a2.5 2.5 0 1 0 5.1 0a2.5 2.5 0 1 0 -5.1 0zM631.2 224.7a2.5 2.5 0 1 0 5.1 0a2.5 2.5 0 1 0 -5.1 0zM637.1 245.9a2.5 2.5 0 1 0 5.1 0a2.5 2.5 0 1 0 -5.1 0zM637.1 238.8a2.5 2.5 0 1 0 5.1 0a2.5 2.5 0 1 0 -5.1 0zM637.1 231.7a2.5 2.5 0 1 0 5.1 0a2.5 2.5 0 1 0 -5.1 0zM642.8 252.7a2.5 2.5 0 1 0 5.1 0a2.5 2.5 0 1 0 -5.1 0zM642.8 245.7a2.5 2.5 0 1 0 5.1 0a2.5 2.5 0 1 0 -5.1 0zM642.8 238.6a2.5 2.5 0 1 0 5.1 0a2.5 2.5 0 1 0 -5.1 0zM648.4 259.6a2.5 2.5 0 1 0 5.1 0a2.5 2.5 0 1 0 -5.1 0zM648.4 252.6a2.5 2.5 0 1 0 5.1 0a2.5 2.5 0 1 0 -5.1 0zM653.9 266.3a2.5 2.5 0 1 0 5.1 0a2.5 2.5 0 1 0 -5.1 0zM653.9 259.4a2.5 2.5 0 1 0 5.1 0a2.5 2.5 0 1 0 -5.1 0zM659.2 273.1a2.5 2.5 0 1 0 5.1 0a2.5 2.5 0 1 0 -5.1 0zM659.2 266.2a2.5 2.5 0 1 0 5.1 0a2.5 2.5 0 1 0 -5.1 0zM664.4 273.0a2.5 2.5 0 1 0 5.1 0a2.5 2.5 0 1 0 -5.1 0zM664.4 266.1a2.5 2.5 0 1 0 5.1 0a2.5 2.5 0 1 0 -5.1 0zM669.4 279.8a2.5 2.5 0 1 0 5.1 0a2.5 2.5 0 1 0 -5.1 0zM669.4 272.9a2.5 2.5 0 1 0 5.1 0a2.5 2.5 0 1 0 -5.1 0zM674.4 279.7a2.5 2.5 0 1 0 5.1 0a2.5 2.5 0 1 0 -5.1 0zM674.4 272.9a2.5 2.5 0 1 0 5.1 0a2.5 2.5 0 1 0 -5.1 0zM679.2 279.6a2.5 2.5 0 1 0 5.1 0a2.5 2.5 0 1 0 -5.1 0zM679.2 272.8a2.5 2.5 0 1 0 5.1 0a2.5 2.5 0 1 0 -5.1 0zM683.9 286.4a2.5 2.5 0 1 0 5.1 0a2.5 2.5 0 1 0 -5.1 0zM683.9 279.6a2.5 2.5 0 1 0 5.1 0a2.5 2.5 0 1 0 -5.1 0zM688.5 286.3a2.5 2.5 0 1 0 5.1 0a2.5 2.5 0 1 0 -5.1 0zM688.5 279.6a2.5 2.5 0 1 0 5.1 0a2.5 2.5 0 1 0 -5.1 0zM693.1 286.3a2.5 2.5 0 1 0 5.1 0a2.5 2.5 0 1 0 -5.1 0zM693.1 279.5a2.5 2.5 0 1 0 5.1 0a2.5 2.5 0 1 0 -5.1 0zM697.5 286.3a2.5 2.5 0 1 0 5.1 0a2.5 2.5 0 1 0 -5.1 0zM701.9 286.3a2.5 2.5 0 1 0 5.1 0a2.5 2.5 0 1 0 -5.1 0zM706.1 286.2a2.5 2.5 0 1 0 5.1 0a2.5 2.5 0 1 0 -5.1 0zM710.3 293.0a2.5 2.5 0 1 0 5.1 0a2.5 2.5 0 1 0 -5.1 0zM710.3 286.2a2.5 2.5 0 1 0 5.1 0a2.5 2.5 0 1 0 -5.1 0zM714.4 292.9a2.5 2.5 0 1 0 5.1 0a2.5 2.5 0 1 0 -5.1 0zM714.4 286.2a2.5 2.5 0 1 0 5.1 0a2.5 2.5 0 1 0 -5.1 0zM718.4 292.9a2.5 2.5 0 1 0 5.1 0a2.5 2.5 0 1 0 -5.1 0zM718.4 286.2a2.5 2.5 0 1 0 5.1 0a2.5 2.5 0 1 0 -5.1 0zM722.3 292.9a2.5 2.5 0 1 0 5.1 0a2.5 2.5 0 1 0 -5.1 0zM722.3 286.2a2.5 2.5 0 1 0 5.1 0a2.5 2.5 0 1 0 -5.1 0zM726.2 292.9a2.5 2.5 0 1 0 5.1 0a2.5 2.5 0 1 0 -5.1 0zM726.2 286.2a2.5 2.5 0 1 0 5.1 0a2.5 2.5 0 1 0 -5.1 0zM730.0 292.9a2.5 2.5 0 1 0 5.1 0a2.5 2.5 0 1 0 -5.1 0zM730.0 286.2a2.5 2.5 0 1 0 5.1 0a2.5 2.5 0 1 0 -5.1 0zM733.8 292.9a2.5 2.5 0 1 0 5.1 0a2.5 2.5 0 1 0 -5.1 0zM733.8 286.1a2.5 2.5 0 1 0 5.1 0a2.5 2.5 0 1 0 -5.1 0zM737.4 292.9a2.5 2.5 0 1 0 5.1 0a2.5 2.5 0 1 0 -5.1 0zM737.4 286.1a2.5 2.5 0 1 0 5.1 0a2.5 2.5 0 1 0 -5.1 0zM741.1 292.9a2.5 2.5 0 1 0 5.1 0a2.5 2.5 0 1 0 -5.1 0zM741.1 286.1a2.5 2.5 0 1 0 5.1 0a2.5 2.5 0 1 0 -5.1 0z" fill="#9cb0fc"/>
<path d="M605.9 357.2a2.5 2.5 0 1 0 5.1 0a2.5 2.5 0 1 0 -5.1 0z" fill="#08f4ec"/>
<path d="M612.5 369.8a2.5 2.5 0 1 0 5.1 0a2.5 2.5 0 1 0 -5.1 0z" fill="#34d468"/>
<path d="M612.5 363.1a2.5 2.5 0 1 0 5.1 0a2.5 2.5 0 1 0 -5.1 0zM701.9 400.1a2.5 2.5 0 1 0 5.1 0a2.5 2.5 0 1 0 -5.1 0zM741.1 410.4a2.5 2.5 0 1 0 5.1 0a2.5 2.5 0 1 0 -5.1 0z" fill="#14ecc8"/>
<path d="M612.5 188.4a2.5 2.5 0 1 0 5.1 0a2.5 2.5 0 1 0 -5.1 0zM618.9 195.7a2.5 2.5 0 1 0 5.1 0a2.5 2.5 0 1 0 -5.1 0zM625.2 202.9a2.5 2.5 0 1 0 5.1 0a2.5 2.5 0 1 0 -5.1 0zM631.2 217.4a2.5 2.5 0 1 0 5.1 0a2.5 2.5 0 1 0 -5.1 0zM637.1 224.4a2.5 2.5 0 1 0 5.1 0a2.5 2.5 0 1 0 -5.1 0zM642.8 231.5a2.5 2.5 0 1 0 5.1 0a2.5 2.5 0 1 0 -5.1 0zM648.4 245.5a2.5 2.5 0 1 0 5.1 0a2.5 2.5 0 1 0 -5.1 0zM653.9 252.4a2.5 2.5 0 1 0 5.1 0a2.5 2.5 0 1 0 -5.1 0zM659.2 259.3a2.5 2.5 0 1 0 5.1 0a2.5 2.5 0 1 0 -5.1 0zM664.4 259.2a2.5 2.5 0 1 0 5.1 0a2.5 2.5 0 1 0 -5.1 0zM669.4 266.0a2.5 2.5 0 1 0 5.1 0a2.5 2.5 0 1 0 -5.1 0zM674.4 266.0a2.5 2.5 0 1 0 5.1 0a2.5 2.5 0 1 0 -5.1 0zM683.9 272.8a2.5 2.5 0 1 0 5.1 0a2.5 2.5 0 1 0 -5.1 0zM697.5 279.5a2.5 2.5 0 1 0 5.1 0a2.5 2.5 0 1 0 -5.1 0zM701.9 279.4a2.5 2.5 0 1 0 5.1 0a2.5 2.5 0 1 0 -5.1 0zM706.1 279.4a2.5 2.5 0 1 0 5.1 0a2.5 2.5 0 1 0 -5.1 0zM710.3 279.4a2.5 2.5 0 1 0 5.1 0a2.5 2.5 0 1 0 -5.1 0z" fill="#9cacfc"/>
<path d="M618.9 393.6a2.5 2.5 0 1 0 5.1 0a2.5 2.5 0 1 0 -5.1 0zM642.8 403.3a2.5 2.5 0 1 0 5.1 0a2.5 2.5 0 1 0 -5.1 0z" fill="#e48800"/>
<path d="M618.9 375.5a2.5 2.5 0 1 0 5.1 0a2.5 2.5 0 1 0 -5.1 0z" fill="#40c844"/>
<path d="M618.9 188.1a2.5 2.5 0 1 0 5.1 0a2.5 2.5 0 1 0 -5.1 0zM625.2 195.4a2.5 2.5 0 1 0 5.1 0a2.5 2.5 0 1 0 -5.1 0zM625.2 187.9a2.5 2.5 0 1 0 5.1 0a2.5 2.5 0 1 0 -5.1 0zM631.2 210.1a2.5 2.5 0 1 0 5.1 0a2.5 2.5 0 1 0 -5.1 0zM631.2 202.7a2.5 2.5 0 1 0 5.1 0a2.5 2.5 0 1 0 -5.1 0zM631.2 195.2a2.5 2.5 0 1 0 5.1 0a2.5 2.5 0 1 0 -5.1 0zM631.2 187.7a2.5 2.5 0 1 0 5.1 0a2.5 2.5 0 1 0 -5.1 0zM637.1 217.2a2.5 2.5 0 1 0 5.1 0a2.5 2.5 0 1 0 -5.1 0zM637.1 209.9a2.5 2.5 0 1 0 5.1 0a2.5 2.5 0 1 0 -5.1 0zM637.1 202.5a2.5 2.5 0 1 0 5.1 0a2.5 2.5 0 1 0 -5.1 0zM637.1 195.1a2.5 2.5 0 1 0 5.1 0a2.5 2.5 0 1 0 -5.1 0zM637.1 187.5a2.5 2.5 0 1 0 5.1 0a2.5 2.5 0 1 0 -5.1 0zM642.8 224.2a2.5 2.5 0 1 0 5.1 0a2.5 2.5 0 1 0 -5.1 0zM642.8 217.0a2.5 2.5 0 1 0 5.1 0a2.5 2.5 0 1 0 -5.1 0zM642.8 209.7a2.5 2.5 0 1 0 5.1 0a2.5 2.5 0 1 0 -5.1 0zM642.8 202.3a2.5 2.5 0 1 0 5.1 0a2.5 2.5 0 1 0 -5.1 0zM642.8 194.9a2.5 2.5 0 1 0 5.1 0a2.5 2.5 0 1 0 -5.1 0zM648.4 238.4a2.5 2.5 0 1 0 5.1 0a2.5 2.5 0 1 0 -5.1 0zM648.4 231.3a2.5 2.5 0 1 0 5.1 0a2.5 2.5 0 1 0 -5.1 0zM648.4 224.1a2.5 2.5 0 1 0 5.1 0a2.5 2.5 0 1 0 -5.1 0zM648.4 216.8a2.5 2.5 0 1 0 5.1 0a2.5 2.5 0 1 0 -5.1 0zM648.4 209.5a2.5 2.5 0 1 0 5.1 0a2.5 2.5 0 1 0 -5.1 0zM648.4 202.2a2.5 2.5 0 1 0 5.1 0a2.5 2.5 0 1 0 -5.1 0zM653.9 245.4a2.5 2.5 0 1 0 5.1 0a2.5 2.5 0 1 0 -5.1 0zM653.9 238.3a2.5 2.5 0 1 0 5.1 0a2.5 2.5 0 1 0 -5.1 0zM653.9 231.1a2.5 2.5 0 1 0 5.1 0a2.5 2.5 0 1 0 -5.1 0zM653.9 223.9a2.5 2.5 0 1 0 5.1 0a2.5 2.5 0 1 0 -5.1 0zM653.9 216.7a2.5 2.5 0 1 0 5.1 0a2.5 2.5 0 1 0 -5.1 0zM659.2 252.3a2.5 2.5 0 1 0 5.1 0a2.5 2.5 0 1 0 -5.1 0zM659.2 245.2a2.5 2.5 0 1 0 5.1 0a2.5 2.5 0 1 0 -5.1 0zM659.2 238.1a2.5 2.5 0 1 0 5.1 0a2.5 2.5 0 1 0 -5.1 0zM659.2 231.0a2.5 2.5 0 1 0 5.1 0a2.5 2.5 0 1 0 -5.1 0zM659.2 223.8a2.5 2.5 0 1 0 5.1 0a2.5 2.5 0 1 0 -5.1 0zM664.4 252.2a2.5 2.5 0 1 0 5.1 0a2.5 2.5 0 1 0 -5.1 0zM664.4 245.1a2.5 2.5 0 1 0 5.1 0a2.5 2.5 0 1 0 -5.1 0zM664.4 238.1a2.5 2.5 0 1 0 5.1 0a2.5 2.5 0 1 0 -5.1 0zM664.4 230.9a2.5 2.5 0 1 0 5.1 0a2.5 2.5 0 1 0 -5.1 0zM669.4 259.1a2.5 2.5 0 1 0 5.1 0a2.5 2.5 0 1 0 -5.1 0zM669.4 252.1a2.5 2.5 0 1 0 5.1 0a2.5 2.5 0 1 0 -5.1 0zM669.4 245.1a2.5 2.5 0 1 0 5.1 0a2.5 2.5 0 1 0 -5.1 0zM669.4 238.0a2.5 2.5 0 1 0 5.1 0a2.5 2.5 0 1 0 -5.1 0zM674.4 259.0a2.5 2.5 0 1 0 5.1 0a2.5 2.5 0 1 0 -5.1 0zM674.4 252.0a2.5 2.5 0 1 0 5.1 0a2.5 2.5 0 1 0 -5.1 0zM674.4 245.0a2.5 2.5 0 1 0 5.1 0a2.5 2.5 0 1 0 -5.1 0zM679.2 265.9a2.5 2.5 0 1 0 5.1 0a2.5 2.5 0 1 0 -5.1 0zM679.2 259.0a2.5 2.5 0 1 0 5.1 0a2.5 2.5 0 1 0 -5.1 0zM679.2 252.0a2.5 2.5 0 1 0 5.1 0a2.5 2.5 0 1 0 -5.1 0zM679.2 244.9a2.5 2.5 0 1 0 5.1 0a2.5 2.5 0 1 0 -5.1 0zM683.9 265.8a2.5 2.5 0 1 0 5.1 0a2.5 2.5 0 1 0 -5.1 0zM683.9 258.9a2.5 2.5 0 1 0 5.1 0a2.5 2.5 0 1 0 -5.1 0zM683.9 251.9a2.5 2.5 0 1 0 5.1 0a2.5 2.5 0 1 0 -5.1 0zM688.5 272.7a2.5 2.5 0 1 0 5.1 0a2.5 2.5 0 1 0 -5.1 0zM688.5 265.8a2.5 2.5 0 1 0 5.1 0a2.5 2.5 0 1 0 -5.1 0zM688.5 258.9a2.5 2.5 0 1 0 5.1 0a2.5 2.5 0 1 0 -5.1 0zM688.5 251.8a2.5 2.5 0 1 0 5.1 0a2.5 2.5 0 1 0 -5.1 0zM693.1 272.7a2.5 2.5 0 1 0 5.1 0a2.5 2.5 0 1 0 -5.1 0zM693.1 265.7a2.5 2.5 0 1 0 5.1 0a2.5 2.5 0 1 0 -5.1 0zM693.1 258.8a2.5 2.5 0 1 0 5.1 0a2.5 2.5 0 1 0 -5.1 0zM697.5 272.6a2.5 2.5 0 1 0 5.1 0a2.5 2.5 0 1 0 -5.1 0zM697.5 265.7a2.5 2.5 0 1 0 5.1 0a2.5 2.5 0 1 0 -5.1 0zM697.5 258.8a2.5 2.5 0 1 0 5.1 0a2.5 2.5 0 1 0 -5.1 0zM701.9 272.6a2.5 2.5 0 1 0 5.1 0a2.5 2.5 0 1 0 -5.1 0zM701.9 265.7a2.5 2.5 0 1 0 5.1 0a2.5 2.5 0 1 0 -5.1 0zM701.9 258.7a2.5 2.5 0 1 0 5.1 0a2.5 2.5 0 1 0 -5.1 0zM706.1 272.5a2.5 2.5 0 1 0 5.1 0a2.5 2.5 0 1 0 -5.1 0zM706.1 265.6a2.5 2.5 0 1 0 5.1 0a2.5 2.5 0 1 0 -5.1 0zM710.3 272.5a2.5 2.5 0 1 0 5.1 0a2.5 2.5 0 1 0 -5.1 0zM710.3 265.6a2.5 2.5 0 1 0 5.1 0a2.5 2.5 0 1 0 -5.1 0zM714.4 279.4a2.5 2.5 0 1 0 5.1 0a2.5 2.5 0 1 0 -5.1 0zM714.4 272.5a2.5 2.5 0 1 0 5.1 0a2.5 2.5 0 1 0 -5.1 0zM714.4 265.6a2.5 2.5 0 1 0 5.1 0a2.5 2.5 0 1 0 -5.1 0zM718.4 279.3a2.5 2.5 0 1 0 5.1 0a2.5 2.5 0 1 0 -5.1 0zM718.4 272.5a2.5 2.5 0 1 0 5.1 0a2.5 2.5 0 1 0 -5.1 0zM718.4 265.6a2.5 2.5 0 1 0 5.1 0a2.5 2.5 0 1 0 -5.1 0zM722.3 279.3a2.5 2.5 0 1 0 5.1 0a2.5 2.5 0 1 0 -5.1 0zM722.3 272.5a2.5 2.5 0 1 0 5.1 0a2.5 2.5 0 1 0 -5.1 0zM722.3 265.5a2.5 2.5 0 1 0 5.1 0a2.5 2.5 0 1 0 -5.1 0zM726.2 279.3a2.5 2.5 0 1 0 5.1 0a2.5 2.5 0 1 0 -5.1 0zM726.2 272.4a2.5 2.5 0 1 0 5.1 0a2.5 2.5 0 1 0 -5.1 0zM730.0 279.3a2.5 2.5 0 1 0 5.1 0a2.5 2.5 0 1 0 -5.1 0zM730.0 272.4a2.5 2.5 0 1 0 5.1 0a2.5 2.5 0 1 0 -5.1 0zM733.8 279.3a2.5 2.5 0 1 0 5.1 0a2.5 2.5 0 1 0 -5.1 0zM733.8 272.4a2.5 2.5 0 1 0 5.1 0a2.5 2.5 0 1 0 -5.1 0zM737.4 279.3a2.5 2.5 0 1 0 5.1 0a2.5 2.5 0 1 0 -5.1 0zM737.4 272.4a2.5 2.5 0 1 0 5.1 0a2.5 2.5 0 1 0 -5.1 0zM741.1 279.3a2.5 2.5 0 1 0 5.1 0a2.5 2.5 0 1 0 -5.1 0zM741.1 272.4a2.5 2.5 0 1 0 5.1 0a2.5 2.5 0 1 0 -5.1 0z" fill="#a0acfc"/>
<path d="M625.2 374.8a2.5 2.5 0 1 0 5.1 0a2.5 2.5 0 1 0 -5.1 0zM648.4 385.2a2.5 2.5 0 1 0 5.1 0a2.5 2.5 0 1 0 -5.1 0z" fill="#2cd87c"/>
<path d="M631.2 398.4a2.5 2.5 0 1 0 5.1 0a2.5 2.5 0 1 0 -5.1 0zM737.4 432.1a2.5 2.5 0 1 0 5.1 0a2.5 2.5 0 1 0 -5.1 0z" fill="#e88c00"/>
<path d="M631.2 380.6a2.5 2.5 0 1 0 5.1 0a2.5 2.5 0 1 0 -5.1 0zM642.8 385.7a2.5 2.5 0 1 0 5.1 0a2.5 2.5 0 1 0 -5.1 0zM733.8 416.2a2.5 2.5 0 1 0 5.1 0a2.5 2.5 0 1 0 -5.1 0z" fill="#3ccc4c"/>
<path d="M631.2 374.1a2.5 2.5 0 1 0 5.1 0a2.5 2.5 0 1 0 -5.1 0zM642.8 379.4a2.5 2.5 0 1 0 5.1 0a2.5 2.5 0 1 0 -5.1 0z" fill="#1ce4b0"/>
<path d="M637.1 403.5a2.5 2.5 0 1 0 5.1 0a2.5 2.5 0 1 0 -5.1 0zM710.3 427.4a2.5 2.5 0 1 0 5.1 0a2.5 2.5 0 1 0 -5.1 0z" fill="#bc7000"/>
<path d="M642.8 413.7a2.5 2.5 0 1 0 5.1 0a2.5 2.5 0 1 0 -5.1 0z" fill="#5c3400"/>
<path d="M642.8 391.8a2.5 2.5 0 1 0 5.1 0a2.5 2.5 0 1 0 -5.1 0zM733.8 421.6a2.5 2.5 0 1 0 5.1 0a2.5 2.5 0 1 0 -5.1 0z" fill="#84b428"/>
<path d="M642.8 187.3a2.5 2.5 0 1 0 5.1 0a2.5 2.5 0 1 0 -5.1 0zM648.4 194.7a2.5 2.5 0 1 0 5.1 0a2.5 2.5 0 1 0 -5.1 0zM648.4 187.2a2.5 2.5 0 1 0 5.1 0a2.5 2.5 0 1 0 -5.1 0zM653.9 209.4a2.5 2.5 0 1 0 5.1 0a2.5 2.5 0 1 0 -5.1 0zM653.9 202.0a2.5 2.5 0 1 0 5.1 0a2.5 2.5 0 1 0 -5.1 0zM653.9 194.5a2.5 2.5 0 1 0 5.1 0a2.5 2.5 0 1 0 -5.1 0zM653.9 187.0a2.5 2.5 0 1 0 5.1 0a2.5 2.5 0 1 0 -5.1 0zM659.2 216.6a2.5 2.5 0 1 0 5.1 0a2.5 2.5 0 1 0 -5.1 0zM659.2 209.2a2.5 2.5 0 1 0 5.1 0a2.5 2.5 0 1 0 -5.1 0zM659.2 201.9a2.5 2.5 0 1 0 5.1 0a2.5 2.5 0 1 0 -5.1 0zM659.2 194.4a2.5 2.5 0 1 0 5.1 0a2.5 2.5 0 1 0 -5.1 0zM659.2 186.9a2.5 2.5 0 1 0 5.1 0a2.5 2.5 0 1 0 -5.1 0zM664.4 223.7a2.5 2.5 0 1 0 5.1 0a2.5 2.5 0 1 0 -5.1 0zM664.4 216.4a2.5 2.5 0 1 0 5.1 0a2.5 2.5 0 1 0 -5.1 0zM664.4 209.1a2.5 2.5 0 1 0 5.1 0a2.5 2.5 0 1 0 -5.1 0zM664.4 201.7a2.5 2.5 0 1 0 5.1 0a2.5 2.5 0 1 0 -5.1 0zM664.4 194.3a2.5 2.5 0 1 0 5.1 0a2.5 2.5 0 1 0 -5.1 0zM669.4 230.8a2.5 2.5 0 1 0 5.1 0a2.5 2.5 0 1 0 -5.1 0zM669.4 223.6a2.5 2.5 0 1 0 5.1 0a2.5 2.5 0 1 0 -5.1 0zM669.4 216.3a2.5 2.5 0 1 0 5.1 0a2.5 2.5 0 1 0 -5.1 0zM669.4 209.0a2.5 2.5 0 1 0 5.1 0a2.5 2.5 0 1 0 -5.1 0zM669.4 201.6a2.5 2.5 0 1 0 5.1 0a2.5 2.5 0 1 0 -5.1 0zM674.4 237.9a2.5 2.5 0 1 0 5.1 0a2.5 2.5 0 1 0 -5.1 0zM674.4 230.7a2.5 2.5 0 1 0 5.1 0a2.5 2.5 0 1 0 -5.1 0zM674.4 223.5a2.5 2.5 0 1 0 5.1 0a2.5 2.5 0 1 0 -5.1 0zM674.4 216.2a2.5 2.5 0 1 0 5.1 0a2.5 2.5 0 1 0 -5.1 0zM674.4 208.9a2.5 2.5 0 1 0 5.1 0a2.5 2.5 0 1 0 -5.1 0zM679.2 237.8a2.5 2.5 0 1 0 5.1 0a2.5 2.5 0 1 0 -5.1 0zM679.2 230.6a2.5 2.5 0 1 0 5.1 0a2.5 2.5 0 1 0 -5.1 0zM679.2 223.4a2.5 2.5 0 1 0 5.1 0a2.5 2.5 0 1 0 -5.1 0zM679.2 216.1a2.5 2.5 0 1 0 5.1 0a2.5 2.5 0 1 0 -5.1 0zM683.9 244.8a2.5 2.5 0 1 0 5.1 0a2.5 2.5 0 1 0 -5.1 0zM683.9 237.7a2.5 2.5 0 1 0 5.1 0a2.5 2.5 0 1 0 -5.1 0zM683.9 230.5a2.5 2.5 0 1 0 5.1 0a2.5 2.5 0 1 0 -5.1 0zM683.9 223.3a2.5 2.5 0 1 0 5.1 0a2.5 2.5 0 1 0 -5.1 0zM683.9 216.1a2.5 2.5 0 1 0 5.1 0a2.5 2.5 0 1 0 -5.1 0zM688.5 244.8a2.5 2.5 0 1 0 5.1 0a2.5 2.5 0 1 0 -5.1 0zM688.5 237.6a2.5 2.5 0 1 0 5.1 0a2.5 2.5 0 1 0 -5.1 0zM688.5 230.5a2.5 2.5 0 1 0 5.1 0a2.5 2.5 0 1 0 -5.1 0zM688.5 223.3a2.5 2.5 0 1 0 5.1 0a2.5 2.5 0 1 0 -5.1 0zM693.1 251.8a2.5 2.5 0 1 0 5.1 0a2.5 2.5 0 1 0 -5.1 0zM693.1 244.7a2.5 2.5 0 1 0 5.1 0a2.5 2.5 0 1 0 -5.1 0zM693.1 237.6a2.5 2.5 0 1 0 5.1 0a2.5 2.5 0 1 0 -5.1 0zM693.1 230.4a2.5 2.5 0 1 0 5.1 0a2.5 2.5 0 1 0 -5.1 0zM697.5 251.7a2.5 2.5 0 1 0 5.1 0a2.5 2.5 0 1 0 -5.1 0zM697.5 244.6a2.5 2.5 0 1 0 5.1 0a2.5 2.5 0 1 0 -5.1 0zM697.5 237.5a2.5 2.5 0 1 0 5.1 0a2.5 2.5 0 1 0 -5.1 0zM697.5 230.4a2.5 2.5 0 1 0 5.1 0a2.5 2.5 0 1 0 -5.1 0zM701.9 251.7a2.5 2.5 0 1 0 5.1 0a2.5 2.5 0 1 0 -5.1 0zM701.9 244.6a2.5 2.5 0 1 0 5.1 0a2.5 2.5 0 1 0 -5.1 0zM701.9 237.5a2.5 2.5 0 1 0 5.1 0a2.5 2.5 0 1 0 -5.1 0zM706.1 258.7a2.5 2.5 0 1 0 5.1 0a2.5 2.5 0 1 0 -5.1 0zM706.1 251.6a2.5 2.5 0 1 0 5.1 0a2.5 2.5 0 1 0 -5.1 0zM706.1 244.5a2.5 2.5 0 1 0 5.1 0a2.5 2.5 0 1 0 -5.1 0zM706.1 237.5a2.5 2.5 0 1 0 5.1 0a2.5 2.5 0 1 0 -5.1 0zM710.3 258.6a2.5 2.5 0 1 0 5.1 0a2.5 2.5 0 1 0 -5.1 0zM710.3 251.6a2.5 2.5 0 1 0 5.1 0a2.5 2.5 0 1 0 -5.1 0zM710.3 244.5a2.5 2.5 0 1 0 5.1 0a2.5 2.5 0 1 0 -5.1 0zM714.4 258.6a2.5 2.5 0 1 0 5.1 0a2.5 2.5 0 1 0 -5.1 0zM714.4 251.5a2.5 2.5 0 1 0 5.1 0a2.5 2.5 0 1 0 -5.1 0zM714.4 244.5a2.5 2.5 0 1 0 5.1 0a2.5 2.5 0 1 0 -5.1 0zM718.4 258.6a2.5 2.5 0 1 0 5.1 0a2.5 2.5 0 1 0 -5.1 0zM718.4 251.5a2.5 2.5 0 1 0 5.1 0a2.5 2.5 0 1 0 -5.1 0zM718.4 244.5a2.5 2.5 0 1 0 5.1 0a2.5 2.5 0 1 0 -5.1 0zM722.3 258.5a2.5 2.5 0 1 0 5.1 0a2.5 2.5 0 1 0 -5.1 0zM722.3 251.5a2.5 2.5 0 1 0 5.1 0a2.5 2.5 0 1 0 -5.1 0zM722.3 244.4a2.5 2.5 0 1 0 5.1 0a2.5 2.5 0 1 0 -5.1 0zM726.2 265.5a2.5 2.5 0 1 0 5.1 0a2.5 2.5 0 1 0 -5.1 0zM726.2 258.5a2.5 2.5 0 1 0 5.1 0a2.5 2.5 0 1 0 -5.1 0zM726.2 251.4a2.5 2.5 0 1 0 5.1 0a2.5 2.5 0 1 0 -5.1 0zM730.0 265.5a2.5 2.5 0 1 0 5.1 0a2.5 2.5 0 1 0 -5.1 0zM730.0 258.5a2.5 2.5 0 1 0 5.1 0a2.5 2.5 0 1 0 -5.1 0zM730.0 251.4a2.5 2.5 0 1 0 5.1 0a2.5 2.5 0 1 0 -5.1 0zM733.8 265.5a2.5 2.5 0 1 0 5.1 0a2.5 2.5 0 1 0 -5.1 0zM733.8 258.4a2.5 2.5 0 1 0 5.1 0a2.5 2.5 0 1 0 -5.1 0zM733.8 251.4a2.5 2.5 0 1 0 5.1 0a2.5 2.5 0 1 0 -5.1 0zM737.4 265.4a2.5 2.5 0 1 0 5.1 0a2.5 2.5 0 1 0 -5.1 0zM737.4 258.4a2.5 2.5 0 1 0 5.1 0a2.5 2.5 0 1 0 -5.1 0zM737.4 251.4a2.5 2.5 0 1 0 5.1 0a2.5 2.5 0 1 0 -5.1 0zM741.1 265.4a2.5 2.5 0 1 0 5.1 0a2.5 2.5 0 1 0 -5.1 0zM741.1 258.4a2.5 2.5 0 1 0 5.1 0a2.5 2.5 0 1 0 -5.1 0zM741.1 251.4a2.5 2.5 0 1 0 5.1 0a2.5 2.5 0 1 0 -5.1 0z" fill="#a4acfc"/>
<path d="M648.4 397.3a2.5 2.5 0 1 0 5.1 0a2.5 2.5 0 1 0 -5.1 0zM706.1 417.0a2.5 2.5 0 1 0 5.1 0a2.5 2.5 0 1 0 -5.1 0z" fill="#b0ac18"/>
<path d="M653.9 413.4a2.5 2.5 0 1 0 5.1 0a2.5 2.5 0 1 0 -5.1 0z" fill="#845000"/>
<path d="M653.9 391.0a2.5 2.5 0 1 0 5.1 0a2.5 2.5 0 1 0 -5.1 0z" fill="#40c840"/>
<path d="M653.9 384.8a2.5 2.5 0 1 0 5.1 0a2.5 2.5 0 1 0 -5.1 0z" fill="#20e4a4"/>
<path d="M653.9 352.8a2.5 2.5 0 1 0 5.1 0a2.5 2.5 0 1 0 -5.1 0z" fill="#5cd0f8"/>
<path d="M659.2 423.3a2.5 2.5 0 1 0 5.1 0a2.5 2.5 0 1 0 -5.1 0z" fill="#2c1c00"/>
<path d="M659.2 418.3a2.5 2.5 0 1 0 5.1 0a2.5 2.5 0 1 0 -5.1 0z" fill="#603c00"/>
<path d="M659.2 378.0a2.5 2.5 0 1 0 5.1 0a2.5 2.5 0 1 0 -5.1 0zM722.3 399.4a2.5 2.5 0 1 0 5.1 0a2.5 2.5 0 1 0 -5.1 0z" fill="#18f0f4"/>
<path d="M664.4 407.7a2.5 2.5 0 1 0 5.1 0a2.5 2.5 0 1 0 -5.1 0zM710.3 422.3a2.5 2.5 0 1 0 5.1 0a2.5 2.5 0 1 0 -5.1 0z" fill="#e89c04"/>
<path d="M664.4 396.2a2.5 2.5 0 1 0 5.1 0a2.5 2.5 0 1 0 -5.1 0z" fill="#50c43c"/>
<path d="M664.4 390.2a2.5 2.5 0 1 0 5.1 0a2.5 2.5 0 1 0 -5.1 0zM693.1 400.5a2.5 2.5 0 1 0 5.1 0a2.5 2.5 0 1 0 -5.1 0z" fill="#28dc94"/>
<path d="M664.4 377.7a2.5 2.5 0 1 0 5.1 0a2.5 2.5 0 1 0 -5.1 0zM733.8 399.1a2.5 2.5 0 1 0 5.1 0a2.5 2.5 0 1 0 -5.1 0z" fill="#20e8f4"/>
<path d="M664.4 186.9a2.5 2.5 0 1 0 5.1 0a2.5 2.5 0 1 0 -5.1 0zM669.4 194.2a2.5 2.5 0 1 0 5.1 0a2.5 2.5 0 1 0 -5.1 0zM669.4 186.8a2.5 2.5 0 1 0 5.1 0a2.5 2.5 0 1 0 -5.1 0zM674.4 201.6a2.5 2.5 0 1 0 5.1 0a2.5 2.5 0 1 0 -5.1 0zM674.4 194.2a2.5 2.5 0 1 0 5.1 0a2.5 2.5 0 1 0 -5.1 0zM679.2 208.9a2.5 2.5 0 1 0 5.1 0a2.5 2.5 0 1 0 -5.1 0zM679.2 201.5a2.5 2.5 0 1 0 5.1 0a2.5 2.5 0 1 0 -5.1 0zM683.9 208.8a2.5 2.5 0 1 0 5.1 0a2.5 2.5 0 1 0 -5.1 0zM688.5 216.1a2.5 2.5 0 1 0 5.1 0a2.5 2.5 0 1 0 -5.1 0zM693.1 223.3a2.5 2.5 0 1 0 5.1 0a2.5 2.5 0 1 0 -5.1 0zM693.1 216.0a2.5 2.5 0 1 0 5.1 0a2.5 2.5 0 1 0 -5.1 0zM697.5 223.2a2.5 2.5 0 1 0 5.1 0a2.5 2.5 0 1 0 -5.1 0zM701.9 230.4a2.5 2.5 0 1 0 5.1 0a2.5 2.5 0 1 0 -5.1 0zM701.9 223.2a2.5 2.5 0 1 0 5.1 0a2.5 2.5 0 1 0 -5.1 0zM706.1 230.3a2.5 2.5 0 1 0 5.1 0a2.5 2.5 0 1 0 -5.1 0zM710.3 237.4a2.5 2.5 0 1 0 5.1 0a2.5 2.5 0 1 0 -5.1 0zM710.3 230.3a2.5 2.5 0 1 0 5.1 0a2.5 2.5 0 1 0 -5.1 0zM714.4 237.4a2.5 2.5 0 1 0 5.1 0a2.5 2.5 0 1 0 -5.1 0zM718.4 237.4a2.5 2.5 0 1 0 5.1 0a2.5 2.5 0 1 0 -5.1 0zM722.3 237.4a2.5 2.5 0 1 0 5.1 0a2.5 2.5 0 1 0 -5.1 0zM726.2 244.4a2.5 2.5 0 1 0 5.1 0a2.5 2.5 0 1 0 -5.1 0zM730.0 244.4a2.5 2.5 0 1 0 5.1 0a2.5 2.5 0 1 0 -5.1 0zM733.8 244.4a2.5 2.5 0 1 0 5.1 0a2.5 2.5 0 1 0 -5.1 0zM737.4 244.4a2.5 2.5 0 1 0 5.1 0a2.5 2.5 0 1 0 -5.1 0z" fill="#a4a8fc"/>
<path d="M669.4 401.8a2.5 2.5 0 1 0 5.1 0a2.5 2.5 0 1 0 -5.1 0zM683.9 406.8a2.5 2.5 0 1 0 5.1 0a2.5 2.5 0 1 0 -5.1 0z" fill="#80b828"/>
<path d="M669.4 389.8a2.5 2.5 0 1 0 5.1 0a2.5 2.5 0 1 0 -5.1 0z" fill="#1ce8b8"/>
<path d="M674.4 401.5a2.5 2.5 0 1 0 5.1 0a2.5 2.5 0 1 0 -5.1 0zM722.3 416.5a2.5 2.5 0 1 0 5.1 0a2.5 2.5 0 1 0 -5.1 0z" fill="#64bc34"/>
<path d="M674.4 395.6a2.5 2.5 0 1 0 5.1 0a2.5 2.5 0 1 0 -5.1 0z" fill="#30d878"/>
<path d="M674.4 389.5a2.5 2.5 0 1 0 5.1 0a2.5 2.5 0 1 0 -5.1 0z" fill="#10f0dc"/>
<path d="M674.4 186.7a2.5 2.5 0 1 0 5.1 0a2.5 2.5 0 1 0 -5.1 0zM679.2 194.1a2.5 2.5 0 1 0 5.1 0a2.5 2.5 0 1 0 -5.1 0zM679.2 186.7a2.5 2.5 0 1 0 5.1 0a2.5 2.5 0 1 0 -5.1 0zM683.9 201.5a2.5 2.5 0 1 0 5.1 0a2.5 2.5 0 1 0 -5.1 0zM683.9 194.1a2.5 2.5 0 1 0 5.1 0a2.5 2.5 0 1 0 -5.1 0zM683.9 186.6a2.5 2.5 0 1 0 5.1 0a2.5 2.5 0 1 0 -5.1 0zM688.5 208.8a2.5 2.5 0 1 0 5.1 0a2.5 2.5 0 1 0 -5.1 0zM688.5 201.4a2.5 2.5 0 1 0 5.1 0a2.5 2.5 0 1 0 -5.1 0zM688.5 194.0a2.5 2.5 0 1 0 5.1 0a2.5 2.5 0 1 0 -5.1 0zM688.5 186.5a2.5 2.5 0 1 0 5.1 0a2.5 2.5 0 1 0 -5.1 0zM693.1 208.7a2.5 2.5 0 1 0 5.1 0a2.5 2.5 0 1 0 -5.1 0zM693.1 201.4a2.5 2.5 0 1 0 5.1 0a2.5 2.5 0 1 0 -5.1 0zM693.1 194.0a2.5 2.5 0 1 0 5.1 0a2.5 2.5 0 1 0 -5.1 0zM693.1 186.5a2.5 2.5 0 1 0 5.1 0a2.5 2.5 0 1 0 -5.1 0zM697.5 216.0a2.5 2.5 0 1 0 5.1 0a2.5 2.5 0 1 0 -5.1 0zM697.5 208.7a2.5 2.5 0 1 0 5.1 0a2.5 2.5 0 1 0 -5.1 0zM697.5 201.3a2.5 2.5 0 1 0 5.1 0a2.5 2.5 0 1 0 -5.1 0zM697.5 193.9a2.5 2.5 0 1 0 5.1 0a2.5 2.5 0 1 0 -5.1 0zM697.5 186.4a2.5 2.5 0 1 0 5.1 0a2.5 2.5 0 1 0 -5.1 0zM701.9 215.9a2.5 2.5 0 1 0 5.1 0a2.5 2.5 0 1 0 -5.1 0zM701.9 208.6a2.5 2.5 0 1 0 5.1 0a2.5 2.5 0 1 0 -5.1 0zM701.9 201.3a2.5 2.5 0 1 0 5.1 0a2.5 2.5 0 1 0 -5.1 0zM701.9 193.8a2.5 2.5 0 1 0 5.1 0a2.5 2.5 0 1 0 -5.1 0zM701.9 186.4a2.5 2.5 0 1 0 5.1 0a2.5 2.5 0 1 0 -5.1 0zM706.1 223.1a2.5 2.5 0 1 0 5.1 0a2.5 2.5 0 1 0 -5.1 0zM706.1 215.9a2.5 2.5 0 1 0 5.1 0a2.5 2.5 0 1 0 -5.1 0zM706.1 208.6a2.5 2.5 0 1 0 5.1 0a2.5 2.5 0 1 0 -5.1 0zM706.1 201.2a2.5 2.5 0 1 0 5.1 0a2.5 2.5 0 1 0 -5.1 0zM706.1 193.8a2.5 2.5 0 1 0 5.1 0a2.5 2.5 0 1 0 -5.1 0zM706.1 186.3a2.5 2.5 0 1 0 5.1 0a2.5 2.5 0 1 0 -5.1 0zM710.3 223.1a2.5 2.5 0 1 0 5.1 0a2.5 2.5 0 1 0 -5.1 0zM710.3 215.9a2.5 2.5 0 1 0 5.1 0a2.5 2.5 0 1 0 -5.1 0zM710.3 208.5a2.5 2.5 0 1 0 5.1 0a2.5 2.5 0 1 0 -5.1 0zM710.3 201.2a2.5 2.5 0 1 0 5.1 0a2.5 2.5 0 1 0 -5.1 0zM710.3 193.7a2.5 2.5 0 1 0 5.1 0a2.5 2.5 0 1 0 -5.1 0zM710.3 186.3a2.5 2.5 0 1 0 5.1 0a2.5 2.5 0 1 0 -5.1 0zM714.4 230.3a2.5 2.5 0 1 0 5.1 0a2.5 2.5 0 1 0 -5.1 0zM714.4 223.1a2.5 2.5 0 1 0 5.1 0a2.5 2.5 0 1 0 -5.1 0zM714.4 215.8a2.5 2.5 0 1 0 5.1 0a2.5 2.5 0 1 0 -5.1 0zM714.4 208.5a2.5 2.5 0 1 0 5.1 0a2.5 2.5 0 1 0 -5.1 0zM714.4 201.1a2.5 2.5 0 1 0 5.1 0a2.5 2.5 0 1 0 -5.1 0zM714.4 193.7a2.5 2.5 0 1 0 5.1 0a2.5 2.5 0 1 0 -5.1 0zM714.4 186.3a2.5 2.5 0 1 0 5.1 0a2.5 2.5 0 1 0 -5.1 0zM718.4 230.2a2.5 2.5 0 1 0 5.1 0a2.5 2.5 0 1 0 -5.1 0zM718.4 223.0a2.5 2.5 0 1 0 5.1 0a2.5 2.5 0 1 0 -5.1 0zM718.4 215.8a2.5 2.5 0 1 0 5.1 0a2.5 2.5 0 1 0 -5.1 0zM718.4 208.4a2.5 2.5 0 1 0 5.1 0a2.5 2.5 0 1 0 -5.1 0zM718.4 201.1a2.5 2.5 0 1 0 5.1 0a2.5 2.5 0 1 0 -5.1 0zM718.4 193.7a2.5 2.5 0 1 0 5.1 0a2.5 2.5 0 1 0 -5.1 0zM718.4 186.3a2.5 2.5 0 1 0 5.1 0a2.5 2.5 0 1 0 -5.1 0zM722.3 230.2a2.5 2.5 0 1 0 5.1 0a2.5 2.5 0 1 0 -5.1 0zM722.3 223.0a2.5 2.5 0 1 0 5.1 0a2.5 2.5 0 1 0 -5.1 0zM722.3 215.7a2.5 2.5 0 1 0 5.1 0a2.5 2.5 0 1 0 -5.1 0zM722.3 208.4a2.5 2.5 0 1 0 5.1 0a2.5 2.5 0 1 0 -5.1 0zM722.3 201.1a2.5 2.5 0 1 0 5.1 0a2.5 2.5 0 1 0 -5.1 0zM722.3 193.7a2.5 2.5 0 1 0 5.1 0a2.5 2.5 0 1 0 -5.1 0zM722.3 186.3a2.5 2.5 0 1 0 5.1 0a2.5 2.5 0 1 0 -5.1 0zM726.2 237.3a2.5 2.5 0 1 0 5.1 0a2.5 2.5 0 1 0 -5.1 0zM726.2 230.2a2.5 2.5 0 1 0 5.1 0a2.5 2.5 0 1 0 -5.1 0zM726.2 223.0a2.5 2.5 0 1 0 5.1 0a2.5 2.5 0 1 0 -5.1 0zM726.2 215.7a2.5 2.5 0 1 0 5.1 0a2.5 2.5 0 1 0 -5.1 0zM726.2 208.4a2.5 2.5 0 1 0 5.1 0a2.5 2.5 0 1 0 -5.1 0zM726.2 201.1a2.5 2.5 0 1 0 5.1 0a2.5 2.5 0 1 0 -5.1 0zM726.2 193.7a2.5 2.5 0 1 0 5.1 0a2.5 2.5 0 1 0 -5.1 0zM726.2 186.3a2.5 2.5 0 1 0 5.1 0a2.5 2.5 0 1 0 -5.1 0zM730.0 237.3a2.5 2.5 0 1 0 5.1 0a2.5 2.5 0 1 0 -5.1 0zM730.0 230.2a2.5 2.5 0 1 0 5.1 0a2.5 2.5 0 1 0 -5.1 0zM730.0 222.9a2.5 2.5 0 1 0 5.1 0a2.5 2.5 0 1 0 -5.1 0zM730.0 215.7a2.5 2.5 0 1 0 5.1 0a2.5 2.5 0 1 0 -5.1 0zM730.0 208.4a2.5 2.5 0 1 0 5.1 0a2.5 2.5 0 1 0 -5.1 0zM730.0 201.1a2.5 2.5 0 1 0 5.1 0a2.5 2.5 0 1 0 -5.1 0zM730.0 193.7a2.5 2.5 0 1 0 5.1 0a2.5 2.5 0 1 0 -5.1 0zM730.0 186.3a2.5 2.5 0 1 0 5.1 0a2.5 2.5 0 1 0 -5.1 0zM733.8 237.3a2.5 2.5 0 1 0 5.1 0a2.5 2.5 0 1 0 -5.1 0zM733.8 230.1a2.5 2.5 0 1 0 5.1 0a2.5 2.5 0 1 0 -5.1 0zM733.8 222.9a2.5 2.5 0 1 0 5.1 0a2.5 2.5 0 1 0 -5.1 0zM733.8 215.6a2.5 2.5 0 1 0 5.1 0a2.5 2.5 0 1 0 -5.1 0zM733.8 208.4a2.5 2.5 0 1 0 5.1 0a2.5 2.5 0 1 0 -5.1 0zM733.8 201.1a2.5 2.5 0 1 0 5.1 0a2.5 2.5 0 1 0 -5.1 0zM733.8 193.7a2.5 2.5 0 1 0 5.1 0a2.5 2.5 0 1 0 -5.1 0zM733.8 186.3a2.5 2.5 0 1 0 5.1 0a2.5 2.5 0 1 0 -5.1 0zM737.4 237.3a2.5 2.5 0 1 0 5.1 0a2.5 2.5 0 1 0 -5.1 0zM737.4 230.1a2.5 2.5 0 1 0 5.1 0a2.5 2.5 0 1 0 -5.1 0zM737.4 222.9a2.5 2.5 0 1 0 5.1 0a2.5 2.5 0 1 0 -5.1 0zM737.4 215.6a2.5 2.5 0 1 0 5.1 0a2.5 2.5 0 1 0 -5.1 0zM737.4 208.4a2.5 2.5 0 1 0 5.1 0a2.5 2.5 0 1 0 -5.1 0zM737.4 201.1a2.5 2.5 0 1 0 5.1 0a2.5 2.5 0 1 0 -5.1 0zM737.4 193.7a2.5 2.5 0 1 0 5.1 0a2.5 2.5 0 1 0 -5.1 0zM737.4 186.3a2.5 2.5 0 1 0 5.1 0a2.5 2.5 0 1 0 -5.1 0zM741.1 244.4a2.5 2.5 0 1 0 5.1 0a2.5 2.5 0 1 0 -5.1 0zM741.1 237.3a2.5 2.5 0 1 0 5.1 0a2.5 2.5 0 1 0 -5.1 0zM741.1 230.1a2.5 2.5 0 1 0 5.1 0a2.5 2.5 0 1 0 -5.1 0zM741.1 222.9a2.5 2.5 0 1 0 5.1 0a2.5 2.5 0 1 0 -5.1 0zM741.1 215.6a2.5 2.5 0 1 0 5.1 0a2.5 2.5 0 1 0 -5.1 0zM741.1 208.4a2.5 2.5 0 1 0 5.1 0a2.5 2.5 0 1 0 -5.1 0zM741.1 201.1a2.5 2.5 0 1 0 5.1 0a2.5 2.5 0 1 0 -5.1 0zM741.1 193.7a2.5 2.5 0 1 0 5.1 0a2.5 2.5 0 1 0 -5.1 0zM741.1 186.3a2.5 2.5 0 1 0 5.1 0a2.5 2.5 0 1 0 -5.1 0z" fill="#a8a8fc"/>
<path d="M679.2 412.6a2.5 2.5 0 1 0 5.1 0a2.5 2.5 0 1 0 -5.1 0z" fill="#e49c08"/>
<path d="M679.2 395.3a2.5 2.5 0 1 0 5.1 0a2.5 2.5 0 1 0 -5.1 0z" fill="#24e098"/>
<path d="M683.9 417.7a2.5 2.5 0 1 0 5.1 0a2.5 2.5 0 1 0 -5.1 0z" fill="#e08400"/>
<path d="M688.5 406.6a2.5 2.5 0 1 0 5.1 0a2.5 2.5 0 1 0 -5.1 0z" fill="#68bc34"/>
<path d="M688.5 400.7a2.5 2.5 0 1 0 5.1 0a2.5 2.5 0 1 0 -5.1 0z" fill="#30d474"/>
<path d="M697.5 382.3a2.5 2.5 0 1 0 5.1 0a2.5 2.5 0 1 0 -5.1 0zM741.1 393.2a2.5 2.5 0 1 0 5.1 0a2.5 2.5 0 1 0 -5.1 0z" fill="#38dcf4"/>
<path d="M701.9 422.5a2.5 2.5 0 1 0 5.1 0a2.5 2.5 0 1 0 -5.1 0z" fill="#ec8c00"/>
<path d="M701.9 411.6a2.5 2.5 0 1 0 5.1 0a2.5 2.5 0 1 0 -5.1 0z" fill="#74bc2c"/>
<path d="M701.9 406.0a2.5 2.5 0 1 0 5.1 0a2.5 2.5 0 1 0 -5.1 0z" fill="#34d064"/>
<path d="M714.4 437.3a2.5 2.5 0 1 0 5.1 0a2.5 2.5 0 1 0 -5.1 0z" fill="#382000"/>
<path d="M714.4 405.5a2.5 2.5 0 1 0 5.1 0a2.5 2.5 0 1 0 -5.1 0zM733.8 410.6a2.5 2.5 0 1 0 5.1 0a2.5 2.5 0 1 0 -5.1 0z" fill="#20e4ac"/>
<path d="M722.3 410.9a2.5 2.5 0 1 0 5.1 0a2.5 2.5 0 1 0 -5.1 0z" fill="#30d478"/>
<path d="M726.2 432.2a2.5 2.5 0 1 0 5.1 0a2.5 2.5 0 1 0 -5.1 0z" fill="#b06800"/>
<path d="M726.2 416.4a2.5 2.5 0 1 0 5.1 0a2.5 2.5 0 1 0 -5.1 0z" fill="#54c038"/>
<path d="M726.2 410.8a2.5 2.5 0 1 0 5.1 0a2.5 2.5 0 1 0 -5.1 0z" fill="#28dc88"/>
<path d="M730.0 416.3a2.5 2.5 0 1 0 5.1 0a2.5 2.5 0 1 0 -5.1 0z" fill="#48c43c"/>
<path d="M730.0 410.7a2.5 2.5 0 1 0 5.1 0a2.5 2.5 0 1 0 -5.1 0z" fill="#24e09c"/>
<path d="M84.7 -28.0L88.0 -19.8L91.3 -11.6L94.6 -3.6L97.9 4.3L101.2 12.1L104.5 19.7L107.8 27.2L111.1 34.6L114.4 41.9L117.6 49.1L120.9 56.1L124.2 63.1L127.5 69.9L130.8 76.6L134.1 83.2L137.4 89.7L140.7 96.1L144.0 102.4L147.3 108.6L150.6 114.7L153.9 120.7L157.2 126.6L160.5 132.4L163.8 138.1L167.1 143.7L170.4 149.3L173.7 154.7L176.9 160.0L180.2 165.3L183.5 170.5L186.8 175.6L190.1 180.6L193.4 185.6L196.7 190.4L200.0 195.2L203.3 199.9L206.6 204.5L209.9 209.1L213.2 213.6L216.5 218.0L219.8 222.3L223.1 226.6L226.4 230.8L229.7 234.9L233.0 239.0L236.2 243.0L239.5 246.9L242.8 250.8L246.1 254.6L249.4 258.4L252.7 262.1L256.0 265.7L259.3 269.3L262.6 272.8L265.9 276.3L269.2 279.7L272.5 283.0L275.8 286.3L279.1 289.6L282.4 292.7L285.7 295.9L289.0 299.0L292.3 302.0L295.5 305.0L298.8 308.0L302.1 310.9L305.4 313.7L308.7 316.5L312.0 319.3L315.3 322.0L318.6 324.7L321.9 327.3L325.2 329.9L328.5 332.4L331.8 334.9L335.1 337.4L338.4 339.8L341.7 342.2L345.0 344.5L348.3 346.9L351.6 349.1L354.8 351.4L358.1 353.6L361.4 355.7L364.7 357.9L368.0 360.0L371.3 362.0L374.6 364.0L377.9 366.0L381.2 368.0L384.5 369.9L387.8 371.8L391.1 373.7L394.4 375.6L397.7 377.4L401.0 379.2L404.3 380.9L407.6 382.6L410.9 384.3L414.1 386.0L417.4 387.7L420.7 389.3L424.0 390.9L427.3 392.4L430.6 394.0L433.9 395.5L437.2 397.0L440.5 398.5L443.8 399.9L447.1 401.3L450.4 402.7L453.7 404.1L457.0 405.5L460.3 406.8L463.6 408.1L466.9 409.4L470.2 410.7L473.5 411.9L476.7 413.1L480.0 414.4L483.3 415.5L486.6 416.7L489.9 417.9L493.2 419.0L496.5 420.1L499.8 421.2L503.1 422.3L506.4 423.4L509.7 424.4L513.0 425.4L516.3 426.4L519.6 427.4L522.9 428.4L526.2 429.4L529.5 430.3L532.8 431.3L536.0 432.2L539.3 433.1L542.6 434.0L545.9 434.9L549.2 435.7L552.5 436.6L555.8 437.4L559.1 438.2L562.4 439.0L565.7 439.8L569.0 440.6L572.3 441.4L575.6 442.1L578.9 442.9L582.2 443.6L585.5 444.3L588.8 445.1L592.1 445.7L595.3 446.4L598.6 447.1L601.9 447.8L605.2 448.4L608.5 449.1L611.8 449.7L615.1 450.3L618.4 450.9L621.7 451.6L625.0 452.1L628.3 452.7L631.6 453.3L634.9 453.9L638.2 454.4L641.5 455.0L644.8 455.5L648.1 456.0L651.4 456.6L654.6 457.1L657.9 457.6L661.2 458.1L664.5 458.6L667.8 459.1L671.1 459.5L674.4 460.0L677.7 460.5L681.0 460.9L684.3 461.3L687.6 461.8L690.9 462.2L694.2 462.6L697.5 463.1L700.8 463.5L704.1 463.9L707.4 464.3L710.7 464.7L713.9 465.0L717.2 465.4L720.5 465.8L723.8 466.2L727.1 466.5L730.4 466.9L733.7 467.2L737.0 467.6L740.3 467.9L743.6 468.2" fill="none" stroke="#a0a0a0" stroke-width="2.3"/>
<path d="M99.5 -93.3L102.8 -85.6L106.0 -78.0L109.2 -70.5L112.4 -63.1L115.6 -55.8L118.9 -48.6L122.1 -41.5L125.3 -34.4L128.5 -27.5L131.7 -20.7L135.0 -13.9L138.2 -7.3L141.4 -0.7L144.6 5.8L147.8 12.2L151.1 18.5L154.3 24.7L157.5 30.8L160.7 36.9L163.9 42.9L167.2 48.8L170.4 54.6L173.6 60.3L176.8 66.0L180.0 71.6L183.3 77.1L186.5 82.6L189.7 88.0L192.9 93.3L196.1 98.5L199.4 103.7L202.6 108.8L205.8 113.8L209.0 118.8L212.2 123.7L215.5 128.5L218.7 133.3L221.9 138.0L225.1 142.6L228.3 147.2L231.6 151.7L234.8 156.2L238.0 160.6L241.2 164.9L244.4 169.2L247.7 173.4L250.9 177.6L254.1 181.7L257.3 185.8L260.5 189.8L263.8 193.8L267.0 197.7L270.2 201.5L273.4 205.3L276.7 209.1L279.9 212.8L283.1 216.4L286.3 220.0L289.5 223.6L292.8 227.1L296.0 230.6L299.2 234.0L302.4 237.3L305.6 240.7L308.9 244.0L312.1 247.2L315.3 250.4L318.5 253.5L321.7 256.7L325.0 259.7L328.2 262.8L331.4 265.8L334.6 268.7L337.8 271.6L341.1 274.5L344.3 277.3L347.5 280.1L350.7 282.9L353.9 285.6L357.2 288.3L360.4 290.9L363.6 293.6L366.8 296.1L370.0 298.7L373.3 301.2L376.5 303.7L379.7 306.1L382.9 308.6L386.1 310.9L389.4 313.3L392.6 315.6L395.8 317.9L399.0 320.2L402.2 322.4L405.5 324.6L408.7 326.8L411.9 328.9L415.1 331.0L418.3 333.1L421.6 335.2L424.8 337.2L428.0 339.2L431.2 341.2L434.4 343.1L437.7 345.1L440.9 347.0L444.1 348.8L447.3 350.7L450.5 352.5L453.8 354.3L457.0 356.1L460.2 357.9L463.4 359.6L466.7 361.3L469.9 363.0L473.1 364.6L476.3 366.3L479.5 367.9L482.8 369.5L486.0 371.1L489.2 372.6L492.4 374.2L495.6 375.7L498.9 377.2L502.1 378.7L505.3 380.1L508.5 381.6L511.7 383.0L515.0 384.4L518.2 385.7L521.4 387.1L524.6 388.5L527.8 389.8L531.1 391.1L534.3 392.4L537.5 393.7L540.7 394.9L543.9 396.2L547.2 397.4L550.4 398.6L553.6 399.8L556.8 401.0L560.0 402.1L563.3 403.3L566.5 404.4L569.7 405.5L572.9 406.6L576.1 407.7L579.4 408.8L582.6 409.8L585.8 410.9L589.0 411.9L592.2 412.9L595.5 413.9L598.7 414.9L601.9 415.9L605.1 416.8L608.3 417.8L611.6 418.7L614.8 419.7L618.0 420.6L621.2 421.5L624.4 422.4L627.7 423.2L630.9 424.1L634.1 425.0L637.3 425.8L640.5 426.6L643.8 427.4L647.0 428.3L650.2 429.1L653.4 429.8L656.7 430.6L659.9 431.4L663.1 432.1L666.3 432.9L669.5 433.6L672.8 434.4L676.0 435.1L679.2 435.8L682.4 436.5L685.6 437.2L688.9 437.9L692.1 438.5L695.3 439.2L698.5 439.8L701.7 440.5L705.0 441.1L708.2 441.8L711.4 442.4L714.6 443.0L717.8 443.6L721.1 444.2L724.3 444.8L727.5 445.4L730.7 445.9L733.9 446.5L737.2 447.1L740.4 447.6L743.6 448.1" fill="none" stroke="#ff0000" stroke-width="4.5"/>
</g>
<rect x="507.5" y="46.5" width="218" height="46.7" fill="#fff" stroke="#d4d4d4" stroke-width="1"/>
<rect x="92.2" y="435.8" width="286.7" height="45.5" fill="#fff" stroke="#d4d4d4" stroke-width="1"/>
<path d="M743.6 23.5H84.7V488.6H743.6" fill="none" stroke="#000" stroke-width="2.6" stroke-linecap="square"/>
<path d="M744.0 23.5V488.6" fill="none" stroke="#000" stroke-width="1.5"/>
</svg>
<div style="position:absolute;white-space:nowrap;line-height:1;font-size:21.3px;color:#000;top:478.2px;right:715.2px;">0</div>
<div style="position:absolute;white-space:nowrap;line-height:1;font-size:21.3px;color:#000;top:361.9px;right:715.2px;">5</div>
<div style="position:absolute;white-space:nowrap;line-height:1;font-size:21.3px;color:#000;top:245.7px;right:715.2px;">10</div>
<div style="position:absolute;white-space:nowrap;line-height:1;font-size:21.3px;color:#000;top:129.4px;right:715.2px;">15</div>
<div style="position:absolute;white-space:nowrap;line-height:1;font-size:21.3px;color:#000;top:13.1px;right:715.2px;">20</div>
<div style="position:absolute;white-space:nowrap;line-height:1;font-size:20.8px;color:#000;top:497.7px;left:101.7px;width:200px;margin-left:-100px;text-align:center;">0.03</div>
<div style="position:absolute;white-space:nowrap;line-height:1;font-size:20.8px;color:#000;top:497.7px;left:211.6px;width:200px;margin-left:-100px;text-align:center;">0.05</div>
<div style="position:absolute;white-space:nowrap;line-height:1;font-size:20.8px;color:#000;top:497.7px;left:360.6px;width:200px;margin-left:-100px;text-align:center;">0.1</div>
<div style="position:absolute;white-space:nowrap;line-height:1;font-size:20.8px;color:#000;top:497.7px;left:509.6px;width:200px;margin-left:-100px;text-align:center;">0.2</div>
<div style="position:absolute;white-space:nowrap;line-height:1;font-size:20.8px;color:#000;top:497.7px;left:658.6px;width:200px;margin-left:-100px;text-align:center;">0.4</div>
<div style="position:absolute;white-space:nowrap;line-height:1;font-size:20.8px;color:#000;top:497.7px;left:745.8px;width:200px;margin-left:-100px;text-align:center;">0.6</div>
<div style="position:absolute;white-space:nowrap;line-height:1;font-size:21.0px;color:#000;top:528.4px;left:413.6px;width:200px;margin-left:-100px;text-align:center;letter-spacing:0.15px;width:300px;margin-left:-150px;">Semimajor axis a [AU]</div>
<div style="position:absolute;white-space:nowrap;line-height:1;font-size:20.9px;color:#ff0000;top:60.1px;left:517.0px;">I1: Icy cores</div>
<div style="position:absolute;left:0;top:0;width:0;height:0;">
<div style="position:absolute;white-space:nowrap;line-height:1;font-size:21px;letter-spacing:0.37px;color:#000;left:24.6px;top:255.0px;transform-origin:0 0;transform:rotate(-90deg) translate(-50%,-100%);">Planet Mass [M<span style="font-size:16.8px;position:relative;top:4.6px;">Earth</span>]</div>
</div>
<div style="position:absolute;white-space:nowrap;line-height:1;font-size:20.6px;color:#f00;left:98.8px;top:446.4px;">M<span style="font-size:17.2px;position:relative;top:4.8px;margin-left:1.5px">bare</span><span style="margin-left:1px">=</span></div>
<div style="position:absolute;white-space:nowrap;line-height:1;font-size:20.6px;color:#f00;left:186.2px;top:446.4px;">8.57 (a<span style="margin:0 2.3px">/</span>0.1AU)</div>
<div style="position:absolute;white-space:nowrap;line-height:1;font-size:20px;color:#f00;left:324.2px;top:439.4px;">-0.89</div>
</body></html>
